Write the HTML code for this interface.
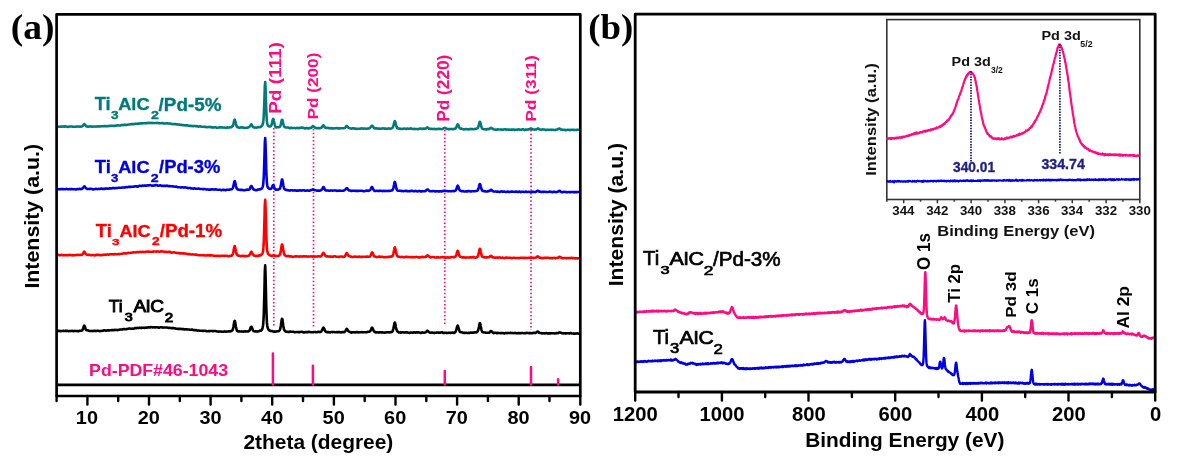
<!DOCTYPE html>
<html><head><meta charset="utf-8"><style>
html,body{margin:0;padding:0;background:#fff;}
body{width:1178px;height:462px;overflow:hidden;}
svg{display:block;filter:blur(0.3px);}
</style></head><body>
<svg width="1178" height="462" viewBox="0 0 1178 462">
<rect width="1178" height="462" fill="#fff"/>
<line x1="273.8" y1="128" x2="273.8" y2="326" stroke="#ff0a80" stroke-width="1.7" stroke-dasharray="1.5 2.2"/>
<line x1="313.5" y1="129" x2="313.5" y2="327" stroke="#ff0a80" stroke-width="1.7" stroke-dasharray="1.5 2.2"/>
<line x1="444.8" y1="130" x2="444.8" y2="325" stroke="#ff0a80" stroke-width="1.7" stroke-dasharray="1.5 2.2"/>
<line x1="531.0" y1="130" x2="531.0" y2="330" stroke="#ff0a80" stroke-width="1.7" stroke-dasharray="1.5 2.2"/>
<path d="M56.6,126.7 L56.9,126.7 L57.3,126.6 L57.6,126.6 L58.0,126.6 L58.3,126.7 L58.7,126.7 L59.0,126.7 L59.4,126.7 L59.7,126.7 L60.1,126.7 L60.4,126.6 L60.8,126.6 L61.1,126.6 L61.5,126.6 L61.8,126.6 L62.2,126.6 L62.5,126.5 L62.9,126.5 L63.2,126.5 L63.6,126.6 L63.9,126.7 L64.3,126.7 L64.6,126.5 L65.0,126.4 L65.3,126.3 L65.7,126.4 L66.0,126.5 L66.4,126.7 L66.7,126.8 L67.1,126.8 L67.4,126.8 L67.8,126.8 L68.1,126.9 L68.5,126.9 L68.8,126.7 L69.2,126.6 L69.5,126.5 L69.9,126.5 L70.2,126.5 L70.6,126.5 L70.9,126.5 L71.3,126.5 L71.6,126.5 L72.0,126.6 L72.3,126.6 L72.7,126.7 L73.0,126.7 L73.4,126.8 L73.7,126.8 L74.1,126.7 L74.4,126.7 L74.8,126.7 L75.1,126.7 L75.5,126.7 L75.8,126.7 L76.2,126.6 L76.5,126.6 L76.9,126.5 L77.2,126.5 L77.6,126.6 L77.9,126.5 L78.3,126.5 L78.6,126.5 L79.0,126.5 L79.3,126.6 L79.7,126.6 L80.0,126.6 L80.4,126.5 L80.7,126.6 L81.1,126.6 L81.4,126.5 L81.8,126.4 L82.1,126.4 L82.5,126.2 L82.8,125.9 L83.2,125.4 L83.5,124.8 L83.9,124.4 L84.2,124.1 L84.5,124.2 L84.9,124.5 L85.2,124.9 L85.6,125.4 L85.9,125.9 L86.3,126.2 L86.6,126.4 L87.0,126.5 L87.3,126.6 L87.7,126.7 L88.0,126.7 L88.4,126.7 L88.7,126.6 L89.1,126.5 L89.4,126.5 L89.8,126.4 L90.1,126.4 L90.5,126.4 L90.8,126.4 L91.2,126.5 L91.5,126.6 L91.9,126.6 L92.2,126.7 L92.6,126.7 L92.9,126.7 L93.3,126.6 L93.6,126.5 L94.0,126.5 L94.3,126.5 L94.7,126.5 L95.0,126.5 L95.4,126.5 L95.7,126.6 L96.1,126.6 L96.4,126.5 L96.8,126.5 L97.1,126.4 L97.5,126.4 L97.8,126.5 L98.2,126.5 L98.5,126.4 L98.9,126.3 L99.2,126.3 L99.6,126.4 L99.9,126.5 L100.3,126.4 L100.6,126.3 L101.0,126.3 L101.3,126.2 L101.7,126.3 L102.0,126.3 L102.4,126.3 L102.7,126.3 L103.1,126.3 L103.4,126.2 L103.8,126.1 L104.1,126.1 L104.5,126.1 L104.8,126.0 L105.2,126.1 L105.5,126.1 L105.9,126.2 L106.2,126.2 L106.6,126.2 L106.9,126.2 L107.3,126.1 L107.6,126.1 L108.0,126.1 L108.3,126.1 L108.7,126.0 L109.0,126.0 L109.4,125.9 L109.7,125.8 L110.1,125.8 L110.4,125.9 L110.8,125.9 L111.1,125.9 L111.5,125.7 L111.8,125.7 L112.1,125.8 L112.5,125.8 L112.8,125.8 L113.2,125.8 L113.5,125.9 L113.9,125.9 L114.2,126.0 L114.6,126.0 L114.9,125.8 L115.3,125.7 L115.6,125.6 L116.0,125.6 L116.3,125.6 L116.7,125.5 L117.0,125.5 L117.4,125.4 L117.7,125.4 L118.1,125.4 L118.4,125.4 L118.8,125.5 L119.1,125.5 L119.5,125.5 L119.8,125.5 L120.2,125.5 L120.5,125.5 L120.9,125.4 L121.2,125.2 L121.6,125.0 L121.9,125.0 L122.3,125.0 L122.6,125.0 L123.0,125.1 L123.3,125.1 L123.7,124.9 L124.0,124.8 L124.4,124.7 L124.7,124.8 L125.1,124.9 L125.4,124.9 L125.8,124.9 L126.1,124.9 L126.5,125.0 L126.8,124.9 L127.2,124.8 L127.5,124.6 L127.9,124.6 L128.2,124.5 L128.6,124.5 L128.9,124.5 L129.3,124.5 L129.6,124.4 L130.0,124.4 L130.3,124.3 L130.7,124.3 L131.0,124.2 L131.4,124.1 L131.7,124.1 L132.1,124.1 L132.4,124.1 L132.8,124.1 L133.1,124.1 L133.5,124.1 L133.8,124.1 L134.2,124.0 L134.5,123.9 L134.9,123.8 L135.2,123.8 L135.6,123.7 L135.9,123.7 L136.3,123.7 L136.6,123.7 L137.0,123.8 L137.3,123.7 L137.7,123.6 L138.0,123.6 L138.4,123.6 L138.7,123.6 L139.1,123.6 L139.4,123.5 L139.7,123.5 L140.1,123.4 L140.4,123.4 L140.8,123.4 L141.1,123.4 L141.5,123.4 L141.8,123.4 L142.2,123.4 L142.5,123.3 L142.9,123.3 L143.2,123.3 L143.6,123.3 L143.9,123.3 L144.3,123.3 L144.6,123.3 L145.0,123.2 L145.3,123.2 L145.7,123.2 L146.0,123.1 L146.4,123.2 L146.7,123.2 L147.1,123.1 L147.4,123.1 L147.8,123.0 L148.1,122.9 L148.5,122.9 L148.8,122.9 L149.2,122.9 L149.5,123.0 L149.9,123.1 L150.2,123.0 L150.6,123.0 L150.9,122.9 L151.3,122.9 L151.6,123.0 L152.0,123.1 L152.3,123.1 L152.7,123.0 L153.0,123.0 L153.4,123.0 L153.7,123.0 L154.1,123.0 L154.4,123.1 L154.8,123.0 L155.1,123.0 L155.5,123.0 L155.8,123.0 L156.2,123.0 L156.5,123.0 L156.9,122.9 L157.2,122.9 L157.6,122.9 L157.9,123.0 L158.3,123.1 L158.6,123.2 L159.0,123.2 L159.3,123.2 L159.7,123.2 L160.0,123.2 L160.4,123.3 L160.7,123.3 L161.1,123.2 L161.4,123.2 L161.8,123.1 L162.1,123.1 L162.5,123.1 L162.8,123.2 L163.2,123.3 L163.5,123.4 L163.9,123.5 L164.2,123.5 L164.6,123.5 L164.9,123.5 L165.3,123.5 L165.6,123.4 L166.0,123.3 L166.3,123.3 L166.7,123.3 L167.0,123.3 L167.3,123.4 L167.7,123.4 L168.0,123.5 L168.4,123.6 L168.7,123.5 L169.1,123.5 L169.4,123.5 L169.8,123.5 L170.1,123.5 L170.5,123.6 L170.8,123.7 L171.2,123.9 L171.5,124.0 L171.9,124.1 L172.2,124.1 L172.6,124.0 L172.9,124.0 L173.3,124.1 L173.6,124.1 L174.0,124.2 L174.3,124.2 L174.7,124.1 L175.0,124.1 L175.4,124.1 L175.7,124.1 L176.1,124.2 L176.4,124.3 L176.8,124.4 L177.1,124.4 L177.5,124.4 L177.8,124.4 L178.2,124.5 L178.5,124.5 L178.9,124.6 L179.2,124.6 L179.6,124.7 L179.9,124.8 L180.3,124.9 L180.6,124.9 L181.0,124.9 L181.3,124.9 L181.7,124.9 L182.0,125.0 L182.4,125.0 L182.7,125.1 L183.1,125.1 L183.4,125.1 L183.8,125.2 L184.1,125.3 L184.5,125.3 L184.8,125.3 L185.2,125.4 L185.5,125.4 L185.9,125.4 L186.2,125.4 L186.6,125.3 L186.9,125.3 L187.3,125.3 L187.6,125.4 L188.0,125.5 L188.3,125.6 L188.7,125.7 L189.0,125.7 L189.4,125.8 L189.7,125.9 L190.1,125.9 L190.4,125.8 L190.8,125.8 L191.1,125.8 L191.5,125.9 L191.8,126.0 L192.2,126.0 L192.5,126.1 L192.9,126.1 L193.2,126.1 L193.6,126.1 L193.9,126.0 L194.3,126.0 L194.6,126.0 L194.9,126.0 L195.3,126.1 L195.6,126.1 L196.0,126.1 L196.3,126.1 L196.7,126.2 L197.0,126.3 L197.4,126.4 L197.7,126.4 L198.1,126.5 L198.4,126.6 L198.8,126.6 L199.1,126.5 L199.5,126.4 L199.8,126.3 L200.2,126.3 L200.5,126.4 L200.9,126.5 L201.2,126.6 L201.6,126.7 L201.9,126.8 L202.3,126.8 L202.6,126.8 L203.0,126.8 L203.3,126.8 L203.7,126.8 L204.0,126.8 L204.4,126.9 L204.7,126.9 L205.1,126.9 L205.4,126.9 L205.8,127.0 L206.1,127.0 L206.5,127.1 L206.8,127.2 L207.2,127.2 L207.5,127.2 L207.9,127.1 L208.2,127.1 L208.6,127.0 L208.9,127.0 L209.3,127.0 L209.6,126.9 L210.0,126.9 L210.3,127.0 L210.7,127.1 L211.0,127.3 L211.4,127.4 L211.7,127.4 L212.1,127.3 L212.4,127.3 L212.8,127.4 L213.1,127.5 L213.5,127.6 L213.8,127.5 L214.2,127.4 L214.5,127.3 L214.9,127.2 L215.2,127.2 L215.6,127.3 L215.9,127.5 L216.3,127.6 L216.6,127.7 L217.0,127.7 L217.3,127.7 L217.7,127.7 L218.0,127.7 L218.4,127.6 L218.7,127.5 L219.1,127.4 L219.4,127.4 L219.8,127.4 L220.1,127.4 L220.5,127.4 L220.8,127.4 L221.2,127.3 L221.5,127.3 L221.9,127.3 L222.2,127.4 L222.5,127.5 L222.9,127.6 L223.2,127.6 L223.6,127.5 L223.9,127.5 L224.3,127.5 L224.6,127.6 L225.0,127.7 L225.3,127.8 L225.7,127.9 L226.0,127.8 L226.4,127.8 L226.7,127.7 L227.1,127.5 L227.4,127.4 L227.8,127.4 L228.1,127.5 L228.5,127.6 L228.8,127.6 L229.2,127.5 L229.5,127.4 L229.9,127.3 L230.2,127.2 L230.6,127.2 L230.9,127.2 L231.3,127.2 L231.6,127.0 L232.0,126.8 L232.3,126.4 L232.7,125.9 L233.0,125.2 L233.4,124.1 L233.7,122.7 L234.1,121.1 L234.4,119.9 L234.8,119.7 L235.1,120.6 L235.5,122.1 L235.8,123.6 L236.2,124.8 L236.5,125.8 L236.9,126.5 L237.2,127.0 L237.6,127.2 L237.9,127.3 L238.3,127.4 L238.6,127.4 L239.0,127.5 L239.3,127.7 L239.7,127.7 L240.0,127.7 L240.4,127.6 L240.7,127.5 L241.1,127.3 L241.4,127.2 L241.8,127.2 L242.1,127.4 L242.5,127.5 L242.8,127.6 L243.2,127.6 L243.5,127.7 L243.9,127.8 L244.2,127.9 L244.6,128.0 L244.9,127.9 L245.3,127.8 L245.6,127.7 L246.0,127.7 L246.3,127.7 L246.7,127.7 L247.0,127.7 L247.4,127.6 L247.7,127.6 L248.1,127.5 L248.4,127.4 L248.8,127.2 L249.1,127.0 L249.5,126.7 L249.8,126.4 L250.1,126.0 L250.5,125.4 L250.8,124.8 L251.2,124.4 L251.5,124.4 L251.9,124.9 L252.2,125.6 L252.6,126.3 L252.9,126.9 L253.3,127.2 L253.6,127.3 L254.0,127.4 L254.3,127.5 L254.7,127.6 L255.0,127.5 L255.4,127.5 L255.7,127.6 L256.1,127.7 L256.4,127.7 L256.8,127.6 L257.1,127.4 L257.5,127.2 L257.8,127.0 L258.2,127.1 L258.5,127.2 L258.9,127.3 L259.2,127.3 L259.6,127.3 L259.9,127.2 L260.3,127.0 L260.6,126.9 L261.0,126.6 L261.3,126.3 L261.7,125.9 L262.0,125.5 L262.4,125.1 L262.7,124.3 L263.1,123.0 L263.4,120.4 L263.8,115.5 L264.1,107.7 L264.5,97.1 L264.8,86.6 L265.2,82.0 L265.5,87.4 L265.9,98.3 L266.2,108.8 L266.6,116.5 L266.9,121.2 L267.3,123.7 L267.6,125.0 L268.0,125.6 L268.3,126.0 L268.7,126.1 L269.0,126.3 L269.4,126.4 L269.7,126.5 L270.1,126.5 L270.4,126.3 L270.8,126.1 L271.1,125.7 L271.5,125.0 L271.8,123.9 L272.2,122.4 L272.5,120.8 L272.9,119.4 L273.2,118.9 L273.6,119.6 L273.9,121.1 L274.3,122.7 L274.6,124.3 L275.0,125.5 L275.3,126.5 L275.7,127.1 L276.0,127.3 L276.4,127.4 L276.7,127.3 L277.1,127.3 L277.4,127.3 L277.7,127.3 L278.1,127.3 L278.4,127.2 L278.8,127.2 L279.1,127.1 L279.5,127.0 L279.8,126.8 L280.2,126.2 L280.5,125.4 L280.9,124.1 L281.2,122.5 L281.6,120.8 L281.9,119.7 L282.3,119.7 L282.6,120.8 L283.0,122.5 L283.3,124.2 L283.7,125.4 L284.0,126.2 L284.4,126.7 L284.7,127.0 L285.1,127.2 L285.4,127.3 L285.8,127.4 L286.1,127.5 L286.5,127.5 L286.8,127.5 L287.2,127.5 L287.5,127.5 L287.9,127.6 L288.2,127.6 L288.6,127.7 L288.9,127.9 L289.3,128.1 L289.6,128.1 L290.0,128.1 L290.3,127.9 L290.7,127.8 L291.0,127.8 L291.4,127.8 L291.7,127.9 L292.1,128.0 L292.4,128.0 L292.8,128.1 L293.1,128.0 L293.5,128.0 L293.8,128.0 L294.2,128.0 L294.5,128.0 L294.9,128.1 L295.2,128.2 L295.6,128.2 L295.9,128.2 L296.3,128.1 L296.6,128.0 L297.0,127.9 L297.3,127.8 L297.7,127.9 L298.0,128.1 L298.4,128.2 L298.7,128.2 L299.1,128.2 L299.4,128.1 L299.8,127.9 L300.1,127.8 L300.5,127.8 L300.8,127.8 L301.2,127.7 L301.5,127.6 L301.9,127.6 L302.2,127.6 L302.6,127.8 L302.9,127.9 L303.3,127.9 L303.6,127.9 L304.0,128.0 L304.3,128.1 L304.7,128.3 L305.0,128.4 L305.3,128.4 L305.7,128.3 L306.0,128.2 L306.4,128.1 L306.7,128.1 L307.1,128.1 L307.4,128.2 L307.8,128.3 L308.1,128.4 L308.5,128.4 L308.8,128.3 L309.2,128.2 L309.5,128.0 L309.9,127.9 L310.2,127.9 L310.6,127.9 L310.9,127.9 L311.3,127.8 L311.6,127.5 L312.0,127.1 L312.3,126.6 L312.7,126.2 L313.0,126.1 L313.4,126.4 L313.7,126.8 L314.1,127.1 L314.4,127.4 L314.8,127.6 L315.1,127.7 L315.5,127.8 L315.8,127.9 L316.2,128.0 L316.5,128.2 L316.9,128.3 L317.2,128.3 L317.6,128.2 L317.9,128.0 L318.3,128.0 L318.6,128.1 L319.0,128.2 L319.3,128.2 L319.7,128.2 L320.0,128.1 L320.4,128.0 L320.7,127.9 L321.1,127.7 L321.4,127.6 L321.8,127.3 L322.1,126.8 L322.5,126.3 L322.8,125.7 L323.2,125.3 L323.5,125.3 L323.9,125.7 L324.2,126.4 L324.6,126.9 L324.9,127.3 L325.3,127.6 L325.6,127.8 L326.0,128.0 L326.3,128.0 L326.7,127.9 L327.0,127.9 L327.4,127.9 L327.7,127.8 L328.1,127.8 L328.4,127.9 L328.8,128.0 L329.1,128.2 L329.5,128.3 L329.8,128.4 L330.2,128.3 L330.5,128.2 L330.9,128.1 L331.2,128.2 L331.6,128.3 L331.9,128.4 L332.2,128.4 L332.6,128.4 L332.9,128.4 L333.3,128.5 L333.6,128.5 L334.0,128.5 L334.3,128.3 L334.7,128.2 L335.0,128.2 L335.4,128.3 L335.7,128.3 L336.1,128.2 L336.4,128.1 L336.8,128.0 L337.1,128.1 L337.5,128.2 L337.8,128.4 L338.2,128.4 L338.5,128.4 L338.9,128.4 L339.2,128.4 L339.6,128.4 L339.9,128.3 L340.3,128.3 L340.6,128.3 L341.0,128.3 L341.3,128.3 L341.7,128.2 L342.0,128.2 L342.4,128.2 L342.7,128.3 L343.1,128.3 L343.4,128.3 L343.8,128.3 L344.1,128.2 L344.5,128.1 L344.8,128.0 L345.2,127.7 L345.5,127.4 L345.9,126.9 L346.2,126.4 L346.6,126.0 L346.9,126.0 L347.3,126.3 L347.6,126.8 L348.0,127.3 L348.3,127.6 L348.7,127.8 L349.0,128.0 L349.4,128.1 L349.7,128.2 L350.1,128.3 L350.4,128.4 L350.8,128.5 L351.1,128.6 L351.5,128.7 L351.8,128.7 L352.2,128.5 L352.5,128.4 L352.9,128.2 L353.2,128.2 L353.6,128.3 L353.9,128.5 L354.3,128.7 L354.6,128.7 L355.0,128.6 L355.3,128.6 L355.7,128.7 L356.0,128.8 L356.4,128.9 L356.7,128.9 L357.1,128.9 L357.4,128.8 L357.8,128.7 L358.1,128.7 L358.5,128.7 L358.8,128.7 L359.2,128.7 L359.5,128.7 L359.8,128.8 L360.2,128.8 L360.5,128.6 L360.9,128.5 L361.2,128.4 L361.6,128.4 L361.9,128.4 L362.3,128.5 L362.6,128.5 L363.0,128.6 L363.3,128.6 L363.7,128.6 L364.0,128.5 L364.4,128.5 L364.7,128.5 L365.1,128.6 L365.4,128.7 L365.8,128.8 L366.1,128.8 L366.5,128.8 L366.8,128.8 L367.2,128.7 L367.5,128.6 L367.9,128.5 L368.2,128.5 L368.6,128.5 L368.9,128.5 L369.3,128.4 L369.6,128.2 L370.0,127.9 L370.3,127.6 L370.7,127.2 L371.0,126.7 L371.4,126.2 L371.7,125.8 L372.1,125.7 L372.4,125.8 L372.8,126.3 L373.1,126.8 L373.5,127.3 L373.8,127.8 L374.2,128.1 L374.5,128.3 L374.9,128.4 L375.2,128.4 L375.6,128.4 L375.9,128.4 L376.3,128.4 L376.6,128.4 L377.0,128.4 L377.3,128.5 L377.7,128.6 L378.0,128.6 L378.4,128.6 L378.7,128.6 L379.1,128.6 L379.4,128.7 L379.8,128.8 L380.1,128.8 L380.5,128.8 L380.8,128.7 L381.2,128.6 L381.5,128.6 L381.9,128.5 L382.2,128.5 L382.6,128.4 L382.9,128.4 L383.3,128.4 L383.6,128.5 L384.0,128.6 L384.3,128.6 L384.7,128.6 L385.0,128.6 L385.4,128.6 L385.7,128.6 L386.1,128.6 L386.4,128.8 L386.8,128.8 L387.1,128.9 L387.4,128.8 L387.8,128.7 L388.1,128.5 L388.5,128.4 L388.8,128.4 L389.2,128.5 L389.5,128.6 L389.9,128.7 L390.2,128.7 L390.6,128.7 L390.9,128.6 L391.3,128.5 L391.6,128.3 L392.0,128.1 L392.3,127.9 L392.7,127.5 L393.0,126.9 L393.4,126.0 L393.7,124.7 L394.1,123.2 L394.4,121.8 L394.8,121.1 L395.1,121.5 L395.5,122.7 L395.8,124.1 L396.2,125.5 L396.5,126.6 L396.9,127.5 L397.2,128.0 L397.6,128.4 L397.9,128.5 L398.3,128.6 L398.6,128.5 L399.0,128.4 L399.3,128.5 L399.7,128.7 L400.0,128.8 L400.4,128.9 L400.7,128.8 L401.1,128.7 L401.4,128.7 L401.8,128.8 L402.1,128.9 L402.5,129.0 L402.8,128.9 L403.2,128.8 L403.5,128.7 L403.9,128.6 L404.2,128.5 L404.6,128.5 L404.9,128.6 L405.3,128.7 L405.6,128.8 L406.0,128.9 L406.3,128.9 L406.7,128.8 L407.0,128.7 L407.4,128.6 L407.7,128.7 L408.1,128.7 L408.4,128.8 L408.8,128.8 L409.1,128.8 L409.5,128.8 L409.8,128.7 L410.2,128.5 L410.5,128.4 L410.9,128.4 L411.2,128.5 L411.6,128.6 L411.9,128.8 L412.3,128.9 L412.6,129.0 L413.0,129.0 L413.3,129.0 L413.7,129.0 L414.0,128.9 L414.4,128.9 L414.7,128.9 L415.0,129.0 L415.4,129.0 L415.7,129.1 L416.1,129.0 L416.4,129.0 L416.8,129.0 L417.1,129.0 L417.5,129.1 L417.8,129.1 L418.2,129.1 L418.5,129.0 L418.9,128.9 L419.2,128.8 L419.6,128.7 L419.9,128.6 L420.3,128.5 L420.6,128.5 L421.0,128.6 L421.3,128.7 L421.7,128.9 L422.0,128.9 L422.4,128.9 L422.7,128.8 L423.1,128.7 L423.4,128.6 L423.8,128.6 L424.1,128.7 L424.5,128.7 L424.8,128.7 L425.2,128.6 L425.5,128.6 L425.9,128.5 L426.2,128.3 L426.6,128.0 L426.9,127.7 L427.3,127.4 L427.6,127.5 L428.0,127.8 L428.3,128.2 L428.7,128.6 L429.0,128.8 L429.4,128.8 L429.7,128.8 L430.1,128.9 L430.4,128.9 L430.8,128.9 L431.1,128.9 L431.5,128.9 L431.8,128.9 L432.2,128.9 L432.5,129.0 L432.9,129.0 L433.2,129.1 L433.6,129.0 L433.9,128.9 L434.3,128.9 L434.6,128.9 L435.0,129.0 L435.3,129.1 L435.7,129.1 L436.0,129.1 L436.4,129.1 L436.7,129.0 L437.1,129.0 L437.4,129.0 L437.8,128.9 L438.1,128.9 L438.5,128.9 L438.8,128.9 L439.2,128.9 L439.5,128.9 L439.9,129.0 L440.2,129.0 L440.6,129.0 L440.9,129.0 L441.3,129.0 L441.6,129.1 L442.0,129.1 L442.3,129.0 L442.6,128.9 L443.0,128.7 L443.3,128.5 L443.7,128.3 L444.0,128.1 L444.4,128.0 L444.7,127.8 L445.1,127.9 L445.4,128.1 L445.8,128.3 L446.1,128.5 L446.5,128.7 L446.8,128.9 L447.2,129.0 L447.5,129.0 L447.9,129.1 L448.2,129.1 L448.6,129.1 L448.9,129.1 L449.3,129.1 L449.6,129.1 L450.0,129.1 L450.3,129.1 L450.7,129.0 L451.0,129.0 L451.4,129.0 L451.7,129.0 L452.1,129.1 L452.4,129.2 L452.8,129.2 L453.1,129.2 L453.5,129.1 L453.8,128.9 L454.2,128.8 L454.5,128.7 L454.9,128.7 L455.2,128.5 L455.6,128.3 L455.9,128.0 L456.3,127.3 L456.6,126.5 L457.0,125.5 L457.3,124.7 L457.7,124.3 L458.0,124.6 L458.4,125.3 L458.7,126.2 L459.1,127.0 L459.4,127.7 L459.8,128.2 L460.1,128.5 L460.5,128.6 L460.8,128.7 L461.2,128.6 L461.5,128.7 L461.9,128.8 L462.2,128.9 L462.6,129.0 L462.9,129.2 L463.3,129.3 L463.6,129.4 L464.0,129.4 L464.3,129.3 L464.7,129.3 L465.0,129.2 L465.4,129.1 L465.7,129.1 L466.1,129.1 L466.4,129.2 L466.8,129.2 L467.1,129.3 L467.5,129.2 L467.8,129.2 L468.2,129.3 L468.5,129.4 L468.9,129.4 L469.2,129.2 L469.6,129.0 L469.9,129.0 L470.2,129.0 L470.6,129.1 L470.9,129.2 L471.3,129.2 L471.6,129.1 L472.0,129.1 L472.3,129.1 L472.7,129.2 L473.0,129.3 L473.4,129.3 L473.7,129.3 L474.1,129.2 L474.4,129.0 L474.8,128.9 L475.1,128.9 L475.5,129.0 L475.8,128.9 L476.2,128.8 L476.5,128.7 L476.9,128.5 L477.2,128.4 L477.6,128.1 L477.9,127.7 L478.3,126.9 L478.6,125.7 L479.0,124.3 L479.3,122.9 L479.7,121.9 L480.0,121.9 L480.4,122.8 L480.7,124.2 L481.1,125.7 L481.4,127.0 L481.8,127.8 L482.1,128.3 L482.5,128.6 L482.8,128.9 L483.2,129.1 L483.5,129.2 L483.9,129.3 L484.2,129.2 L484.6,129.2 L484.9,129.2 L485.3,129.3 L485.6,129.5 L486.0,129.5 L486.3,129.5 L486.7,129.3 L487.0,129.1 L487.4,129.0 L487.7,129.0 L488.1,129.1 L488.4,129.2 L488.8,129.1 L489.1,129.0 L489.5,128.8 L489.8,128.5 L490.2,128.3 L490.5,128.0 L490.9,127.9 L491.2,127.9 L491.6,128.1 L491.9,128.4 L492.3,128.5 L492.6,128.7 L493.0,128.9 L493.3,129.1 L493.7,129.3 L494.0,129.4 L494.4,129.5 L494.7,129.5 L495.1,129.6 L495.4,129.7 L495.8,129.8 L496.1,129.8 L496.5,129.8 L496.8,129.6 L497.2,129.4 L497.5,129.3 L497.8,129.3 L498.2,129.4 L498.5,129.5 L498.9,129.5 L499.2,129.5 L499.6,129.5 L499.9,129.5 L500.3,129.5 L500.6,129.5 L501.0,129.5 L501.3,129.6 L501.7,129.6 L502.0,129.6 L502.4,129.6 L502.7,129.6 L503.1,129.7 L503.4,129.6 L503.8,129.5 L504.1,129.4 L504.5,129.3 L504.8,129.2 L505.2,129.2 L505.5,129.3 L505.9,129.4 L506.2,129.6 L506.6,129.6 L506.9,129.6 L507.3,129.5 L507.6,129.6 L508.0,129.7 L508.3,129.7 L508.7,129.6 L509.0,129.6 L509.4,129.7 L509.7,129.8 L510.1,129.8 L510.4,129.8 L510.8,129.7 L511.1,129.6 L511.5,129.6 L511.8,129.6 L512.2,129.6 L512.5,129.6 L512.9,129.6 L513.2,129.6 L513.6,129.5 L513.9,129.6 L514.3,129.8 L514.6,129.9 L515.0,129.8 L515.3,129.8 L515.7,129.7 L516.0,129.7 L516.4,129.7 L516.7,129.7 L517.1,129.6 L517.4,129.6 L517.8,129.6 L518.1,129.5 L518.5,129.4 L518.8,129.4 L519.2,129.4 L519.5,129.6 L519.9,129.7 L520.2,129.7 L520.6,129.7 L520.9,129.7 L521.3,129.7 L521.6,129.5 L522.0,129.4 L522.3,129.2 L522.7,129.2 L523.0,129.2 L523.4,129.4 L523.7,129.7 L524.1,129.8 L524.4,129.9 L524.8,129.8 L525.1,129.7 L525.4,129.7 L525.8,129.6 L526.1,129.6 L526.5,129.6 L526.8,129.6 L527.2,129.6 L527.5,129.5 L527.9,129.5 L528.2,129.4 L528.6,129.4 L528.9,129.4 L529.3,129.3 L529.6,129.1 L530.0,128.9 L530.3,128.6 L530.7,128.4 L531.0,128.4 L531.4,128.6 L531.7,128.9 L532.1,129.2 L532.4,129.3 L532.8,129.4 L533.1,129.4 L533.5,129.5 L533.8,129.5 L534.2,129.5 L534.5,129.6 L534.9,129.6 L535.2,129.6 L535.6,129.5 L535.9,129.4 L536.3,129.4 L536.6,129.3 L537.0,129.1 L537.3,128.8 L537.7,128.5 L538.0,128.4 L538.4,128.6 L538.7,128.9 L539.1,129.2 L539.4,129.3 L539.8,129.4 L540.1,129.5 L540.5,129.7 L540.8,129.8 L541.2,129.8 L541.5,129.7 L541.9,129.6 L542.2,129.5 L542.6,129.4 L542.9,129.4 L543.3,129.4 L543.6,129.5 L544.0,129.5 L544.3,129.6 L544.7,129.7 L545.0,129.8 L545.4,129.9 L545.7,129.9 L546.1,129.9 L546.4,129.9 L546.8,129.8 L547.1,129.7 L547.5,129.7 L547.8,129.7 L548.2,129.9 L548.5,129.9 L548.9,129.8 L549.2,129.7 L549.6,129.7 L549.9,129.7 L550.3,129.7 L550.6,129.8 L551.0,129.8 L551.3,129.8 L551.7,129.9 L552.0,129.9 L552.4,129.8 L552.7,129.8 L553.0,129.7 L553.4,129.7 L553.7,129.8 L554.1,129.9 L554.4,130.0 L554.8,130.0 L555.1,130.0 L555.5,130.0 L555.8,129.8 L556.2,129.6 L556.5,129.5 L556.9,129.5 L557.2,129.5 L557.6,129.4 L557.9,129.2 L558.3,129.0 L558.6,128.7 L559.0,128.6 L559.3,128.6 L559.7,128.7 L560.0,128.9 L560.4,129.2 L560.7,129.5 L561.1,129.6 L561.4,129.6 L561.8,129.6 L562.1,129.7 L562.5,129.8 L562.8,129.9 L563.2,129.8 L563.5,129.7 L563.9,129.7 L564.2,129.7 L564.6,129.8 L564.9,129.9 L565.3,130.1 L565.6,130.2 L566.0,130.1 L566.3,130.1 L566.7,130.0 L567.0,129.9 L567.4,129.8 L567.7,129.8 L568.1,129.8 L568.4,129.8 L568.8,129.8 L569.1,129.9 L569.5,130.0 L569.8,130.1 L570.2,130.0 L570.5,130.0 L570.9,129.8 L571.2,129.7 L571.6,129.7 L571.9,129.7 L572.3,129.7 L572.6,129.7 L573.0,129.7 L573.3,129.7 L573.7,129.8 L574.0,129.9 L574.4,129.9 L574.7,130.0 L575.1,130.0 L575.4,130.0 L575.8,130.0 L576.1,130.0 L576.5,129.9 L576.8,129.8 L577.2,129.7 L577.5,129.8 L577.9,129.8 L578.2,129.7 L578.6,129.7 L578.9,129.7 L579.3,129.8 L579.6,129.9 L580.0,129.9 L580.3,130.0" fill="none" stroke="#007a7a" stroke-width="2.6" stroke-linejoin="round"/>
<path d="M56.6,189.0 L56.9,189.0 L57.3,188.9 L57.6,189.0 L58.0,189.1 L58.3,189.3 L58.7,189.3 L59.0,189.2 L59.4,189.2 L59.7,189.2 L60.1,189.1 L60.4,189.1 L60.8,189.0 L61.1,189.1 L61.5,189.1 L61.8,189.1 L62.2,189.1 L62.5,189.1 L62.9,189.1 L63.2,189.1 L63.6,189.2 L63.9,189.2 L64.3,189.2 L64.6,189.2 L65.0,189.2 L65.3,189.2 L65.7,189.1 L66.0,189.0 L66.4,188.9 L66.7,188.9 L67.1,189.1 L67.4,189.2 L67.8,189.3 L68.1,189.3 L68.5,189.3 L68.8,189.2 L69.2,189.2 L69.5,189.1 L69.9,189.1 L70.2,189.1 L70.6,189.2 L70.9,189.2 L71.3,189.1 L71.6,189.1 L72.0,189.1 L72.3,189.2 L72.7,189.2 L73.0,189.2 L73.4,189.2 L73.7,189.2 L74.1,189.2 L74.4,189.2 L74.8,189.2 L75.1,189.3 L75.5,189.4 L75.8,189.5 L76.2,189.5 L76.5,189.3 L76.9,189.2 L77.2,189.1 L77.6,189.1 L77.9,189.1 L78.3,189.1 L78.6,189.1 L79.0,189.0 L79.3,188.8 L79.7,188.8 L80.0,188.8 L80.4,189.0 L80.7,189.1 L81.1,189.1 L81.4,189.0 L81.8,188.9 L82.1,188.7 L82.5,188.4 L82.8,188.0 L83.2,187.6 L83.5,187.2 L83.9,186.7 L84.2,186.3 L84.5,186.3 L84.9,186.7 L85.2,187.2 L85.6,187.8 L85.9,188.1 L86.3,188.4 L86.6,188.7 L87.0,188.9 L87.3,189.0 L87.7,189.0 L88.0,189.1 L88.4,189.0 L88.7,189.0 L89.1,188.9 L89.4,188.9 L89.8,188.9 L90.1,188.9 L90.5,188.8 L90.8,188.8 L91.2,188.8 L91.5,188.8 L91.9,188.9 L92.2,189.1 L92.6,189.3 L92.9,189.4 L93.3,189.4 L93.6,189.3 L94.0,189.2 L94.3,189.2 L94.7,189.1 L95.0,189.0 L95.4,188.9 L95.7,188.9 L96.1,188.9 L96.4,188.9 L96.8,189.0 L97.1,189.0 L97.5,189.1 L97.8,189.1 L98.2,189.0 L98.5,188.9 L98.9,188.9 L99.2,188.9 L99.6,189.0 L99.9,188.9 L100.3,188.8 L100.6,188.7 L101.0,188.6 L101.3,188.6 L101.7,188.7 L102.0,188.8 L102.4,188.9 L102.7,188.9 L103.1,188.9 L103.4,188.9 L103.8,188.9 L104.1,188.9 L104.5,188.9 L104.8,188.7 L105.2,188.6 L105.5,188.6 L105.9,188.6 L106.2,188.6 L106.6,188.5 L106.9,188.5 L107.3,188.6 L107.6,188.6 L108.0,188.7 L108.3,188.7 L108.7,188.6 L109.0,188.5 L109.4,188.4 L109.7,188.4 L110.1,188.3 L110.4,188.4 L110.8,188.4 L111.1,188.5 L111.5,188.5 L111.8,188.4 L112.1,188.3 L112.5,188.1 L112.8,188.0 L113.2,188.0 L113.5,188.0 L113.9,188.1 L114.2,188.2 L114.6,188.2 L114.9,188.3 L115.3,188.2 L115.6,188.1 L116.0,188.1 L116.3,188.0 L116.7,188.0 L117.0,188.0 L117.4,188.0 L117.7,187.9 L118.1,187.8 L118.4,187.7 L118.8,187.8 L119.1,187.8 L119.5,187.8 L119.8,187.7 L120.2,187.7 L120.5,187.7 L120.9,187.8 L121.2,187.8 L121.6,187.8 L121.9,187.7 L122.3,187.5 L122.6,187.5 L123.0,187.5 L123.3,187.5 L123.7,187.5 L124.0,187.5 L124.4,187.5 L124.7,187.6 L125.1,187.5 L125.4,187.3 L125.8,187.2 L126.1,187.2 L126.5,187.1 L126.8,187.2 L127.2,187.2 L127.5,187.2 L127.9,187.1 L128.2,187.0 L128.6,186.8 L128.9,186.7 L129.3,186.8 L129.6,186.9 L130.0,187.0 L130.3,186.9 L130.7,186.9 L131.0,186.9 L131.4,186.8 L131.7,186.8 L132.1,186.8 L132.4,186.8 L132.8,186.8 L133.1,186.8 L133.5,186.8 L133.8,186.7 L134.2,186.5 L134.5,186.4 L134.9,186.4 L135.2,186.3 L135.6,186.3 L135.9,186.2 L136.3,186.3 L136.6,186.4 L137.0,186.5 L137.3,186.7 L137.7,186.7 L138.0,186.5 L138.4,186.3 L138.7,186.1 L139.1,185.9 L139.4,185.8 L139.7,185.8 L140.1,185.7 L140.4,185.8 L140.8,185.9 L141.1,186.0 L141.5,186.0 L141.8,185.9 L142.2,185.7 L142.5,185.6 L142.9,185.6 L143.2,185.7 L143.6,185.8 L143.9,185.8 L144.3,185.7 L144.6,185.6 L145.0,185.5 L145.3,185.6 L145.7,185.6 L146.0,185.7 L146.4,185.7 L146.7,185.6 L147.1,185.5 L147.4,185.4 L147.8,185.4 L148.1,185.4 L148.5,185.4 L148.8,185.3 L149.2,185.3 L149.5,185.2 L149.9,185.2 L150.2,185.1 L150.6,185.2 L150.9,185.3 L151.3,185.4 L151.6,185.6 L152.0,185.7 L152.3,185.7 L152.7,185.6 L153.0,185.6 L153.4,185.6 L153.7,185.6 L154.1,185.5 L154.4,185.5 L154.8,185.4 L155.1,185.3 L155.5,185.2 L155.8,185.1 L156.2,185.1 L156.5,185.1 L156.9,185.2 L157.2,185.3 L157.6,185.5 L157.9,185.7 L158.3,185.8 L158.6,185.8 L159.0,185.7 L159.3,185.6 L159.7,185.5 L160.0,185.3 L160.4,185.3 L160.7,185.5 L161.1,185.7 L161.4,185.8 L161.8,185.9 L162.1,185.8 L162.5,185.8 L162.8,185.9 L163.2,185.9 L163.5,185.8 L163.9,185.8 L164.2,185.8 L164.6,185.9 L164.9,185.9 L165.3,185.9 L165.6,185.9 L166.0,185.9 L166.3,185.8 L166.7,185.7 L167.0,185.6 L167.3,185.8 L167.7,186.0 L168.0,186.1 L168.4,186.1 L168.7,186.1 L169.1,186.1 L169.4,186.1 L169.8,186.1 L170.1,186.2 L170.5,186.2 L170.8,186.3 L171.2,186.3 L171.5,186.3 L171.9,186.2 L172.2,186.2 L172.6,186.3 L172.9,186.4 L173.3,186.5 L173.6,186.5 L174.0,186.5 L174.3,186.6 L174.7,186.7 L175.0,186.8 L175.4,186.8 L175.7,186.7 L176.1,186.6 L176.4,186.7 L176.8,186.8 L177.1,187.0 L177.5,187.1 L177.8,187.2 L178.2,187.3 L178.5,187.3 L178.9,187.2 L179.2,187.2 L179.6,187.2 L179.9,187.3 L180.3,187.4 L180.6,187.5 L181.0,187.5 L181.3,187.4 L181.7,187.3 L182.0,187.3 L182.4,187.3 L182.7,187.3 L183.1,187.4 L183.4,187.5 L183.8,187.6 L184.1,187.6 L184.5,187.5 L184.8,187.4 L185.2,187.4 L185.5,187.4 L185.9,187.5 L186.2,187.6 L186.6,187.7 L186.9,187.7 L187.3,187.8 L187.6,188.0 L188.0,188.1 L188.3,188.1 L188.7,188.0 L189.0,188.0 L189.4,188.0 L189.7,188.0 L190.1,188.1 L190.4,188.1 L190.8,188.2 L191.1,188.4 L191.5,188.5 L191.8,188.5 L192.2,188.5 L192.5,188.5 L192.9,188.6 L193.2,188.7 L193.6,188.7 L193.9,188.6 L194.3,188.4 L194.6,188.4 L194.9,188.4 L195.3,188.5 L195.6,188.7 L196.0,188.8 L196.3,188.8 L196.7,188.8 L197.0,188.8 L197.4,188.8 L197.7,188.7 L198.1,188.7 L198.4,188.6 L198.8,188.6 L199.1,188.7 L199.5,188.7 L199.8,188.8 L200.2,188.9 L200.5,189.0 L200.9,189.0 L201.2,189.0 L201.6,189.0 L201.9,189.0 L202.3,189.1 L202.6,189.1 L203.0,189.1 L203.3,189.1 L203.7,189.1 L204.0,189.1 L204.4,189.0 L204.7,189.0 L205.1,189.1 L205.4,189.2 L205.8,189.3 L206.1,189.5 L206.5,189.5 L206.8,189.5 L207.2,189.4 L207.5,189.4 L207.9,189.5 L208.2,189.6 L208.6,189.6 L208.9,189.7 L209.3,189.7 L209.6,189.6 L210.0,189.6 L210.3,189.7 L210.7,189.7 L211.0,189.6 L211.4,189.4 L211.7,189.2 L212.1,189.2 L212.4,189.2 L212.8,189.3 L213.1,189.4 L213.5,189.5 L213.8,189.6 L214.2,189.6 L214.5,189.5 L214.9,189.4 L215.2,189.4 L215.6,189.3 L215.9,189.4 L216.3,189.5 L216.6,189.6 L217.0,189.7 L217.3,189.8 L217.7,189.8 L218.0,189.8 L218.4,189.8 L218.7,189.8 L219.1,189.8 L219.4,189.8 L219.8,189.8 L220.1,189.8 L220.5,189.9 L220.8,190.0 L221.2,190.1 L221.5,190.2 L221.9,190.1 L222.2,190.0 L222.5,189.9 L222.9,189.9 L223.2,189.9 L223.6,189.9 L223.9,189.9 L224.3,189.9 L224.6,190.0 L225.0,190.1 L225.3,190.1 L225.7,190.1 L226.0,189.9 L226.4,189.8 L226.7,189.7 L227.1,189.7 L227.4,189.7 L227.8,189.8 L228.1,189.8 L228.5,189.7 L228.8,189.7 L229.2,189.7 L229.5,189.6 L229.9,189.6 L230.2,189.5 L230.6,189.4 L230.9,189.3 L231.3,189.3 L231.6,189.3 L232.0,189.1 L232.3,188.8 L232.7,188.3 L233.0,187.5 L233.4,186.2 L233.7,184.5 L234.1,182.7 L234.4,181.3 L234.8,181.1 L235.1,182.0 L235.5,183.7 L235.8,185.5 L236.2,186.9 L236.5,188.0 L236.9,188.7 L237.2,189.2 L237.6,189.5 L237.9,189.5 L238.3,189.5 L238.6,189.6 L239.0,189.7 L239.3,189.8 L239.7,189.8 L240.0,189.9 L240.4,189.9 L240.7,189.9 L241.1,189.8 L241.4,189.9 L241.8,189.9 L242.1,189.9 L242.5,190.0 L242.8,190.1 L243.2,190.2 L243.5,190.3 L243.9,190.3 L244.2,190.2 L244.6,190.2 L244.9,190.2 L245.3,190.1 L245.6,190.0 L246.0,189.9 L246.3,189.8 L246.7,189.8 L247.0,189.7 L247.4,189.6 L247.7,189.6 L248.1,189.7 L248.4,189.7 L248.8,189.7 L249.1,189.6 L249.5,189.3 L249.8,188.8 L250.1,188.0 L250.5,187.2 L250.8,186.4 L251.2,186.0 L251.5,186.1 L251.9,186.6 L252.2,187.4 L252.6,188.0 L252.9,188.6 L253.3,189.1 L253.6,189.5 L254.0,189.7 L254.3,189.8 L254.7,189.9 L255.0,190.0 L255.4,190.1 L255.7,190.1 L256.1,190.1 L256.4,190.1 L256.8,190.1 L257.1,190.0 L257.5,189.9 L257.8,189.7 L258.2,189.5 L258.5,189.5 L258.9,189.4 L259.2,189.4 L259.6,189.4 L259.9,189.4 L260.3,189.3 L260.6,189.2 L261.0,189.0 L261.3,188.7 L261.7,188.5 L262.0,188.2 L262.4,187.7 L262.7,186.8 L263.1,185.1 L263.4,181.9 L263.8,176.4 L264.1,167.5 L264.5,155.4 L264.8,143.3 L265.2,138.0 L265.5,144.2 L265.9,156.6 L266.2,168.6 L266.6,177.3 L266.9,182.6 L267.3,185.5 L267.6,186.9 L268.0,187.6 L268.3,188.0 L268.7,188.3 L269.0,188.6 L269.4,188.8 L269.7,189.0 L270.1,189.0 L270.4,188.9 L270.8,188.8 L271.1,188.7 L271.5,188.3 L271.8,187.6 L272.2,186.8 L272.5,186.0 L272.9,185.2 L273.2,185.0 L273.6,185.4 L273.9,186.5 L274.3,187.6 L274.6,188.6 L275.0,189.1 L275.3,189.4 L275.7,189.5 L276.0,189.6 L276.4,189.6 L276.7,189.7 L277.1,189.7 L277.4,189.7 L277.7,189.6 L278.1,189.5 L278.4,189.4 L278.8,189.3 L279.1,189.2 L279.5,189.0 L279.8,188.5 L280.2,187.8 L280.5,186.7 L280.9,185.1 L281.2,183.0 L281.6,180.9 L281.9,179.5 L282.3,179.6 L282.6,181.1 L283.0,183.2 L283.3,185.3 L283.7,186.9 L284.0,188.1 L284.4,188.8 L284.7,189.2 L285.1,189.5 L285.4,189.7 L285.8,189.8 L286.1,189.9 L286.5,190.0 L286.8,190.1 L287.2,190.1 L287.5,190.2 L287.9,190.3 L288.2,190.3 L288.6,190.3 L288.9,190.4 L289.3,190.5 L289.6,190.6 L290.0,190.5 L290.3,190.4 L290.7,190.3 L291.0,190.3 L291.4,190.2 L291.7,190.2 L292.1,190.3 L292.4,190.4 L292.8,190.5 L293.1,190.5 L293.5,190.5 L293.8,190.5 L294.2,190.4 L294.5,190.3 L294.9,190.3 L295.2,190.4 L295.6,190.5 L295.9,190.6 L296.3,190.6 L296.6,190.6 L297.0,190.6 L297.3,190.6 L297.7,190.6 L298.0,190.6 L298.4,190.6 L298.7,190.5 L299.1,190.4 L299.4,190.3 L299.8,190.3 L300.1,190.4 L300.5,190.4 L300.8,190.5 L301.2,190.6 L301.5,190.6 L301.9,190.5 L302.2,190.4 L302.6,190.3 L302.9,190.2 L303.3,190.2 L303.6,190.3 L304.0,190.3 L304.3,190.4 L304.7,190.5 L305.0,190.7 L305.3,190.7 L305.7,190.7 L306.0,190.7 L306.4,190.6 L306.7,190.5 L307.1,190.4 L307.4,190.4 L307.8,190.5 L308.1,190.6 L308.5,190.7 L308.8,190.8 L309.2,190.8 L309.5,190.7 L309.9,190.5 L310.2,190.4 L310.6,190.2 L310.9,190.2 L311.3,190.1 L311.6,189.9 L312.0,189.8 L312.3,189.6 L312.7,189.4 L313.0,189.3 L313.4,189.5 L313.7,189.7 L314.1,190.0 L314.4,190.1 L314.8,190.2 L315.1,190.2 L315.5,190.2 L315.8,190.3 L316.2,190.3 L316.5,190.5 L316.9,190.6 L317.2,190.7 L317.6,190.7 L317.9,190.6 L318.3,190.6 L318.6,190.6 L319.0,190.7 L319.3,190.7 L319.7,190.7 L320.0,190.5 L320.4,190.4 L320.7,190.3 L321.1,190.1 L321.4,189.9 L321.8,189.7 L322.1,189.2 L322.5,188.6 L322.8,187.9 L323.2,187.2 L323.5,187.0 L323.9,187.4 L324.2,188.2 L324.6,189.0 L324.9,189.7 L325.3,190.1 L325.6,190.3 L326.0,190.5 L326.3,190.6 L326.7,190.5 L327.0,190.5 L327.4,190.4 L327.7,190.5 L328.1,190.5 L328.4,190.6 L328.8,190.7 L329.1,190.8 L329.5,190.8 L329.8,190.8 L330.2,190.6 L330.5,190.5 L330.9,190.4 L331.2,190.5 L331.6,190.5 L331.9,190.5 L332.2,190.6 L332.6,190.6 L332.9,190.6 L333.3,190.5 L333.6,190.5 L334.0,190.5 L334.3,190.5 L334.7,190.5 L335.0,190.5 L335.4,190.4 L335.7,190.5 L336.1,190.6 L336.4,190.7 L336.8,190.8 L337.1,190.9 L337.5,190.8 L337.8,190.7 L338.2,190.7 L338.5,190.7 L338.9,190.7 L339.2,190.6 L339.6,190.6 L339.9,190.7 L340.3,190.7 L340.6,190.8 L341.0,190.8 L341.3,190.8 L341.7,190.7 L342.0,190.7 L342.4,190.7 L342.7,190.7 L343.1,190.7 L343.4,190.7 L343.8,190.6 L344.1,190.4 L344.5,190.2 L344.8,190.0 L345.2,189.7 L345.5,189.4 L345.9,189.0 L346.2,188.6 L346.6,188.3 L346.9,188.2 L347.3,188.4 L347.6,188.8 L348.0,189.3 L348.3,189.8 L348.7,190.2 L349.0,190.5 L349.4,190.5 L349.7,190.5 L350.1,190.5 L350.4,190.6 L350.8,190.8 L351.1,190.9 L351.5,190.9 L351.8,190.9 L352.2,190.8 L352.5,190.7 L352.9,190.7 L353.2,190.7 L353.6,190.7 L353.9,190.8 L354.3,190.8 L354.6,190.8 L355.0,190.8 L355.3,190.9 L355.7,190.9 L356.0,190.9 L356.4,190.9 L356.7,190.8 L357.1,190.8 L357.4,190.8 L357.8,190.9 L358.1,190.9 L358.5,191.0 L358.8,190.9 L359.2,190.8 L359.5,190.8 L359.8,190.8 L360.2,190.7 L360.5,190.7 L360.9,190.8 L361.2,190.8 L361.6,190.7 L361.9,190.7 L362.3,190.9 L362.6,191.0 L363.0,191.1 L363.3,191.2 L363.7,191.3 L364.0,191.3 L364.4,191.2 L364.7,191.2 L365.1,191.1 L365.4,190.9 L365.8,190.8 L366.1,190.7 L366.5,190.6 L366.8,190.6 L367.2,190.6 L367.5,190.7 L367.9,190.8 L368.2,190.9 L368.6,190.8 L368.9,190.7 L369.3,190.5 L369.6,190.3 L370.0,190.1 L370.3,189.7 L370.7,189.1 L371.0,188.4 L371.4,187.6 L371.7,187.1 L372.1,187.0 L372.4,187.5 L372.8,188.3 L373.1,189.1 L373.5,189.7 L373.8,190.2 L374.2,190.5 L374.5,190.8 L374.9,191.0 L375.2,191.0 L375.6,191.0 L375.9,190.9 L376.3,190.8 L376.6,190.8 L377.0,190.8 L377.3,190.8 L377.7,190.9 L378.0,191.0 L378.4,191.0 L378.7,190.9 L379.1,190.9 L379.4,190.9 L379.8,190.9 L380.1,190.8 L380.5,190.8 L380.8,190.8 L381.2,190.8 L381.5,190.8 L381.9,190.9 L382.2,191.0 L382.6,191.1 L382.9,191.1 L383.3,191.0 L383.6,190.8 L384.0,190.8 L384.3,190.9 L384.7,191.0 L385.0,191.1 L385.4,191.0 L385.7,190.9 L386.1,190.9 L386.4,191.0 L386.8,191.0 L387.1,191.0 L387.4,191.0 L387.8,190.9 L388.1,190.9 L388.5,190.9 L388.8,191.0 L389.2,191.0 L389.5,190.9 L389.9,190.7 L390.2,190.7 L390.6,190.7 L390.9,190.7 L391.3,190.6 L391.6,190.5 L392.0,190.4 L392.3,190.2 L392.7,189.7 L393.0,189.0 L393.4,187.8 L393.7,186.3 L394.1,184.5 L394.4,182.8 L394.8,181.9 L395.1,182.4 L395.5,184.0 L395.8,185.9 L396.2,187.6 L396.5,188.9 L396.9,189.8 L397.2,190.3 L397.6,190.6 L397.9,190.7 L398.3,190.7 L398.6,190.8 L399.0,190.8 L399.3,190.8 L399.7,190.7 L400.0,190.7 L400.4,190.7 L400.7,190.8 L401.1,191.0 L401.4,191.0 L401.8,191.1 L402.1,191.0 L402.5,191.0 L402.8,191.1 L403.2,191.2 L403.5,191.2 L403.9,191.1 L404.2,191.0 L404.6,191.0 L404.9,191.0 L405.3,190.9 L405.6,190.8 L406.0,190.8 L406.3,190.8 L406.7,190.9 L407.0,191.1 L407.4,191.1 L407.7,191.2 L408.1,191.3 L408.4,191.3 L408.8,191.3 L409.1,191.2 L409.5,191.1 L409.8,191.1 L410.2,191.1 L410.5,191.1 L410.9,191.0 L411.2,190.9 L411.6,190.9 L411.9,190.8 L412.3,190.8 L412.6,190.9 L413.0,191.0 L413.3,191.2 L413.7,191.2 L414.0,191.2 L414.4,191.2 L414.7,191.2 L415.0,191.1 L415.4,190.9 L415.7,191.0 L416.1,191.1 L416.4,191.2 L416.8,191.3 L417.1,191.3 L417.5,191.4 L417.8,191.4 L418.2,191.2 L418.5,191.1 L418.9,191.0 L419.2,191.0 L419.6,191.1 L419.9,191.2 L420.3,191.3 L420.6,191.4 L421.0,191.4 L421.3,191.4 L421.7,191.4 L422.0,191.3 L422.4,191.3 L422.7,191.3 L423.1,191.3 L423.4,191.3 L423.8,191.3 L424.1,191.3 L424.5,191.3 L424.8,191.3 L425.2,191.2 L425.5,190.9 L425.9,190.6 L426.2,190.3 L426.6,190.0 L426.9,189.8 L427.3,189.6 L427.6,189.5 L428.0,189.7 L428.3,190.0 L428.7,190.3 L429.0,190.6 L429.4,190.9 L429.7,191.1 L430.1,191.2 L430.4,191.2 L430.8,191.3 L431.1,191.3 L431.5,191.3 L431.8,191.3 L432.2,191.3 L432.5,191.2 L432.9,191.1 L433.2,191.0 L433.6,191.0 L433.9,191.1 L434.3,191.2 L434.6,191.3 L435.0,191.4 L435.3,191.4 L435.7,191.4 L436.0,191.4 L436.4,191.3 L436.7,191.3 L437.1,191.3 L437.4,191.3 L437.8,191.3 L438.1,191.3 L438.5,191.4 L438.8,191.5 L439.2,191.5 L439.5,191.4 L439.9,191.2 L440.2,191.2 L440.6,191.2 L440.9,191.4 L441.3,191.4 L441.6,191.4 L442.0,191.3 L442.3,191.1 L442.6,191.0 L443.0,190.9 L443.3,190.9 L443.7,190.9 L444.0,191.0 L444.4,191.0 L444.7,191.0 L445.1,191.0 L445.4,191.0 L445.8,191.0 L446.1,191.0 L446.5,191.0 L446.8,191.0 L447.2,191.1 L447.5,191.2 L447.9,191.3 L448.2,191.2 L448.6,191.2 L448.9,191.2 L449.3,191.2 L449.6,191.2 L450.0,191.2 L450.3,191.2 L450.7,191.3 L451.0,191.3 L451.4,191.3 L451.7,191.3 L452.1,191.2 L452.4,191.1 L452.8,191.0 L453.1,191.0 L453.5,191.1 L453.8,191.1 L454.2,191.1 L454.5,191.0 L454.9,190.8 L455.2,190.7 L455.6,190.4 L455.9,190.0 L456.3,189.3 L456.6,188.4 L457.0,187.3 L457.3,186.2 L457.7,185.6 L458.0,186.0 L458.4,186.9 L458.7,188.1 L459.1,189.1 L459.4,189.8 L459.8,190.2 L460.1,190.5 L460.5,190.7 L460.8,190.9 L461.2,191.1 L461.5,191.2 L461.9,191.2 L462.2,191.2 L462.6,191.2 L462.9,191.1 L463.3,191.2 L463.6,191.3 L464.0,191.4 L464.3,191.5 L464.7,191.5 L465.0,191.5 L465.4,191.4 L465.7,191.3 L466.1,191.3 L466.4,191.3 L466.8,191.5 L467.1,191.5 L467.5,191.3 L467.8,191.1 L468.2,191.0 L468.5,191.1 L468.9,191.1 L469.2,191.2 L469.6,191.2 L469.9,191.2 L470.2,191.3 L470.6,191.4 L470.9,191.5 L471.3,191.4 L471.6,191.3 L472.0,191.3 L472.3,191.2 L472.7,191.2 L473.0,191.3 L473.4,191.3 L473.7,191.3 L474.1,191.3 L474.4,191.3 L474.8,191.3 L475.1,191.2 L475.5,191.1 L475.8,191.0 L476.2,191.0 L476.5,190.9 L476.9,190.8 L477.2,190.7 L477.6,190.5 L477.9,190.0 L478.3,189.1 L478.6,188.0 L479.0,186.6 L479.3,185.1 L479.7,184.1 L480.0,184.0 L480.4,184.9 L480.7,186.3 L481.1,187.7 L481.4,188.9 L481.8,189.7 L482.1,190.4 L482.5,190.8 L482.8,191.0 L483.2,191.0 L483.5,191.1 L483.9,191.1 L484.2,191.2 L484.6,191.3 L484.9,191.3 L485.3,191.4 L485.6,191.4 L486.0,191.4 L486.3,191.5 L486.7,191.5 L487.0,191.5 L487.4,191.4 L487.7,191.3 L488.1,191.2 L488.4,191.1 L488.8,191.1 L489.1,191.1 L489.5,190.9 L489.8,190.7 L490.2,190.5 L490.5,190.2 L490.9,189.9 L491.2,189.9 L491.6,190.1 L491.9,190.4 L492.3,190.7 L492.6,191.0 L493.0,191.2 L493.3,191.4 L493.7,191.4 L494.0,191.5 L494.4,191.5 L494.7,191.6 L495.1,191.5 L495.4,191.5 L495.8,191.5 L496.1,191.6 L496.5,191.7 L496.8,191.7 L497.2,191.6 L497.5,191.6 L497.8,191.7 L498.2,191.7 L498.5,191.8 L498.9,191.8 L499.2,191.9 L499.6,191.9 L499.9,191.9 L500.3,191.8 L500.6,191.6 L501.0,191.5 L501.3,191.4 L501.7,191.4 L502.0,191.5 L502.4,191.6 L502.7,191.7 L503.1,191.8 L503.4,191.7 L503.8,191.6 L504.1,191.6 L504.5,191.6 L504.8,191.7 L505.2,191.9 L505.5,191.9 L505.9,192.0 L506.2,192.0 L506.6,192.0 L506.9,191.8 L507.3,191.7 L507.6,191.6 L508.0,191.6 L508.3,191.8 L508.7,191.9 L509.0,191.9 L509.4,192.0 L509.7,191.9 L510.1,191.9 L510.4,191.8 L510.8,191.7 L511.1,191.7 L511.5,191.6 L511.8,191.6 L512.2,191.6 L512.5,191.7 L512.9,191.7 L513.2,191.7 L513.6,191.7 L513.9,191.7 L514.3,191.8 L514.6,191.8 L515.0,191.9 L515.3,191.8 L515.7,191.7 L516.0,191.6 L516.4,191.6 L516.7,191.7 L517.1,191.8 L517.4,191.9 L517.8,191.9 L518.1,191.9 L518.5,191.9 L518.8,191.8 L519.2,191.7 L519.5,191.6 L519.9,191.7 L520.2,191.9 L520.6,192.1 L520.9,192.1 L521.3,191.9 L521.6,191.8 L522.0,191.7 L522.3,191.7 L522.7,191.7 L523.0,191.7 L523.4,191.8 L523.7,191.9 L524.1,192.0 L524.4,192.0 L524.8,192.0 L525.1,191.8 L525.4,191.7 L525.8,191.6 L526.1,191.7 L526.5,191.9 L526.8,192.0 L527.2,192.0 L527.5,191.9 L527.9,191.8 L528.2,191.7 L528.6,191.7 L528.9,191.8 L529.3,191.9 L529.6,192.0 L530.0,192.1 L530.3,192.1 L530.7,192.0 L531.0,192.0 L531.4,191.9 L531.7,191.9 L532.1,191.9 L532.4,191.9 L532.8,191.9 L533.1,191.8 L533.5,191.7 L533.8,191.8 L534.2,192.0 L534.5,192.0 L534.9,192.1 L535.2,192.1 L535.6,192.0 L535.9,191.8 L536.3,191.5 L536.6,191.3 L537.0,191.0 L537.3,190.8 L537.7,190.8 L538.0,190.8 L538.4,191.0 L538.7,191.3 L539.1,191.5 L539.4,191.6 L539.8,191.6 L540.1,191.7 L540.5,191.8 L540.8,191.9 L541.2,192.0 L541.5,192.0 L541.9,191.9 L542.2,191.8 L542.6,191.8 L542.9,191.9 L543.3,191.9 L543.6,191.9 L544.0,191.8 L544.3,191.8 L544.7,191.8 L545.0,191.8 L545.4,191.9 L545.7,192.0 L546.1,192.0 L546.4,192.0 L546.8,191.9 L547.1,192.0 L547.5,192.0 L547.8,192.0 L548.2,192.0 L548.5,191.9 L548.9,191.8 L549.2,191.7 L549.6,191.6 L549.9,191.7 L550.3,191.8 L550.6,191.8 L551.0,191.9 L551.3,191.9 L551.7,192.0 L552.0,192.1 L552.4,192.2 L552.7,192.1 L553.0,191.9 L553.4,191.8 L553.7,191.8 L554.1,191.8 L554.4,191.9 L554.8,191.9 L555.1,192.0 L555.5,192.0 L555.8,192.1 L556.2,192.2 L556.5,192.2 L556.9,192.0 L557.2,191.9 L557.6,191.7 L557.9,191.6 L558.3,191.5 L558.6,191.4 L559.0,191.1 L559.3,190.9 L559.7,190.9 L560.0,191.1 L560.4,191.4 L560.7,191.7 L561.1,191.9 L561.4,192.1 L561.8,192.2 L562.1,192.3 L562.5,192.2 L562.8,192.1 L563.2,192.0 L563.5,191.9 L563.9,191.9 L564.2,192.0 L564.6,192.0 L564.9,191.9 L565.3,191.9 L565.6,192.0 L566.0,192.1 L566.3,192.1 L566.7,192.2 L567.0,192.2 L567.4,192.3 L567.7,192.2 L568.1,192.1 L568.4,192.0 L568.8,192.0 L569.1,192.1 L569.5,192.2 L569.8,192.2 L570.2,192.1 L570.5,192.1 L570.9,192.1 L571.2,192.1 L571.6,192.0 L571.9,192.0 L572.3,192.0 L572.6,192.0 L573.0,192.1 L573.3,192.1 L573.7,192.1 L574.0,192.1 L574.4,192.1 L574.7,192.1 L575.1,192.1 L575.4,192.1 L575.8,192.1 L576.1,192.1 L576.5,192.1 L576.8,192.1 L577.2,192.1 L577.5,192.0 L577.9,192.0 L578.2,192.0 L578.6,192.0 L578.9,192.0 L579.3,192.0 L579.6,192.0 L580.0,192.1 L580.3,192.2" fill="none" stroke="#0000e0" stroke-width="2.6" stroke-linejoin="round"/>
<path d="M56.6,255.1 L56.9,255.0 L57.3,255.0 L57.6,254.9 L58.0,254.9 L58.3,254.9 L58.7,254.9 L59.0,255.0 L59.4,255.2 L59.7,255.3 L60.1,255.3 L60.4,255.2 L60.8,255.0 L61.1,254.9 L61.5,254.9 L61.8,255.0 L62.2,255.1 L62.5,255.2 L62.9,255.2 L63.2,255.2 L63.6,255.3 L63.9,255.3 L64.3,255.3 L64.6,255.2 L65.0,255.2 L65.3,255.3 L65.7,255.3 L66.0,255.3 L66.4,255.2 L66.7,255.2 L67.1,255.1 L67.4,255.2 L67.8,255.2 L68.1,255.2 L68.5,255.2 L68.8,255.1 L69.2,255.0 L69.5,254.9 L69.9,254.9 L70.2,255.0 L70.6,255.0 L70.9,255.1 L71.3,255.1 L71.6,255.1 L72.0,255.1 L72.3,255.2 L72.7,255.3 L73.0,255.4 L73.4,255.3 L73.7,255.3 L74.1,255.2 L74.4,255.2 L74.8,255.2 L75.1,255.2 L75.5,255.1 L75.8,255.0 L76.2,254.9 L76.5,254.9 L76.9,255.0 L77.2,255.0 L77.6,255.0 L77.9,254.9 L78.3,254.9 L78.6,254.9 L79.0,254.9 L79.3,254.9 L79.7,255.0 L80.0,255.0 L80.4,254.9 L80.7,254.9 L81.1,254.9 L81.4,254.9 L81.8,254.8 L82.1,254.6 L82.5,254.3 L82.8,254.0 L83.2,253.4 L83.5,252.7 L83.9,252.0 L84.2,251.7 L84.5,251.9 L84.9,252.5 L85.2,253.2 L85.6,253.8 L85.9,254.2 L86.3,254.4 L86.6,254.6 L87.0,254.7 L87.3,254.8 L87.7,254.8 L88.0,254.8 L88.4,254.9 L88.7,254.9 L89.1,254.9 L89.4,254.8 L89.8,254.9 L90.1,255.0 L90.5,255.1 L90.8,255.2 L91.2,255.1 L91.5,255.1 L91.9,255.1 L92.2,255.1 L92.6,255.0 L92.9,255.0 L93.3,255.0 L93.6,255.1 L94.0,255.2 L94.3,255.3 L94.7,255.4 L95.0,255.4 L95.4,255.2 L95.7,255.0 L96.1,254.8 L96.4,254.8 L96.8,254.8 L97.1,254.9 L97.5,254.9 L97.8,254.9 L98.2,254.8 L98.5,254.7 L98.9,254.8 L99.2,254.9 L99.6,255.1 L99.9,255.1 L100.3,255.1 L100.6,255.1 L101.0,255.1 L101.3,255.2 L101.7,255.1 L102.0,255.0 L102.4,254.8 L102.7,254.8 L103.1,254.8 L103.4,254.9 L103.8,254.9 L104.1,254.8 L104.5,254.7 L104.8,254.7 L105.2,254.6 L105.5,254.7 L105.9,254.8 L106.2,254.8 L106.6,254.7 L106.9,254.5 L107.3,254.4 L107.6,254.4 L108.0,254.5 L108.3,254.6 L108.7,254.6 L109.0,254.6 L109.4,254.5 L109.7,254.4 L110.1,254.3 L110.4,254.3 L110.8,254.3 L111.1,254.2 L111.5,254.2 L111.8,254.2 L112.1,254.3 L112.5,254.3 L112.8,254.3 L113.2,254.4 L113.5,254.4 L113.9,254.4 L114.2,254.3 L114.6,254.2 L114.9,254.1 L115.3,254.2 L115.6,254.2 L116.0,254.3 L116.3,254.3 L116.7,254.3 L117.0,254.3 L117.4,254.2 L117.7,254.1 L118.1,254.0 L118.4,254.0 L118.8,254.1 L119.1,254.2 L119.5,254.2 L119.8,254.1 L120.2,254.0 L120.5,253.8 L120.9,253.8 L121.2,253.7 L121.6,253.7 L121.9,253.7 L122.3,253.7 L122.6,253.7 L123.0,253.6 L123.3,253.5 L123.7,253.4 L124.0,253.2 L124.4,253.2 L124.7,253.2 L125.1,253.3 L125.4,253.4 L125.8,253.5 L126.1,253.5 L126.5,253.4 L126.8,253.3 L127.2,253.2 L127.5,253.0 L127.9,252.9 L128.2,252.9 L128.6,252.9 L128.9,253.0 L129.3,253.0 L129.6,253.0 L130.0,252.9 L130.3,252.8 L130.7,252.8 L131.0,252.7 L131.4,252.7 L131.7,252.7 L132.1,252.6 L132.4,252.5 L132.8,252.4 L133.1,252.3 L133.5,252.3 L133.8,252.3 L134.2,252.4 L134.5,252.5 L134.9,252.5 L135.2,252.4 L135.6,252.3 L135.9,252.2 L136.3,252.2 L136.6,252.2 L137.0,252.1 L137.3,252.0 L137.7,252.0 L138.0,252.1 L138.4,252.1 L138.7,252.1 L139.1,252.1 L139.4,252.0 L139.7,252.0 L140.1,251.9 L140.4,251.9 L140.8,252.0 L141.1,252.0 L141.5,252.0 L141.8,251.9 L142.2,251.9 L142.5,251.9 L142.9,252.0 L143.2,252.0 L143.6,252.0 L143.9,251.9 L144.3,252.0 L144.6,252.0 L145.0,251.9 L145.3,251.9 L145.7,251.8 L146.0,251.8 L146.4,251.7 L146.7,251.7 L147.1,251.7 L147.4,251.6 L147.8,251.5 L148.1,251.5 L148.5,251.7 L148.8,251.8 L149.2,251.8 L149.5,251.8 L149.9,251.8 L150.2,251.7 L150.6,251.7 L150.9,251.7 L151.3,251.7 L151.6,251.7 L152.0,251.7 L152.3,251.7 L152.7,251.6 L153.0,251.7 L153.4,251.7 L153.7,251.6 L154.1,251.5 L154.4,251.5 L154.8,251.5 L155.1,251.5 L155.5,251.5 L155.8,251.6 L156.2,251.6 L156.5,251.6 L156.9,251.6 L157.2,251.5 L157.6,251.4 L157.9,251.4 L158.3,251.5 L158.6,251.6 L159.0,251.7 L159.3,251.7 L159.7,251.7 L160.0,251.6 L160.4,251.5 L160.7,251.4 L161.1,251.4 L161.4,251.4 L161.8,251.4 L162.1,251.4 L162.5,251.5 L162.8,251.5 L163.2,251.5 L163.5,251.6 L163.9,251.7 L164.2,251.9 L164.6,252.0 L164.9,252.0 L165.3,251.9 L165.6,251.7 L166.0,251.7 L166.3,251.9 L166.7,252.0 L167.0,252.1 L167.3,252.1 L167.7,252.0 L168.0,252.0 L168.4,251.9 L168.7,251.9 L169.1,251.8 L169.4,251.8 L169.8,251.8 L170.1,251.9 L170.5,252.1 L170.8,252.3 L171.2,252.5 L171.5,252.7 L171.9,252.6 L172.2,252.6 L172.6,252.5 L172.9,252.5 L173.3,252.5 L173.6,252.4 L174.0,252.3 L174.3,252.3 L174.7,252.4 L175.0,252.6 L175.4,252.7 L175.7,252.7 L176.1,252.7 L176.4,252.8 L176.8,252.9 L177.1,252.9 L177.5,253.0 L177.8,253.0 L178.2,253.0 L178.5,253.1 L178.9,253.1 L179.2,253.2 L179.6,253.3 L179.9,253.4 L180.3,253.4 L180.6,253.3 L181.0,253.3 L181.3,253.3 L181.7,253.3 L182.0,253.4 L182.4,253.5 L182.7,253.5 L183.1,253.4 L183.4,253.3 L183.8,253.3 L184.1,253.4 L184.5,253.5 L184.8,253.5 L185.2,253.5 L185.5,253.6 L185.9,253.7 L186.2,253.7 L186.6,253.8 L186.9,253.9 L187.3,254.0 L187.6,254.0 L188.0,254.1 L188.3,254.2 L188.7,254.1 L189.0,254.1 L189.4,254.1 L189.7,254.1 L190.1,254.2 L190.4,254.3 L190.8,254.4 L191.1,254.5 L191.5,254.5 L191.8,254.5 L192.2,254.3 L192.5,254.3 L192.9,254.4 L193.2,254.5 L193.6,254.5 L193.9,254.5 L194.3,254.5 L194.6,254.5 L194.9,254.6 L195.3,254.6 L195.6,254.6 L196.0,254.6 L196.3,254.6 L196.7,254.7 L197.0,254.8 L197.4,254.9 L197.7,255.0 L198.1,255.1 L198.4,255.2 L198.8,255.2 L199.1,255.2 L199.5,255.2 L199.8,255.2 L200.2,255.2 L200.5,255.2 L200.9,255.2 L201.2,255.3 L201.6,255.2 L201.9,255.2 L202.3,255.2 L202.6,255.2 L203.0,255.3 L203.3,255.3 L203.7,255.3 L204.0,255.3 L204.4,255.3 L204.7,255.4 L205.1,255.5 L205.4,255.5 L205.8,255.5 L206.1,255.5 L206.5,255.4 L206.8,255.4 L207.2,255.3 L207.5,255.2 L207.9,255.2 L208.2,255.2 L208.6,255.3 L208.9,255.4 L209.3,255.4 L209.6,255.4 L210.0,255.4 L210.3,255.4 L210.7,255.3 L211.0,255.3 L211.4,255.4 L211.7,255.4 L212.1,255.5 L212.4,255.5 L212.8,255.5 L213.1,255.6 L213.5,255.7 L213.8,255.7 L214.2,255.7 L214.5,255.7 L214.9,255.7 L215.2,255.7 L215.6,255.9 L215.9,256.0 L216.3,256.0 L216.6,255.9 L217.0,255.9 L217.3,255.9 L217.7,255.9 L218.0,255.9 L218.4,255.9 L218.7,255.8 L219.1,255.9 L219.4,256.0 L219.8,256.1 L220.1,256.2 L220.5,256.0 L220.8,255.8 L221.2,255.7 L221.5,255.7 L221.9,255.7 L222.2,255.7 L222.5,255.7 L222.9,255.7 L223.2,255.7 L223.6,255.8 L223.9,255.8 L224.3,255.9 L224.6,255.8 L225.0,255.8 L225.3,255.7 L225.7,255.7 L226.0,255.8 L226.4,255.7 L226.7,255.8 L227.1,255.8 L227.4,255.9 L227.8,256.0 L228.1,256.1 L228.5,256.2 L228.8,256.2 L229.2,256.2 L229.5,256.1 L229.9,256.0 L230.2,255.9 L230.6,255.7 L230.9,255.7 L231.3,255.7 L231.6,255.6 L232.0,255.3 L232.3,254.9 L232.7,254.3 L233.0,253.3 L233.4,251.7 L233.7,249.8 L234.1,247.8 L234.4,246.4 L234.8,246.2 L235.1,247.4 L235.5,249.3 L235.8,251.2 L236.2,252.8 L236.5,253.9 L236.9,254.6 L237.2,255.0 L237.6,255.2 L237.9,255.4 L238.3,255.5 L238.6,255.7 L239.0,255.7 L239.3,255.7 L239.7,255.8 L240.0,256.0 L240.4,256.1 L240.7,256.1 L241.1,256.0 L241.4,256.0 L241.8,255.9 L242.1,255.9 L242.5,255.9 L242.8,255.9 L243.2,256.0 L243.5,256.0 L243.9,256.1 L244.2,256.2 L244.6,256.2 L244.9,256.1 L245.3,256.1 L245.6,256.0 L246.0,256.0 L246.3,256.1 L246.7,256.1 L247.0,256.1 L247.4,256.0 L247.7,255.9 L248.1,255.8 L248.4,255.7 L248.8,255.5 L249.1,255.2 L249.5,254.9 L249.8,254.4 L250.1,253.8 L250.5,253.0 L250.8,252.2 L251.2,251.7 L251.5,251.8 L251.9,252.5 L252.2,253.4 L252.6,254.0 L252.9,254.4 L253.3,254.7 L253.6,255.1 L254.0,255.5 L254.3,255.7 L254.7,255.8 L255.0,255.8 L255.4,255.8 L255.7,255.9 L256.1,255.9 L256.4,255.9 L256.8,255.9 L257.1,255.8 L257.5,255.8 L257.8,255.9 L258.2,255.9 L258.5,255.8 L258.9,255.6 L259.2,255.4 L259.6,255.4 L259.9,255.4 L260.3,255.4 L260.6,255.2 L261.0,255.0 L261.3,254.7 L261.7,254.4 L262.0,254.0 L262.4,253.5 L262.7,252.6 L263.1,250.9 L263.4,247.7 L263.8,241.7 L264.1,231.9 L264.5,218.6 L264.8,205.4 L265.2,199.8 L265.5,206.5 L265.9,219.9 L266.2,232.8 L266.6,242.1 L266.9,247.8 L267.3,250.9 L267.6,252.6 L268.0,253.5 L268.3,254.1 L268.7,254.5 L269.0,254.7 L269.4,254.9 L269.7,255.1 L270.1,255.3 L270.4,255.4 L270.8,255.6 L271.1,255.8 L271.5,255.9 L271.8,255.9 L272.2,255.9 L272.5,255.7 L272.9,255.5 L273.2,255.4 L273.6,255.3 L273.9,255.4 L274.3,255.5 L274.6,255.6 L275.0,255.8 L275.3,255.9 L275.7,255.9 L276.0,256.0 L276.4,255.9 L276.7,255.9 L277.1,256.0 L277.4,256.0 L277.7,256.0 L278.1,255.9 L278.4,255.8 L278.8,255.7 L279.1,255.5 L279.5,255.2 L279.8,254.6 L280.2,253.7 L280.5,252.3 L280.9,250.4 L281.2,248.2 L281.6,246.0 L281.9,244.6 L282.3,244.6 L282.6,246.2 L283.0,248.4 L283.3,250.6 L283.7,252.3 L284.0,253.6 L284.4,254.5 L284.7,255.0 L285.1,255.4 L285.4,255.7 L285.8,256.0 L286.1,256.2 L286.5,256.3 L286.8,256.3 L287.2,256.1 L287.5,256.0 L287.9,255.9 L288.2,255.9 L288.6,256.0 L288.9,256.1 L289.3,256.4 L289.6,256.5 L290.0,256.5 L290.3,256.4 L290.7,256.3 L291.0,256.4 L291.4,256.4 L291.7,256.6 L292.1,256.7 L292.4,256.8 L292.8,256.9 L293.1,256.8 L293.5,256.7 L293.8,256.7 L294.2,256.7 L294.5,256.6 L294.9,256.5 L295.2,256.4 L295.6,256.3 L295.9,256.4 L296.3,256.4 L296.6,256.4 L297.0,256.3 L297.3,256.4 L297.7,256.5 L298.0,256.5 L298.4,256.6 L298.7,256.5 L299.1,256.5 L299.4,256.6 L299.8,256.6 L300.1,256.5 L300.5,256.4 L300.8,256.3 L301.2,256.4 L301.5,256.5 L301.9,256.6 L302.2,256.6 L302.6,256.5 L302.9,256.4 L303.3,256.4 L303.6,256.4 L304.0,256.4 L304.3,256.3 L304.7,256.3 L305.0,256.4 L305.3,256.5 L305.7,256.5 L306.0,256.4 L306.4,256.4 L306.7,256.4 L307.1,256.5 L307.4,256.6 L307.8,256.6 L308.1,256.6 L308.5,256.5 L308.8,256.5 L309.2,256.5 L309.5,256.5 L309.9,256.5 L310.2,256.5 L310.6,256.4 L310.9,256.4 L311.3,256.4 L311.6,256.5 L312.0,256.5 L312.3,256.6 L312.7,256.6 L313.0,256.6 L313.4,256.5 L313.7,256.5 L314.1,256.5 L314.4,256.6 L314.8,256.6 L315.1,256.6 L315.5,256.5 L315.8,256.5 L316.2,256.5 L316.5,256.5 L316.9,256.6 L317.2,256.6 L317.6,256.5 L317.9,256.3 L318.3,256.2 L318.6,256.2 L319.0,256.2 L319.3,256.3 L319.7,256.4 L320.0,256.5 L320.4,256.5 L320.7,256.4 L321.1,256.2 L321.4,255.8 L321.8,255.3 L322.1,254.6 L322.5,253.9 L322.8,253.3 L323.2,252.9 L323.5,252.9 L323.9,253.3 L324.2,254.0 L324.6,254.7 L324.9,255.2 L325.3,255.6 L325.6,255.9 L326.0,256.2 L326.3,256.4 L326.7,256.4 L327.0,256.4 L327.4,256.3 L327.7,256.3 L328.1,256.4 L328.4,256.5 L328.8,256.6 L329.1,256.7 L329.5,256.6 L329.8,256.5 L330.2,256.5 L330.5,256.6 L330.9,256.7 L331.2,256.6 L331.6,256.6 L331.9,256.7 L332.2,256.7 L332.6,256.7 L332.9,256.7 L333.3,256.7 L333.6,256.6 L334.0,256.4 L334.3,256.2 L334.7,256.2 L335.0,256.2 L335.4,256.4 L335.7,256.6 L336.1,256.7 L336.4,256.8 L336.8,256.8 L337.1,256.8 L337.5,256.8 L337.8,256.8 L338.2,256.9 L338.5,256.9 L338.9,256.9 L339.2,256.9 L339.6,256.8 L339.9,256.7 L340.3,256.6 L340.6,256.5 L341.0,256.5 L341.3,256.5 L341.7,256.5 L342.0,256.6 L342.4,256.7 L342.7,256.8 L343.1,256.9 L343.4,256.9 L343.8,256.9 L344.1,256.8 L344.5,256.6 L344.8,256.2 L345.2,255.8 L345.5,255.2 L345.9,254.5 L346.2,253.7 L346.6,253.1 L346.9,253.1 L347.3,253.6 L347.6,254.3 L348.0,255.1 L348.3,255.6 L348.7,255.8 L349.0,255.9 L349.4,256.1 L349.7,256.2 L350.1,256.4 L350.4,256.5 L350.8,256.6 L351.1,256.7 L351.5,256.9 L351.8,257.0 L352.2,257.0 L352.5,257.0 L352.9,256.9 L353.2,256.8 L353.6,256.7 L353.9,256.7 L354.3,256.7 L354.6,256.6 L355.0,256.6 L355.3,256.7 L355.7,256.7 L356.0,256.7 L356.4,256.7 L356.7,256.7 L357.1,256.8 L357.4,256.8 L357.8,256.8 L358.1,256.9 L358.5,256.9 L358.8,256.8 L359.2,256.7 L359.5,256.6 L359.8,256.8 L360.2,256.9 L360.5,257.0 L360.9,256.9 L361.2,256.8 L361.6,256.8 L361.9,256.8 L362.3,256.9 L362.6,256.8 L363.0,256.8 L363.3,256.8 L363.7,256.8 L364.0,256.8 L364.4,256.8 L364.7,256.8 L365.1,256.8 L365.4,256.8 L365.8,256.8 L366.1,256.7 L366.5,256.6 L366.8,256.6 L367.2,256.6 L367.5,256.6 L367.9,256.7 L368.2,256.8 L368.6,256.8 L368.9,256.8 L369.3,256.8 L369.6,256.6 L370.0,256.4 L370.3,256.0 L370.7,255.4 L371.0,254.6 L371.4,253.6 L371.7,252.8 L372.1,252.4 L372.4,252.6 L372.8,253.4 L373.1,254.3 L373.5,255.1 L373.8,255.8 L374.2,256.2 L374.5,256.5 L374.9,256.6 L375.2,256.7 L375.6,256.7 L375.9,256.8 L376.3,256.9 L376.6,257.0 L377.0,257.1 L377.3,257.1 L377.7,257.0 L378.0,256.9 L378.4,256.7 L378.7,256.5 L379.1,256.5 L379.4,256.6 L379.8,256.8 L380.1,256.9 L380.5,256.9 L380.8,256.8 L381.2,256.8 L381.5,256.8 L381.9,256.8 L382.2,256.9 L382.6,256.9 L382.9,257.0 L383.3,257.1 L383.6,257.1 L384.0,257.2 L384.3,257.2 L384.7,257.2 L385.0,257.2 L385.4,257.2 L385.7,257.1 L386.1,257.1 L386.4,257.0 L386.8,257.0 L387.1,257.1 L387.4,257.0 L387.8,257.0 L388.1,256.9 L388.5,256.9 L388.8,257.0 L389.2,256.9 L389.5,256.8 L389.9,256.7 L390.2,256.6 L390.6,256.6 L390.9,256.6 L391.3,256.6 L391.6,256.5 L392.0,256.3 L392.3,256.1 L392.7,255.7 L393.0,254.9 L393.4,253.6 L393.7,251.9 L394.1,250.0 L394.4,248.3 L394.8,247.3 L395.1,247.8 L395.5,249.3 L395.8,251.3 L396.2,253.0 L396.5,254.3 L396.9,255.2 L397.2,255.8 L397.6,256.2 L397.9,256.5 L398.3,256.7 L398.6,256.8 L399.0,256.8 L399.3,256.8 L399.7,256.9 L400.0,257.0 L400.4,257.1 L400.7,257.1 L401.1,257.0 L401.4,256.9 L401.8,256.9 L402.1,256.9 L402.5,257.0 L402.8,257.0 L403.2,257.1 L403.5,257.2 L403.9,257.2 L404.2,257.2 L404.6,257.2 L404.9,257.2 L405.3,257.0 L405.6,256.8 L406.0,256.8 L406.3,256.9 L406.7,256.9 L407.0,256.8 L407.4,256.9 L407.7,257.0 L408.1,257.1 L408.4,257.1 L408.8,257.0 L409.1,257.0 L409.5,257.0 L409.8,257.1 L410.2,257.2 L410.5,257.3 L410.9,257.3 L411.2,257.3 L411.6,257.2 L411.9,257.1 L412.3,257.1 L412.6,257.1 L413.0,257.2 L413.3,257.2 L413.7,257.2 L414.0,257.2 L414.4,257.2 L414.7,257.2 L415.0,257.2 L415.4,257.2 L415.7,257.1 L416.1,257.0 L416.4,256.9 L416.8,257.0 L417.1,257.1 L417.5,257.2 L417.8,257.2 L418.2,257.3 L418.5,257.3 L418.9,257.4 L419.2,257.5 L419.6,257.4 L419.9,257.3 L420.3,257.3 L420.6,257.2 L421.0,257.2 L421.3,257.2 L421.7,257.1 L422.0,256.9 L422.4,256.9 L422.7,256.9 L423.1,257.1 L423.4,257.2 L423.8,257.2 L424.1,257.1 L424.5,257.0 L424.8,257.0 L425.2,257.0 L425.5,256.9 L425.9,256.8 L426.2,256.6 L426.6,256.2 L426.9,255.8 L427.3,255.5 L427.6,255.3 L428.0,255.5 L428.3,255.8 L428.7,256.2 L429.0,256.5 L429.4,256.7 L429.7,256.9 L430.1,257.2 L430.4,257.4 L430.8,257.4 L431.1,257.3 L431.5,257.2 L431.8,257.1 L432.2,257.0 L432.5,257.0 L432.9,257.0 L433.2,257.1 L433.6,257.2 L433.9,257.2 L434.3,257.3 L434.6,257.4 L435.0,257.5 L435.3,257.5 L435.7,257.5 L436.0,257.5 L436.4,257.4 L436.7,257.4 L437.1,257.4 L437.4,257.3 L437.8,257.3 L438.1,257.3 L438.5,257.4 L438.8,257.4 L439.2,257.5 L439.5,257.5 L439.9,257.5 L440.2,257.4 L440.6,257.3 L440.9,257.2 L441.3,257.2 L441.6,257.3 L442.0,257.2 L442.3,257.1 L442.6,257.1 L443.0,257.1 L443.3,257.2 L443.7,257.3 L444.0,257.4 L444.4,257.4 L444.7,257.4 L445.1,257.5 L445.4,257.6 L445.8,257.6 L446.1,257.6 L446.5,257.6 L446.8,257.5 L447.2,257.4 L447.5,257.3 L447.9,257.3 L448.2,257.5 L448.6,257.6 L448.9,257.7 L449.3,257.6 L449.6,257.5 L450.0,257.4 L450.3,257.3 L450.7,257.3 L451.0,257.3 L451.4,257.2 L451.7,257.1 L452.1,257.0 L452.4,257.0 L452.8,257.0 L453.1,257.1 L453.5,257.1 L453.8,257.2 L454.2,257.2 L454.5,257.0 L454.9,256.8 L455.2,256.6 L455.6,256.4 L455.9,256.0 L456.3,255.2 L456.6,254.1 L457.0,252.7 L457.3,251.4 L457.7,250.9 L458.0,251.3 L458.4,252.4 L458.7,253.8 L459.1,254.9 L459.4,255.7 L459.8,256.3 L460.1,256.6 L460.5,256.8 L460.8,256.8 L461.2,256.9 L461.5,257.1 L461.9,257.3 L462.2,257.4 L462.6,257.4 L462.9,257.4 L463.3,257.4 L463.6,257.3 L464.0,257.3 L464.3,257.4 L464.7,257.5 L465.0,257.5 L465.4,257.6 L465.7,257.6 L466.1,257.6 L466.4,257.5 L466.8,257.4 L467.1,257.5 L467.5,257.5 L467.8,257.5 L468.2,257.5 L468.5,257.5 L468.9,257.5 L469.2,257.5 L469.6,257.4 L469.9,257.3 L470.2,257.3 L470.6,257.4 L470.9,257.4 L471.3,257.5 L471.6,257.4 L472.0,257.4 L472.3,257.3 L472.7,257.2 L473.0,257.1 L473.4,257.1 L473.7,257.2 L474.1,257.3 L474.4,257.4 L474.8,257.5 L475.1,257.6 L475.5,257.6 L475.8,257.6 L476.2,257.5 L476.5,257.4 L476.9,257.2 L477.2,256.9 L477.6,256.5 L477.9,255.9 L478.3,255.0 L478.6,253.6 L479.0,251.9 L479.3,250.1 L479.7,248.9 L480.0,248.8 L480.4,249.9 L480.7,251.5 L481.1,253.2 L481.4,254.7 L481.8,255.8 L482.1,256.5 L482.5,256.8 L482.8,256.9 L483.2,257.0 L483.5,257.0 L483.9,257.1 L484.2,257.3 L484.6,257.3 L484.9,257.4 L485.3,257.3 L485.6,257.3 L486.0,257.3 L486.3,257.4 L486.7,257.4 L487.0,257.3 L487.4,257.3 L487.7,257.3 L488.1,257.2 L488.4,257.2 L488.8,257.1 L489.1,257.0 L489.5,256.8 L489.8,256.6 L490.2,256.3 L490.5,256.0 L490.9,255.8 L491.2,255.8 L491.6,256.2 L491.9,256.7 L492.3,257.1 L492.6,257.3 L493.0,257.4 L493.3,257.4 L493.7,257.4 L494.0,257.5 L494.4,257.6 L494.7,257.7 L495.1,257.7 L495.4,257.7 L495.8,257.6 L496.1,257.6 L496.5,257.5 L496.8,257.5 L497.2,257.6 L497.5,257.7 L497.8,257.7 L498.2,257.6 L498.5,257.6 L498.9,257.5 L499.2,257.4 L499.6,257.5 L499.9,257.5 L500.3,257.6 L500.6,257.7 L501.0,257.8 L501.3,257.8 L501.7,257.7 L502.0,257.7 L502.4,257.6 L502.7,257.7 L503.1,257.7 L503.4,257.8 L503.8,257.9 L504.1,258.0 L504.5,258.1 L504.8,258.1 L505.2,258.0 L505.5,257.8 L505.9,257.7 L506.2,257.6 L506.6,257.6 L506.9,257.6 L507.3,257.7 L507.6,257.7 L508.0,257.7 L508.3,257.7 L508.7,257.7 L509.0,257.8 L509.4,257.8 L509.7,257.8 L510.1,257.7 L510.4,257.7 L510.8,257.9 L511.1,258.0 L511.5,258.1 L511.8,258.1 L512.2,258.0 L512.5,258.0 L512.9,257.9 L513.2,257.8 L513.6,257.8 L513.9,257.8 L514.3,257.8 L514.6,257.8 L515.0,257.9 L515.3,258.0 L515.7,258.0 L516.0,257.9 L516.4,258.0 L516.7,258.0 L517.1,258.0 L517.4,257.9 L517.8,258.0 L518.1,258.0 L518.5,258.1 L518.8,258.1 L519.2,258.1 L519.5,258.0 L519.9,257.9 L520.2,257.8 L520.6,257.8 L520.9,257.8 L521.3,257.8 L521.6,257.7 L522.0,257.7 L522.3,257.8 L522.7,257.8 L523.0,257.9 L523.4,257.9 L523.7,257.9 L524.1,257.9 L524.4,258.0 L524.8,257.9 L525.1,257.9 L525.4,257.8 L525.8,257.8 L526.1,257.8 L526.5,257.9 L526.8,258.0 L527.2,258.0 L527.5,258.0 L527.9,257.9 L528.2,257.8 L528.6,257.8 L528.9,257.8 L529.3,257.8 L529.6,257.8 L530.0,257.7 L530.3,257.7 L530.7,257.7 L531.0,257.7 L531.4,257.8 L531.7,257.8 L532.1,257.8 L532.4,257.8 L532.8,257.9 L533.1,257.9 L533.5,257.9 L533.8,257.8 L534.2,257.8 L534.5,257.8 L534.9,257.8 L535.2,257.7 L535.6,257.6 L535.9,257.5 L536.3,257.3 L536.6,257.1 L537.0,256.8 L537.3,256.5 L537.7,256.4 L538.0,256.6 L538.4,256.9 L538.7,257.2 L539.1,257.4 L539.4,257.6 L539.8,257.6 L540.1,257.7 L540.5,257.8 L540.8,257.9 L541.2,258.0 L541.5,258.0 L541.9,258.1 L542.2,258.2 L542.6,258.2 L542.9,258.1 L543.3,258.1 L543.6,258.0 L544.0,257.9 L544.3,257.8 L544.7,257.8 L545.0,257.8 L545.4,257.8 L545.7,257.8 L546.1,257.9 L546.4,257.9 L546.8,257.8 L547.1,257.8 L547.5,257.7 L547.8,257.7 L548.2,257.7 L548.5,257.8 L548.9,257.9 L549.2,258.0 L549.6,258.1 L549.9,258.1 L550.3,258.0 L550.6,258.0 L551.0,258.1 L551.3,258.1 L551.7,258.1 L552.0,258.1 L552.4,258.1 L552.7,258.1 L553.0,258.0 L553.4,258.0 L553.7,257.9 L554.1,257.9 L554.4,257.9 L554.8,258.0 L555.1,258.1 L555.5,258.1 L555.8,258.1 L556.2,258.0 L556.5,258.0 L556.9,257.9 L557.2,257.9 L557.6,257.9 L557.9,257.8 L558.3,257.6 L558.6,257.3 L559.0,257.0 L559.3,256.8 L559.7,256.9 L560.0,257.0 L560.4,257.1 L560.7,257.3 L561.1,257.5 L561.4,257.8 L561.8,258.0 L562.1,258.1 L562.5,258.2 L562.8,258.2 L563.2,258.2 L563.5,258.2 L563.9,258.1 L564.2,258.0 L564.6,258.0 L564.9,258.0 L565.3,258.0 L565.6,258.0 L566.0,258.1 L566.3,258.1 L566.7,258.2 L567.0,258.2 L567.4,258.1 L567.7,258.0 L568.1,258.0 L568.4,258.0 L568.8,258.1 L569.1,258.2 L569.5,258.2 L569.8,258.1 L570.2,258.1 L570.5,258.0 L570.9,257.9 L571.2,257.8 L571.6,257.8 L571.9,257.9 L572.3,258.1 L572.6,258.2 L573.0,258.2 L573.3,258.1 L573.7,258.1 L574.0,258.2 L574.4,258.3 L574.7,258.3 L575.1,258.4 L575.4,258.4 L575.8,258.3 L576.1,258.3 L576.5,258.3 L576.8,258.3 L577.2,258.4 L577.5,258.4 L577.9,258.4 L578.2,258.3 L578.6,258.3 L578.9,258.2 L579.3,258.2 L579.6,258.2 L580.0,258.3 L580.3,258.3" fill="none" stroke="#ff0000" stroke-width="2.6" stroke-linejoin="round"/>
<path d="M56.6,331.0 L56.9,331.1 L57.3,331.1 L57.6,331.0 L58.0,330.9 L58.3,330.9 L58.7,330.8 L59.0,330.8 L59.4,330.9 L59.7,331.0 L60.1,331.1 L60.4,331.2 L60.8,331.2 L61.1,331.1 L61.5,331.0 L61.8,331.0 L62.2,331.0 L62.5,331.0 L62.9,330.9 L63.2,330.9 L63.6,330.8 L63.9,330.9 L64.3,331.0 L64.6,331.0 L65.0,331.0 L65.3,330.9 L65.7,330.9 L66.0,330.9 L66.4,330.8 L66.7,330.8 L67.1,330.8 L67.4,330.9 L67.8,331.0 L68.1,331.1 L68.5,331.2 L68.8,331.2 L69.2,331.1 L69.5,331.0 L69.9,330.9 L70.2,331.0 L70.6,331.1 L70.9,331.0 L71.3,331.0 L71.6,330.9 L72.0,330.8 L72.3,330.9 L72.7,331.0 L73.0,331.1 L73.4,331.1 L73.7,331.1 L74.1,331.0 L74.4,331.0 L74.8,330.9 L75.1,330.9 L75.5,331.0 L75.8,331.0 L76.2,331.0 L76.5,331.0 L76.9,331.1 L77.2,331.1 L77.6,331.2 L77.9,331.2 L78.3,331.1 L78.6,331.1 L79.0,331.0 L79.3,330.9 L79.7,330.9 L80.0,330.8 L80.4,330.8 L80.7,330.8 L81.1,330.8 L81.4,330.7 L81.8,330.6 L82.1,330.4 L82.5,330.0 L82.8,329.4 L83.2,328.4 L83.5,327.3 L83.9,326.3 L84.2,325.7 L84.5,325.9 L84.9,326.8 L85.2,328.0 L85.6,329.0 L85.9,329.6 L86.3,330.0 L86.6,330.3 L87.0,330.3 L87.3,330.3 L87.7,330.3 L88.0,330.4 L88.4,330.5 L88.7,330.7 L89.1,330.8 L89.4,330.9 L89.8,331.0 L90.1,331.0 L90.5,331.0 L90.8,331.0 L91.2,331.0 L91.5,330.9 L91.9,331.0 L92.2,331.0 L92.6,331.1 L92.9,331.0 L93.3,331.0 L93.6,330.9 L94.0,330.9 L94.3,330.9 L94.7,330.9 L95.0,330.9 L95.4,330.9 L95.7,330.9 L96.1,330.9 L96.4,330.9 L96.8,330.9 L97.1,330.8 L97.5,330.8 L97.8,330.7 L98.2,330.7 L98.5,330.8 L98.9,330.9 L99.2,331.0 L99.6,331.1 L99.9,331.2 L100.3,331.1 L100.6,331.0 L101.0,331.0 L101.3,331.0 L101.7,330.9 L102.0,330.9 L102.4,330.8 L102.7,330.8 L103.1,330.7 L103.4,330.6 L103.8,330.4 L104.1,330.3 L104.5,330.2 L104.8,330.4 L105.2,330.5 L105.5,330.6 L105.9,330.7 L106.2,330.6 L106.6,330.6 L106.9,330.5 L107.3,330.4 L107.6,330.3 L108.0,330.3 L108.3,330.4 L108.7,330.4 L109.0,330.4 L109.4,330.4 L109.7,330.3 L110.1,330.3 L110.4,330.2 L110.8,330.2 L111.1,330.2 L111.5,330.2 L111.8,330.1 L112.1,330.1 L112.5,330.1 L112.8,330.1 L113.2,330.2 L113.5,330.2 L113.9,330.2 L114.2,330.0 L114.6,329.8 L114.9,329.9 L115.3,329.9 L115.6,330.0 L116.0,329.9 L116.3,329.9 L116.7,330.0 L117.0,330.1 L117.4,330.1 L117.7,330.0 L118.1,330.0 L118.4,329.9 L118.8,329.8 L119.1,329.7 L119.5,329.7 L119.8,329.6 L120.2,329.6 L120.5,329.5 L120.9,329.4 L121.2,329.5 L121.6,329.5 L121.9,329.5 L122.3,329.4 L122.6,329.3 L123.0,329.2 L123.3,329.2 L123.7,329.2 L124.0,329.1 L124.4,329.1 L124.7,329.2 L125.1,329.3 L125.4,329.3 L125.8,329.2 L126.1,329.1 L126.5,329.1 L126.8,329.1 L127.2,329.0 L127.5,328.9 L127.9,328.8 L128.2,328.7 L128.6,328.6 L128.9,328.6 L129.3,328.5 L129.6,328.5 L130.0,328.6 L130.3,328.7 L130.7,328.7 L131.0,328.7 L131.4,328.7 L131.7,328.7 L132.1,328.7 L132.4,328.6 L132.8,328.7 L133.1,328.7 L133.5,328.8 L133.8,328.7 L134.2,328.5 L134.5,328.3 L134.9,328.1 L135.2,328.1 L135.6,328.1 L135.9,328.1 L136.3,328.1 L136.6,328.1 L137.0,328.0 L137.3,327.9 L137.7,327.9 L138.0,328.0 L138.4,328.1 L138.7,328.0 L139.1,327.9 L139.4,327.8 L139.7,327.7 L140.1,327.7 L140.4,327.8 L140.8,327.9 L141.1,327.9 L141.5,327.9 L141.8,327.9 L142.2,327.8 L142.5,327.8 L142.9,327.7 L143.2,327.7 L143.6,327.7 L143.9,327.8 L144.3,327.9 L144.6,327.8 L145.0,327.8 L145.3,327.7 L145.7,327.6 L146.0,327.6 L146.4,327.6 L146.7,327.7 L147.1,327.6 L147.4,327.5 L147.8,327.5 L148.1,327.4 L148.5,327.4 L148.8,327.4 L149.2,327.4 L149.5,327.5 L149.9,327.5 L150.2,327.4 L150.6,327.2 L150.9,327.1 L151.3,327.2 L151.6,327.2 L152.0,327.3 L152.3,327.3 L152.7,327.4 L153.0,327.4 L153.4,327.3 L153.7,327.3 L154.1,327.3 L154.4,327.3 L154.8,327.4 L155.1,327.4 L155.5,327.4 L155.8,327.3 L156.2,327.3 L156.5,327.2 L156.9,327.2 L157.2,327.2 L157.6,327.3 L157.9,327.4 L158.3,327.6 L158.6,327.8 L159.0,327.8 L159.3,327.6 L159.7,327.5 L160.0,327.3 L160.4,327.3 L160.7,327.3 L161.1,327.3 L161.4,327.3 L161.8,327.3 L162.1,327.4 L162.5,327.5 L162.8,327.6 L163.2,327.6 L163.5,327.5 L163.9,327.5 L164.2,327.5 L164.6,327.5 L164.9,327.5 L165.3,327.5 L165.6,327.5 L166.0,327.5 L166.3,327.5 L166.7,327.5 L167.0,327.5 L167.3,327.6 L167.7,327.7 L168.0,327.7 L168.4,327.8 L168.7,327.9 L169.1,327.9 L169.4,327.9 L169.8,327.9 L170.1,328.0 L170.5,328.0 L170.8,328.0 L171.2,328.1 L171.5,328.1 L171.9,328.1 L172.2,328.2 L172.6,328.2 L172.9,328.1 L173.3,328.1 L173.6,328.1 L174.0,328.2 L174.3,328.3 L174.7,328.4 L175.0,328.4 L175.4,328.4 L175.7,328.6 L176.1,328.7 L176.4,328.8 L176.8,328.8 L177.1,328.8 L177.5,328.8 L177.8,328.9 L178.2,328.9 L178.5,328.9 L178.9,328.9 L179.2,328.8 L179.6,328.9 L179.9,328.9 L180.3,329.0 L180.6,328.9 L181.0,328.9 L181.3,328.9 L181.7,329.0 L182.0,329.1 L182.4,329.1 L182.7,329.1 L183.1,329.1 L183.4,329.1 L183.8,329.1 L184.1,329.3 L184.5,329.4 L184.8,329.4 L185.2,329.4 L185.5,329.3 L185.9,329.2 L186.2,329.3 L186.6,329.3 L186.9,329.4 L187.3,329.4 L187.6,329.5 L188.0,329.5 L188.3,329.5 L188.7,329.5 L189.0,329.5 L189.4,329.6 L189.7,329.7 L190.1,329.8 L190.4,329.8 L190.8,329.8 L191.1,329.7 L191.5,329.7 L191.8,329.6 L192.2,329.6 L192.5,329.7 L192.9,329.9 L193.2,330.1 L193.6,330.2 L193.9,330.2 L194.3,330.1 L194.6,330.2 L194.9,330.3 L195.3,330.3 L195.6,330.2 L196.0,330.1 L196.3,330.1 L196.7,330.3 L197.0,330.5 L197.4,330.6 L197.7,330.6 L198.1,330.5 L198.4,330.5 L198.8,330.5 L199.1,330.6 L199.5,330.7 L199.8,330.8 L200.2,330.8 L200.5,330.8 L200.9,330.7 L201.2,330.7 L201.6,330.7 L201.9,330.8 L202.3,330.8 L202.6,330.9 L203.0,330.9 L203.3,330.9 L203.7,330.8 L204.0,330.7 L204.4,330.7 L204.7,330.8 L205.1,330.8 L205.4,330.9 L205.8,331.0 L206.1,331.1 L206.5,331.1 L206.8,331.2 L207.2,331.2 L207.5,331.3 L207.9,331.3 L208.2,331.2 L208.6,331.1 L208.9,331.1 L209.3,331.1 L209.6,331.1 L210.0,331.1 L210.3,331.0 L210.7,331.0 L211.0,331.0 L211.4,331.0 L211.7,331.0 L212.1,331.1 L212.4,331.1 L212.8,331.1 L213.1,331.1 L213.5,331.1 L213.8,331.0 L214.2,331.0 L214.5,331.0 L214.9,331.0 L215.2,331.0 L215.6,331.1 L215.9,331.2 L216.3,331.3 L216.6,331.3 L217.0,331.4 L217.3,331.5 L217.7,331.5 L218.0,331.6 L218.4,331.6 L218.7,331.7 L219.1,331.6 L219.4,331.6 L219.8,331.5 L220.1,331.5 L220.5,331.5 L220.8,331.5 L221.2,331.6 L221.5,331.7 L221.9,331.8 L222.2,331.8 L222.5,331.8 L222.9,331.8 L223.2,331.7 L223.6,331.7 L223.9,331.6 L224.3,331.4 L224.6,331.4 L225.0,331.5 L225.3,331.6 L225.7,331.7 L226.0,331.7 L226.4,331.6 L226.7,331.5 L227.1,331.5 L227.4,331.5 L227.8,331.5 L228.1,331.4 L228.5,331.4 L228.8,331.3 L229.2,331.3 L229.5,331.3 L229.9,331.4 L230.2,331.4 L230.6,331.3 L230.9,331.1 L231.3,331.0 L231.6,330.8 L232.0,330.6 L232.3,330.3 L232.7,329.7 L233.0,328.6 L233.4,327.0 L233.7,325.0 L234.1,322.8 L234.4,321.2 L234.8,320.9 L235.1,322.0 L235.5,324.0 L235.8,326.2 L236.2,328.0 L236.5,329.5 L236.9,330.5 L237.2,331.0 L237.6,331.3 L237.9,331.3 L238.3,331.4 L238.6,331.3 L239.0,331.3 L239.3,331.4 L239.7,331.4 L240.0,331.5 L240.4,331.5 L240.7,331.5 L241.1,331.5 L241.4,331.5 L241.8,331.4 L242.1,331.4 L242.5,331.5 L242.8,331.6 L243.2,331.6 L243.5,331.6 L243.9,331.6 L244.2,331.5 L244.6,331.5 L244.9,331.4 L245.3,331.4 L245.6,331.4 L246.0,331.4 L246.3,331.5 L246.7,331.5 L247.0,331.4 L247.4,331.4 L247.7,331.5 L248.1,331.4 L248.4,331.4 L248.8,331.2 L249.1,330.9 L249.5,330.5 L249.8,329.9 L250.1,329.1 L250.5,328.1 L250.8,327.2 L251.2,326.7 L251.5,326.8 L251.9,327.5 L252.2,328.5 L252.6,329.5 L252.9,330.3 L253.3,330.9 L253.6,331.1 L254.0,331.2 L254.3,331.3 L254.7,331.4 L255.0,331.4 L255.4,331.4 L255.7,331.4 L256.1,331.4 L256.4,331.5 L256.8,331.5 L257.1,331.6 L257.5,331.5 L257.8,331.4 L258.2,331.3 L258.5,331.2 L258.9,331.2 L259.2,331.1 L259.6,330.9 L259.9,330.7 L260.3,330.6 L260.6,330.6 L261.0,330.6 L261.3,330.4 L261.7,330.0 L262.0,329.4 L262.4,328.6 L262.7,327.3 L263.1,325.2 L263.4,321.4 L263.8,314.4 L264.1,303.0 L264.5,287.5 L264.8,272.0 L265.2,265.4 L265.5,273.4 L265.9,289.3 L266.2,304.7 L266.6,315.7 L266.9,322.4 L267.3,325.9 L267.6,327.6 L268.0,328.6 L268.3,329.3 L268.7,329.7 L269.0,330.1 L269.4,330.4 L269.7,330.6 L270.1,330.7 L270.4,330.9 L270.8,331.0 L271.1,331.0 L271.5,331.0 L271.8,331.1 L272.2,331.1 L272.5,331.2 L272.9,331.4 L273.2,331.5 L273.6,331.6 L273.9,331.6 L274.3,331.6 L274.6,331.6 L275.0,331.6 L275.3,331.6 L275.7,331.7 L276.0,331.6 L276.4,331.5 L276.7,331.3 L277.1,331.2 L277.4,331.2 L277.7,331.2 L278.1,331.3 L278.4,331.3 L278.8,331.1 L279.1,330.8 L279.5,330.4 L279.8,329.8 L280.2,328.9 L280.5,327.5 L280.9,325.5 L281.2,323.0 L281.6,320.5 L281.9,318.9 L282.3,319.0 L282.6,320.8 L283.0,323.4 L283.3,325.9 L283.7,327.9 L284.0,329.3 L284.4,330.1 L284.7,330.6 L285.1,330.9 L285.4,331.3 L285.8,331.6 L286.1,331.7 L286.5,331.7 L286.8,331.7 L287.2,331.7 L287.5,331.8 L287.9,331.8 L288.2,331.9 L288.6,331.9 L288.9,332.0 L289.3,331.9 L289.6,331.8 L290.0,331.6 L290.3,331.5 L290.7,331.6 L291.0,331.7 L291.4,331.8 L291.7,331.8 L292.1,331.8 L292.4,331.8 L292.8,331.7 L293.1,331.8 L293.5,331.8 L293.8,331.9 L294.2,332.0 L294.5,332.2 L294.9,332.3 L295.2,332.3 L295.6,332.2 L295.9,332.1 L296.3,332.0 L296.6,332.0 L297.0,332.0 L297.3,332.0 L297.7,332.0 L298.0,332.1 L298.4,332.1 L298.7,332.2 L299.1,332.2 L299.4,332.1 L299.8,332.1 L300.1,332.0 L300.5,332.0 L300.8,331.9 L301.2,331.8 L301.5,331.7 L301.9,331.7 L302.2,331.8 L302.6,332.0 L302.9,332.2 L303.3,332.3 L303.6,332.4 L304.0,332.4 L304.3,332.4 L304.7,332.3 L305.0,332.2 L305.3,332.1 L305.7,332.2 L306.0,332.2 L306.4,332.2 L306.7,332.1 L307.1,332.1 L307.4,332.2 L307.8,332.2 L308.1,332.1 L308.5,331.9 L308.8,331.9 L309.2,331.9 L309.5,331.9 L309.9,332.0 L310.2,332.1 L310.6,332.2 L310.9,332.2 L311.3,332.2 L311.6,332.2 L312.0,332.2 L312.3,332.2 L312.7,332.2 L313.0,332.2 L313.4,332.2 L313.7,332.1 L314.1,332.0 L314.4,332.0 L314.8,332.0 L315.1,332.0 L315.5,332.1 L315.8,332.2 L316.2,332.3 L316.5,332.3 L316.9,332.2 L317.2,332.0 L317.6,331.9 L317.9,331.9 L318.3,331.8 L318.6,331.7 L319.0,331.8 L319.3,332.0 L319.7,332.0 L320.0,332.0 L320.4,331.9 L320.7,331.8 L321.1,331.6 L321.4,331.3 L321.8,330.8 L322.1,330.2 L322.5,329.4 L322.8,328.6 L323.2,327.9 L323.5,327.7 L323.9,328.1 L324.2,328.9 L324.6,329.8 L324.9,330.6 L325.3,331.1 L325.6,331.5 L326.0,331.8 L326.3,332.0 L326.7,332.1 L327.0,332.2 L327.4,332.2 L327.7,332.1 L328.1,332.1 L328.4,332.2 L328.8,332.3 L329.1,332.3 L329.5,332.3 L329.8,332.4 L330.2,332.4 L330.5,332.3 L330.9,332.1 L331.2,332.0 L331.6,332.0 L331.9,332.0 L332.2,332.1 L332.6,332.1 L332.9,332.0 L333.3,332.0 L333.6,332.0 L334.0,332.0 L334.3,332.1 L334.7,332.2 L335.0,332.2 L335.4,332.3 L335.7,332.2 L336.1,332.2 L336.4,332.2 L336.8,332.1 L337.1,332.1 L337.5,332.1 L337.8,332.2 L338.2,332.1 L338.5,332.1 L338.9,332.1 L339.2,332.1 L339.6,332.1 L339.9,332.2 L340.3,332.2 L340.6,332.3 L341.0,332.3 L341.3,332.4 L341.7,332.3 L342.0,332.1 L342.4,332.0 L342.7,332.0 L343.1,332.1 L343.4,332.2 L343.8,332.3 L344.1,332.2 L344.5,332.0 L344.8,331.7 L345.2,331.3 L345.5,330.8 L345.9,330.2 L346.2,329.5 L346.6,328.9 L346.9,328.9 L347.3,329.3 L347.6,329.9 L348.0,330.5 L348.3,331.0 L348.7,331.4 L349.0,331.7 L349.4,331.9 L349.7,332.0 L350.1,332.0 L350.4,332.1 L350.8,332.3 L351.1,332.6 L351.5,332.7 L351.8,332.6 L352.2,332.4 L352.5,332.3 L352.9,332.3 L353.2,332.3 L353.6,332.3 L353.9,332.3 L354.3,332.3 L354.6,332.3 L355.0,332.4 L355.3,332.4 L355.7,332.4 L356.0,332.3 L356.4,332.2 L356.7,332.1 L357.1,332.1 L357.4,332.2 L357.8,332.2 L358.1,332.3 L358.5,332.4 L358.8,332.4 L359.2,332.3 L359.5,332.3 L359.8,332.2 L360.2,332.2 L360.5,332.2 L360.9,332.2 L361.2,332.2 L361.6,332.1 L361.9,332.1 L362.3,332.2 L362.6,332.3 L363.0,332.3 L363.3,332.3 L363.7,332.3 L364.0,332.2 L364.4,332.2 L364.7,332.2 L365.1,332.2 L365.4,332.2 L365.8,332.3 L366.1,332.3 L366.5,332.3 L366.8,332.2 L367.2,332.1 L367.5,331.9 L367.9,331.9 L368.2,331.8 L368.6,331.8 L368.9,331.8 L369.3,331.7 L369.6,331.6 L370.0,331.3 L370.3,330.9 L370.7,330.4 L371.0,329.6 L371.4,328.7 L371.7,328.0 L372.1,327.6 L372.4,327.9 L372.8,328.6 L373.1,329.5 L373.5,330.3 L373.8,331.0 L374.2,331.5 L374.5,331.8 L374.9,332.1 L375.2,332.2 L375.6,332.4 L375.9,332.4 L376.3,332.4 L376.6,332.4 L377.0,332.2 L377.3,332.2 L377.7,332.2 L378.0,332.4 L378.4,332.5 L378.7,332.5 L379.1,332.4 L379.4,332.4 L379.8,332.4 L380.1,332.3 L380.5,332.2 L380.8,332.3 L381.2,332.3 L381.5,332.4 L381.9,332.5 L382.2,332.4 L382.6,332.4 L382.9,332.4 L383.3,332.5 L383.6,332.5 L384.0,332.6 L384.3,332.5 L384.7,332.6 L385.0,332.6 L385.4,332.5 L385.7,332.5 L386.1,332.4 L386.4,332.3 L386.8,332.2 L387.1,332.2 L387.4,332.2 L387.8,332.2 L388.1,332.3 L388.5,332.3 L388.8,332.3 L389.2,332.4 L389.5,332.4 L389.9,332.3 L390.2,332.2 L390.6,332.1 L390.9,332.1 L391.3,332.1 L391.6,332.1 L392.0,332.0 L392.3,331.6 L392.7,331.0 L393.0,329.9 L393.4,328.6 L393.7,327.0 L394.1,325.1 L394.4,323.4 L394.8,322.5 L395.1,323.1 L395.5,324.8 L395.8,326.8 L396.2,328.5 L396.5,329.7 L396.9,330.5 L397.2,331.1 L397.6,331.5 L397.9,331.8 L398.3,332.1 L398.6,332.3 L399.0,332.4 L399.3,332.5 L399.7,332.4 L400.0,332.4 L400.4,332.4 L400.7,332.6 L401.1,332.6 L401.4,332.6 L401.8,332.4 L402.1,332.3 L402.5,332.3 L402.8,332.3 L403.2,332.3 L403.5,332.4 L403.9,332.5 L404.2,332.5 L404.6,332.5 L404.9,332.4 L405.3,332.4 L405.6,332.4 L406.0,332.4 L406.3,332.3 L406.7,332.3 L407.0,332.3 L407.4,332.4 L407.7,332.5 L408.1,332.7 L408.4,332.7 L408.8,332.8 L409.1,332.8 L409.5,332.9 L409.8,332.9 L410.2,332.7 L410.5,332.6 L410.9,332.5 L411.2,332.5 L411.6,332.5 L411.9,332.6 L412.3,332.7 L412.6,332.7 L413.0,332.7 L413.3,332.6 L413.7,332.4 L414.0,332.3 L414.4,332.2 L414.7,332.3 L415.0,332.5 L415.4,332.6 L415.7,332.6 L416.1,332.5 L416.4,332.4 L416.8,332.4 L417.1,332.4 L417.5,332.4 L417.8,332.3 L418.2,332.2 L418.5,332.3 L418.9,332.4 L419.2,332.5 L419.6,332.6 L419.9,332.7 L420.3,332.8 L420.6,332.9 L421.0,332.9 L421.3,332.8 L421.7,332.6 L422.0,332.5 L422.4,332.4 L422.7,332.4 L423.1,332.6 L423.4,332.7 L423.8,332.8 L424.1,332.7 L424.5,332.6 L424.8,332.5 L425.2,332.4 L425.5,332.4 L425.9,332.2 L426.2,331.9 L426.6,331.4 L426.9,331.0 L427.3,330.8 L427.6,330.7 L428.0,331.0 L428.3,331.4 L428.7,331.8 L429.0,332.1 L429.4,332.3 L429.7,332.5 L430.1,332.7 L430.4,332.8 L430.8,332.8 L431.1,332.7 L431.5,332.6 L431.8,332.5 L432.2,332.5 L432.5,332.6 L432.9,332.7 L433.2,332.8 L433.6,332.8 L433.9,332.9 L434.3,332.9 L434.6,332.9 L435.0,332.8 L435.3,332.8 L435.7,332.7 L436.0,332.7 L436.4,332.7 L436.7,332.6 L437.1,332.5 L437.4,332.5 L437.8,332.6 L438.1,332.6 L438.5,332.6 L438.8,332.5 L439.2,332.6 L439.5,332.7 L439.9,332.7 L440.2,332.7 L440.6,332.6 L440.9,332.5 L441.3,332.3 L441.6,332.2 L442.0,332.2 L442.3,332.4 L442.6,332.6 L443.0,332.8 L443.3,332.9 L443.7,332.9 L444.0,332.9 L444.4,332.9 L444.7,332.8 L445.1,332.8 L445.4,332.8 L445.8,332.8 L446.1,332.8 L446.5,332.9 L446.8,332.9 L447.2,333.0 L447.5,333.0 L447.9,332.9 L448.2,332.8 L448.6,332.8 L448.9,332.8 L449.3,332.8 L449.6,332.8 L450.0,332.9 L450.3,332.9 L450.7,332.9 L451.0,332.8 L451.4,332.8 L451.7,332.7 L452.1,332.6 L452.4,332.6 L452.8,332.6 L453.1,332.7 L453.5,332.9 L453.8,333.0 L454.2,333.0 L454.5,332.8 L454.9,332.5 L455.2,332.1 L455.6,331.6 L455.9,330.9 L456.3,330.0 L456.6,328.7 L457.0,327.2 L457.3,326.1 L457.7,325.6 L458.0,326.2 L458.4,327.4 L458.7,328.7 L459.1,329.9 L459.4,330.9 L459.8,331.6 L460.1,332.0 L460.5,332.2 L460.8,332.2 L461.2,332.2 L461.5,332.2 L461.9,332.3 L462.2,332.4 L462.6,332.5 L462.9,332.7 L463.3,332.8 L463.6,332.9 L464.0,332.9 L464.3,332.9 L464.7,332.9 L465.0,332.9 L465.4,332.8 L465.7,332.8 L466.1,332.8 L466.4,332.8 L466.8,332.9 L467.1,333.0 L467.5,333.0 L467.8,333.0 L468.2,332.9 L468.5,332.8 L468.9,332.8 L469.2,332.9 L469.6,332.9 L469.9,332.8 L470.2,332.7 L470.6,332.6 L470.9,332.6 L471.3,332.6 L471.6,332.7 L472.0,332.7 L472.3,332.7 L472.7,332.6 L473.0,332.6 L473.4,332.6 L473.7,332.7 L474.1,332.6 L474.4,332.5 L474.8,332.4 L475.1,332.2 L475.5,332.2 L475.8,332.2 L476.2,332.3 L476.5,332.4 L476.9,332.2 L477.2,331.9 L477.6,331.4 L477.9,330.8 L478.3,329.8 L478.6,328.5 L479.0,326.7 L479.3,324.8 L479.7,323.3 L480.0,323.1 L480.4,324.2 L480.7,326.0 L481.1,328.0 L481.4,329.6 L481.8,330.8 L482.1,331.6 L482.5,332.0 L482.8,332.1 L483.2,332.2 L483.5,332.3 L483.9,332.4 L484.2,332.5 L484.6,332.5 L484.9,332.5 L485.3,332.6 L485.6,332.6 L486.0,332.7 L486.3,332.8 L486.7,332.8 L487.0,332.8 L487.4,332.7 L487.7,332.7 L488.1,332.7 L488.4,332.8 L488.8,332.8 L489.1,332.7 L489.5,332.5 L489.8,332.1 L490.2,331.7 L490.5,331.2 L490.9,331.0 L491.2,331.0 L491.6,331.3 L491.9,331.7 L492.3,332.1 L492.6,332.5 L493.0,332.7 L493.3,332.9 L493.7,333.1 L494.0,333.1 L494.4,333.0 L494.7,332.8 L495.1,332.7 L495.4,332.7 L495.8,332.7 L496.1,332.9 L496.5,333.1 L496.8,333.2 L497.2,333.2 L497.5,333.1 L497.8,332.9 L498.2,332.9 L498.5,333.0 L498.9,333.0 L499.2,333.0 L499.6,333.0 L499.9,333.0 L500.3,333.2 L500.6,333.3 L501.0,333.2 L501.3,333.1 L501.7,333.0 L502.0,333.0 L502.4,333.1 L502.7,333.1 L503.1,333.0 L503.4,333.1 L503.8,333.2 L504.1,333.4 L504.5,333.4 L504.8,333.3 L505.2,333.1 L505.5,333.0 L505.9,332.9 L506.2,333.0 L506.6,333.1 L506.9,333.1 L507.3,333.1 L507.6,333.0 L508.0,333.0 L508.3,333.0 L508.7,332.9 L509.0,333.0 L509.4,333.0 L509.7,333.0 L510.1,332.9 L510.4,332.9 L510.8,332.9 L511.1,332.9 L511.5,333.0 L511.8,333.0 L512.2,333.0 L512.5,333.0 L512.9,333.1 L513.2,333.2 L513.6,333.2 L513.9,333.2 L514.3,333.1 L514.6,333.0 L515.0,332.9 L515.3,332.9 L515.7,333.0 L516.0,333.2 L516.4,333.2 L516.7,333.3 L517.1,333.3 L517.4,333.2 L517.8,333.1 L518.1,333.1 L518.5,333.1 L518.8,333.1 L519.2,333.1 L519.5,333.2 L519.9,333.2 L520.2,333.2 L520.6,333.2 L520.9,333.1 L521.3,333.1 L521.6,333.1 L522.0,333.0 L522.3,333.0 L522.7,333.0 L523.0,333.1 L523.4,333.2 L523.7,333.2 L524.1,333.2 L524.4,333.2 L524.8,333.1 L525.1,333.1 L525.4,333.1 L525.8,333.1 L526.1,333.1 L526.5,333.0 L526.8,332.9 L527.2,332.9 L527.5,332.9 L527.9,333.0 L528.2,333.1 L528.6,333.1 L528.9,333.1 L529.3,333.1 L529.6,333.1 L530.0,333.1 L530.3,333.1 L530.7,333.1 L531.0,333.2 L531.4,333.3 L531.7,333.3 L532.1,333.2 L532.4,333.1 L532.8,333.1 L533.1,333.0 L533.5,332.9 L533.8,332.9 L534.2,332.8 L534.5,332.8 L534.9,332.9 L535.2,332.9 L535.6,332.9 L535.9,332.8 L536.3,332.5 L536.6,332.2 L537.0,331.9 L537.3,331.7 L537.7,331.6 L538.0,331.7 L538.4,332.0 L538.7,332.3 L539.1,332.6 L539.4,332.8 L539.8,332.9 L540.1,333.0 L540.5,333.0 L540.8,333.0 L541.2,333.0 L541.5,333.2 L541.9,333.3 L542.2,333.4 L542.6,333.4 L542.9,333.3 L543.3,333.3 L543.6,333.3 L544.0,333.3 L544.3,333.3 L544.7,333.4 L545.0,333.4 L545.4,333.3 L545.7,333.2 L546.1,333.1 L546.4,333.1 L546.8,333.2 L547.1,333.3 L547.5,333.4 L547.8,333.4 L548.2,333.4 L548.5,333.4 L548.9,333.4 L549.2,333.4 L549.6,333.3 L549.9,333.3 L550.3,333.4 L550.6,333.4 L551.0,333.3 L551.3,333.3 L551.7,333.3 L552.0,333.3 L552.4,333.2 L552.7,333.2 L553.0,333.3 L553.4,333.3 L553.7,333.3 L554.1,333.3 L554.4,333.4 L554.8,333.5 L555.1,333.4 L555.5,333.3 L555.8,333.2 L556.2,333.1 L556.5,333.1 L556.9,333.1 L557.2,333.2 L557.6,333.3 L557.9,333.2 L558.3,333.1 L558.6,332.8 L559.0,332.6 L559.3,332.5 L559.7,332.4 L560.0,332.5 L560.4,332.6 L560.7,332.7 L561.1,332.8 L561.4,333.0 L561.8,333.1 L562.1,333.2 L562.5,333.3 L562.8,333.3 L563.2,333.4 L563.5,333.4 L563.9,333.3 L564.2,333.3 L564.6,333.3 L564.9,333.3 L565.3,333.4 L565.6,333.4 L566.0,333.4 L566.3,333.4 L566.7,333.3 L567.0,333.3 L567.4,333.2 L567.7,333.2 L568.1,333.2 L568.4,333.2 L568.8,333.3 L569.1,333.4 L569.5,333.4 L569.8,333.3 L570.2,333.1 L570.5,333.1 L570.9,333.1 L571.2,333.2 L571.6,333.4 L571.9,333.4 L572.3,333.5 L572.6,333.5 L573.0,333.5 L573.3,333.6 L573.7,333.6 L574.0,333.7 L574.4,333.7 L574.7,333.6 L575.1,333.6 L575.4,333.6 L575.8,333.5 L576.1,333.5 L576.5,333.5 L576.8,333.4 L577.2,333.4 L577.5,333.4 L577.9,333.5 L578.2,333.6 L578.6,333.7 L578.9,333.7 L579.3,333.6 L579.6,333.5 L580.0,333.4 L580.3,333.4" fill="none" stroke="#000" stroke-width="2.6" stroke-linejoin="round"/>
<line x1="56.6" y1="384.9" x2="580.3" y2="384.9" stroke="#000" stroke-width="2.6"/>
<line x1="272.9" y1="353.4" x2="272.9" y2="384.5" stroke="#ff0a80" stroke-width="2.5" stroke-linecap="round"/>
<line x1="312.9" y1="365.7" x2="312.9" y2="384.5" stroke="#ff0a80" stroke-width="2.5" stroke-linecap="round"/>
<line x1="444.8" y1="370.9" x2="444.8" y2="384.5" stroke="#ff0a80" stroke-width="2.5" stroke-linecap="round"/>
<line x1="531.0" y1="367.1" x2="531.0" y2="384.5" stroke="#ff0a80" stroke-width="2.5" stroke-linecap="round"/>
<line x1="558.1" y1="379.2" x2="558.1" y2="384.5" stroke="#ff0a80" stroke-width="2.5" stroke-linecap="round"/>
<rect x="56.6" y="14.4" width="523.7" height="381.6" fill="none" stroke="#000" stroke-width="2.7" stroke-linejoin="round"/>
<line x1="56.6" y1="396.0" x2="56.6" y2="401.0" stroke="#000" stroke-width="2.4" stroke-linecap="round"/>
<line x1="87.4" y1="396.0" x2="87.4" y2="404.5" stroke="#000" stroke-width="2.4" stroke-linecap="round"/>
<line x1="118.2" y1="396.0" x2="118.2" y2="401.0" stroke="#000" stroke-width="2.4" stroke-linecap="round"/>
<line x1="149.0" y1="396.0" x2="149.0" y2="404.5" stroke="#000" stroke-width="2.4" stroke-linecap="round"/>
<line x1="179.8" y1="396.0" x2="179.8" y2="401.0" stroke="#000" stroke-width="2.4" stroke-linecap="round"/>
<line x1="210.6" y1="396.0" x2="210.6" y2="404.5" stroke="#000" stroke-width="2.4" stroke-linecap="round"/>
<line x1="241.4" y1="396.0" x2="241.4" y2="401.0" stroke="#000" stroke-width="2.4" stroke-linecap="round"/>
<line x1="272.2" y1="396.0" x2="272.2" y2="404.5" stroke="#000" stroke-width="2.4" stroke-linecap="round"/>
<line x1="303.0" y1="396.0" x2="303.0" y2="401.0" stroke="#000" stroke-width="2.4" stroke-linecap="round"/>
<line x1="333.9" y1="396.0" x2="333.9" y2="404.5" stroke="#000" stroke-width="2.4" stroke-linecap="round"/>
<line x1="364.7" y1="396.0" x2="364.7" y2="401.0" stroke="#000" stroke-width="2.4" stroke-linecap="round"/>
<line x1="395.5" y1="396.0" x2="395.5" y2="404.5" stroke="#000" stroke-width="2.4" stroke-linecap="round"/>
<line x1="426.3" y1="396.0" x2="426.3" y2="401.0" stroke="#000" stroke-width="2.4" stroke-linecap="round"/>
<line x1="457.1" y1="396.0" x2="457.1" y2="404.5" stroke="#000" stroke-width="2.4" stroke-linecap="round"/>
<line x1="487.9" y1="396.0" x2="487.9" y2="401.0" stroke="#000" stroke-width="2.4" stroke-linecap="round"/>
<line x1="518.7" y1="396.0" x2="518.7" y2="404.5" stroke="#000" stroke-width="2.4" stroke-linecap="round"/>
<line x1="549.5" y1="396.0" x2="549.5" y2="401.0" stroke="#000" stroke-width="2.4" stroke-linecap="round"/>
<line x1="580.3" y1="396.0" x2="580.3" y2="404.5" stroke="#000" stroke-width="2.4" stroke-linecap="round"/>
<path d="M635.2,312.2 L635.4,312.5 L635.6,312.4 L635.8,312.1 L636.0,312.1 L636.2,312.1 L636.4,312.3 L636.6,312.1 L636.8,312.3 L637.0,311.7 L637.2,312.4 L637.4,312.1 L637.6,312.2 L637.8,312.0 L638.0,312.0 L638.2,312.1 L638.4,312.2 L638.6,312.0 L638.8,312.0 L639.0,312.1 L639.2,311.8 L639.4,311.7 L639.6,312.0 L639.8,311.8 L640.0,311.5 L640.2,311.7 L640.4,311.8 L640.6,311.6 L640.8,311.6 L641.0,311.9 L641.2,312.0 L641.4,311.8 L641.6,311.7 L641.8,311.9 L642.0,311.9 L642.2,311.7 L642.4,311.9 L642.6,312.0 L642.8,311.7 L643.0,311.6 L643.2,311.8 L643.4,311.8 L643.6,311.9 L643.8,311.4 L644.0,311.5 L644.2,311.5 L644.4,311.3 L644.6,311.7 L644.8,311.7 L645.0,311.5 L645.2,311.9 L645.4,311.7 L645.6,311.7 L645.8,311.6 L646.0,311.7 L646.2,311.3 L646.4,311.6 L646.6,311.6 L646.8,311.1 L647.0,311.5 L647.2,311.4 L647.4,311.6 L647.6,311.4 L647.8,311.4 L648.0,311.5 L648.2,311.2 L648.4,311.5 L648.6,311.4 L648.8,311.5 L649.0,311.2 L649.2,311.6 L649.4,311.4 L649.6,311.3 L649.8,311.4 L650.0,311.5 L650.2,311.6 L650.4,310.9 L650.6,311.4 L650.8,311.3 L651.0,311.2 L651.2,311.0 L651.4,311.5 L651.6,310.9 L651.8,311.3 L652.0,311.4 L652.2,310.8 L652.4,311.1 L652.6,310.9 L652.8,311.2 L653.0,311.4 L653.2,311.5 L653.4,310.7 L653.6,311.0 L653.8,311.2 L654.0,311.4 L654.2,311.2 L654.4,310.9 L654.6,311.2 L654.8,311.1 L655.0,311.1 L655.2,311.0 L655.4,311.2 L655.6,311.2 L655.8,311.1 L656.0,311.1 L656.2,310.8 L656.4,311.0 L656.6,311.3 L656.8,311.1 L657.0,310.8 L657.2,311.4 L657.4,311.2 L657.6,311.5 L657.8,311.1 L658.0,311.0 L658.2,310.8 L658.4,311.4 L658.6,311.6 L658.8,310.9 L659.0,311.0 L659.2,311.2 L659.4,310.9 L659.6,311.0 L659.8,311.0 L660.0,311.1 L660.2,311.3 L660.4,311.1 L660.6,311.3 L660.8,311.0 L661.0,311.2 L661.2,310.7 L661.4,310.8 L661.6,311.3 L661.8,311.0 L662.0,311.2 L662.2,311.2 L662.4,311.4 L662.6,311.3 L662.8,311.3 L663.0,311.1 L663.2,311.0 L663.4,310.9 L663.6,311.0 L663.8,310.9 L664.0,311.0 L664.2,311.1 L664.4,311.1 L664.6,311.0 L664.8,310.7 L665.0,311.1 L665.2,311.1 L665.4,311.3 L665.6,311.2 L665.8,311.0 L666.0,310.9 L666.2,311.5 L666.4,311.2 L666.6,311.5 L666.8,311.5 L667.0,310.9 L667.2,311.2 L667.4,311.2 L667.6,311.2 L667.8,311.2 L668.0,311.1 L668.2,311.1 L668.4,310.8 L668.6,311.1 L668.8,310.9 L669.0,311.1 L669.2,311.0 L669.4,311.2 L669.6,311.2 L669.8,311.1 L670.0,311.1 L670.2,311.1 L670.4,311.0 L670.6,311.0 L670.8,311.0 L671.0,311.1 L671.2,311.1 L671.4,311.2 L671.6,310.8 L671.8,311.3 L672.0,310.9 L672.2,310.9 L672.4,311.0 L672.6,310.9 L672.8,311.0 L673.0,310.8 L673.2,310.6 L673.4,310.6 L673.6,310.9 L673.8,310.6 L674.0,310.2 L674.2,310.4 L674.4,309.9 L674.6,310.5 L674.8,309.8 L675.0,310.1 L675.2,310.0 L675.4,309.6 L675.6,310.0 L675.8,310.1 L676.0,310.1 L676.2,310.1 L676.4,310.3 L676.6,310.3 L676.8,310.5 L677.0,310.6 L677.2,310.9 L677.4,310.7 L677.6,311.3 L677.8,311.2 L678.0,311.2 L678.2,311.7 L678.4,312.1 L678.6,312.1 L678.8,311.9 L679.0,312.2 L679.2,312.1 L679.4,312.3 L679.6,312.4 L679.8,312.0 L680.0,312.5 L680.2,312.4 L680.4,312.5 L680.6,312.4 L680.8,312.4 L681.0,312.6 L681.2,313.0 L681.4,313.2 L681.6,312.9 L681.8,313.2 L682.0,313.0 L682.2,312.7 L682.4,313.1 L682.6,313.2 L682.8,313.1 L683.0,313.3 L683.2,313.4 L683.4,313.2 L683.6,313.1 L683.8,313.4 L684.0,313.4 L684.2,313.5 L684.4,313.8 L684.6,314.0 L684.8,313.6 L685.0,313.8 L685.2,313.9 L685.4,313.9 L685.6,314.0 L685.8,313.8 L686.0,314.0 L686.2,314.3 L686.4,314.1 L686.6,313.8 L686.8,314.1 L687.0,314.2 L687.2,314.0 L687.4,313.7 L687.6,314.1 L687.8,313.4 L688.0,313.7 L688.2,313.5 L688.4,313.1 L688.6,313.5 L688.8,313.2 L689.0,312.7 L689.2,313.0 L689.4,312.6 L689.6,312.2 L689.8,312.4 L690.0,312.5 L690.2,312.5 L690.4,312.4 L690.6,312.3 L690.8,312.4 L691.0,312.3 L691.2,312.6 L691.4,312.5 L691.6,312.6 L691.8,312.7 L692.0,312.5 L692.2,312.6 L692.4,313.2 L692.6,313.0 L692.8,313.0 L693.0,313.1 L693.2,313.0 L693.4,313.2 L693.6,313.1 L693.8,313.3 L694.0,313.0 L694.2,313.6 L694.4,313.2 L694.6,313.0 L694.8,313.3 L695.0,313.3 L695.2,313.4 L695.4,313.1 L695.6,313.4 L695.8,314.1 L696.0,313.1 L696.2,313.4 L696.4,313.3 L696.6,313.4 L696.8,313.0 L697.0,313.2 L697.2,313.5 L697.4,313.4 L697.6,313.7 L697.8,313.2 L698.0,313.4 L698.2,314.0 L698.4,313.2 L698.6,313.2 L698.8,313.4 L699.0,313.4 L699.2,313.6 L699.4,313.4 L699.6,313.2 L699.8,313.4 L700.0,313.9 L700.2,313.6 L700.4,312.8 L700.6,313.4 L700.8,313.2 L701.0,313.5 L701.2,313.4 L701.4,313.8 L701.6,313.6 L701.8,313.6 L702.0,313.4 L702.2,313.4 L702.4,313.5 L702.6,313.7 L702.8,313.5 L703.0,313.3 L703.2,313.6 L703.4,313.4 L703.6,313.4 L703.8,313.2 L704.0,313.3 L704.2,313.3 L704.4,312.8 L704.6,313.6 L704.8,313.5 L705.0,313.3 L705.2,313.6 L705.4,313.4 L705.6,313.4 L705.8,312.8 L706.0,313.2 L706.2,313.4 L706.4,313.6 L706.6,313.6 L706.8,313.5 L707.0,313.0 L707.2,312.7 L707.4,313.3 L707.6,313.1 L707.8,313.3 L708.0,313.1 L708.2,313.1 L708.4,312.7 L708.6,313.1 L708.8,312.9 L709.0,313.1 L709.2,313.1 L709.4,312.9 L709.6,313.0 L709.8,312.9 L710.0,313.0 L710.2,313.0 L710.4,312.7 L710.6,312.7 L710.8,313.1 L711.0,312.8 L711.2,313.0 L711.4,312.8 L711.6,312.6 L711.8,312.5 L712.0,312.7 L712.2,312.7 L712.4,312.8 L712.6,312.4 L712.8,312.5 L713.0,312.6 L713.2,312.9 L713.4,312.1 L713.6,312.6 L713.8,312.4 L714.0,312.6 L714.2,312.4 L714.4,312.5 L714.6,312.7 L714.8,312.5 L715.0,312.5 L715.2,312.4 L715.4,312.2 L715.6,312.4 L715.8,312.2 L716.0,312.1 L716.2,312.2 L716.4,312.2 L716.6,312.4 L716.8,312.2 L717.0,312.1 L717.2,312.4 L717.4,312.3 L717.6,312.4 L717.8,312.2 L718.0,312.0 L718.2,312.0 L718.4,312.0 L718.6,312.2 L718.8,312.0 L719.0,311.7 L719.2,311.9 L719.4,311.6 L719.6,311.9 L719.8,311.6 L720.0,311.6 L720.2,311.9 L720.4,311.8 L720.6,311.5 L720.8,311.9 L721.0,312.2 L721.2,311.4 L721.4,312.1 L721.6,311.5 L721.8,311.6 L722.0,311.6 L722.2,311.3 L722.4,311.9 L722.6,311.8 L722.8,311.5 L723.0,311.7 L723.2,311.5 L723.4,311.8 L723.6,312.1 L723.8,311.7 L724.0,312.0 L724.2,312.2 L724.4,312.4 L724.6,312.5 L724.8,312.3 L725.0,312.3 L725.2,312.6 L725.4,312.5 L725.6,312.6 L725.8,312.9 L726.0,313.1 L726.2,312.9 L726.4,312.8 L726.6,313.1 L726.8,312.6 L727.0,313.1 L727.2,312.9 L727.4,313.7 L727.6,313.4 L727.8,313.3 L728.0,313.2 L728.2,312.8 L728.4,313.4 L728.6,313.5 L728.8,313.0 L729.0,313.2 L729.2,313.0 L729.4,312.4 L729.6,312.6 L729.8,312.4 L730.0,311.8 L730.2,311.3 L730.4,311.0 L730.6,310.0 L730.8,309.7 L731.0,309.4 L731.2,308.4 L731.4,308.3 L731.6,307.7 L731.8,307.1 L732.0,307.4 L732.2,307.3 L732.4,307.8 L732.6,307.9 L732.8,308.8 L733.0,309.1 L733.2,309.9 L733.4,310.4 L733.6,311.1 L733.8,312.0 L734.0,312.3 L734.2,312.7 L734.4,313.0 L734.6,313.9 L734.8,314.2 L735.0,314.3 L735.2,314.8 L735.4,314.8 L735.6,315.1 L735.8,315.5 L736.0,316.0 L736.2,316.2 L736.4,316.3 L736.6,316.8 L736.8,317.0 L737.0,317.1 L737.2,317.5 L737.4,317.4 L737.6,317.5 L737.8,317.7 L738.0,317.6 L738.2,317.8 L738.4,317.4 L738.6,317.9 L738.8,317.5 L739.0,317.6 L739.2,317.4 L739.4,317.8 L739.6,317.9 L739.8,317.9 L740.0,317.8 L740.2,317.3 L740.4,317.5 L740.6,317.5 L740.8,317.4 L741.0,317.8 L741.2,317.7 L741.4,317.6 L741.6,317.7 L741.8,317.4 L742.0,317.4 L742.2,317.4 L742.4,317.7 L742.6,317.7 L742.8,317.7 L743.0,317.8 L743.2,317.3 L743.4,317.5 L743.6,317.6 L743.8,317.3 L744.0,317.5 L744.2,317.8 L744.4,317.8 L744.6,317.8 L744.8,317.6 L745.0,317.5 L745.2,317.8 L745.4,317.5 L745.6,317.6 L745.8,317.8 L746.0,317.5 L746.2,317.4 L746.4,317.5 L746.6,317.7 L746.8,317.6 L747.0,317.6 L747.2,317.6 L747.4,317.2 L747.6,317.4 L747.8,317.6 L748.0,317.3 L748.2,317.3 L748.4,317.3 L748.6,317.3 L748.8,317.5 L749.0,317.3 L749.2,317.6 L749.4,317.8 L749.6,317.5 L749.8,317.7 L750.0,317.5 L750.2,317.3 L750.4,317.4 L750.6,317.3 L750.8,317.6 L751.0,317.2 L751.2,317.7 L751.4,317.6 L751.6,317.1 L751.8,317.6 L752.0,317.8 L752.2,317.3 L752.4,317.7 L752.6,317.1 L752.8,317.5 L753.0,317.1 L753.2,317.5 L753.4,317.1 L753.6,316.9 L753.8,317.5 L754.0,317.9 L754.2,317.3 L754.4,317.6 L754.6,317.4 L754.8,317.4 L755.0,317.5 L755.2,317.7 L755.4,317.2 L755.6,317.5 L755.8,317.5 L756.0,317.1 L756.2,317.7 L756.4,317.8 L756.6,317.2 L756.8,317.7 L757.0,317.3 L757.2,317.3 L757.4,317.6 L757.6,317.3 L757.8,317.3 L758.0,317.6 L758.2,317.5 L758.4,317.4 L758.6,316.9 L758.8,316.9 L759.0,317.4 L759.2,317.0 L759.4,317.2 L759.6,316.9 L759.8,317.1 L760.0,316.9 L760.2,317.4 L760.4,316.9 L760.6,317.0 L760.8,317.0 L761.0,317.3 L761.2,316.7 L761.4,317.0 L761.6,317.0 L761.8,317.1 L762.0,317.1 L762.2,316.9 L762.4,317.0 L762.6,316.9 L762.8,317.0 L763.0,316.9 L763.2,316.8 L763.4,316.9 L763.6,316.9 L763.8,317.3 L764.0,316.7 L764.2,316.9 L764.4,317.1 L764.6,316.4 L764.8,316.4 L765.0,316.5 L765.3,316.7 L765.5,317.2 L765.7,316.8 L765.9,317.0 L766.1,316.7 L766.3,316.2 L766.5,316.2 L766.7,316.9 L766.9,316.7 L767.1,316.4 L767.3,316.8 L767.5,316.3 L767.7,316.8 L767.9,316.9 L768.1,316.4 L768.3,316.3 L768.5,316.7 L768.7,316.3 L768.9,316.7 L769.1,316.3 L769.3,316.6 L769.5,316.5 L769.7,316.4 L769.9,316.3 L770.1,316.5 L770.3,316.0 L770.5,316.3 L770.7,316.3 L770.9,316.5 L771.1,316.1 L771.3,316.7 L771.5,316.3 L771.7,316.1 L771.9,316.6 L772.1,316.6 L772.3,316.2 L772.5,316.1 L772.7,316.2 L772.9,316.1 L773.1,316.1 L773.3,316.5 L773.5,316.3 L773.7,316.2 L773.9,316.2 L774.1,316.1 L774.3,316.3 L774.5,316.3 L774.7,316.0 L774.9,316.1 L775.1,316.6 L775.3,316.1 L775.5,316.0 L775.7,316.4 L775.9,316.0 L776.1,315.8 L776.3,316.1 L776.5,315.8 L776.7,315.9 L776.9,316.0 L777.1,315.9 L777.3,315.8 L777.5,315.8 L777.7,315.8 L777.9,316.1 L778.1,315.7 L778.3,315.7 L778.5,316.2 L778.7,315.7 L778.9,316.1 L779.1,316.1 L779.3,315.8 L779.5,315.5 L779.7,315.8 L779.9,315.9 L780.1,315.9 L780.3,315.7 L780.5,315.9 L780.7,316.0 L780.9,315.5 L781.1,315.9 L781.3,315.7 L781.5,315.5 L781.7,315.6 L781.9,316.0 L782.1,315.8 L782.3,315.2 L782.5,315.6 L782.7,315.5 L782.9,315.5 L783.1,315.4 L783.3,315.2 L783.5,315.7 L783.7,315.3 L783.9,315.4 L784.1,315.3 L784.3,315.3 L784.5,315.6 L784.7,315.5 L784.9,315.3 L785.1,315.2 L785.3,315.3 L785.5,315.5 L785.7,315.4 L785.9,315.4 L786.1,315.2 L786.3,315.2 L786.5,315.3 L786.7,314.9 L786.9,315.6 L787.1,315.1 L787.3,315.1 L787.5,315.5 L787.7,315.2 L787.9,315.2 L788.1,315.1 L788.3,314.8 L788.5,315.2 L788.7,315.4 L788.9,314.9 L789.1,315.4 L789.3,314.9 L789.5,314.9 L789.7,315.2 L789.9,315.0 L790.1,315.2 L790.3,314.9 L790.5,314.8 L790.7,314.6 L790.9,314.7 L791.1,314.7 L791.3,314.7 L791.5,315.0 L791.7,314.8 L791.9,314.5 L792.1,315.4 L792.3,314.7 L792.5,314.6 L792.7,315.1 L792.9,315.1 L793.1,314.6 L793.3,314.5 L793.5,314.6 L793.7,315.0 L793.9,314.7 L794.1,314.6 L794.3,314.7 L794.5,315.0 L794.7,314.4 L794.9,314.6 L795.1,314.4 L795.3,315.1 L795.5,315.0 L795.7,314.8 L795.9,314.6 L796.1,314.7 L796.3,314.2 L796.5,314.6 L796.7,314.3 L796.9,314.3 L797.1,314.4 L797.3,314.5 L797.5,314.6 L797.7,314.6 L797.9,314.5 L798.1,314.3 L798.3,314.6 L798.5,314.4 L798.7,314.7 L798.9,314.2 L799.1,313.9 L799.3,314.3 L799.5,314.8 L799.7,314.5 L799.9,314.3 L800.1,314.5 L800.3,314.4 L800.5,314.4 L800.7,314.2 L800.9,314.3 L801.1,314.3 L801.3,314.1 L801.5,314.0 L801.7,314.3 L801.9,314.4 L802.1,314.3 L802.3,314.3 L802.5,314.3 L802.7,314.7 L802.9,314.2 L803.1,314.3 L803.3,314.5 L803.5,314.1 L803.7,314.2 L803.9,314.3 L804.1,314.4 L804.3,314.1 L804.5,314.1 L804.7,314.1 L804.9,313.8 L805.1,314.2 L805.3,314.0 L805.5,313.7 L805.7,314.0 L805.9,313.6 L806.1,313.8 L806.3,314.0 L806.5,313.8 L806.7,314.2 L806.9,313.6 L807.1,314.0 L807.3,314.0 L807.5,314.2 L807.7,314.1 L807.9,313.9 L808.1,313.9 L808.3,313.8 L808.5,314.1 L808.7,313.7 L808.9,313.9 L809.1,313.8 L809.3,313.8 L809.5,313.7 L809.7,314.2 L809.9,313.6 L810.1,313.8 L810.3,313.8 L810.5,313.8 L810.7,313.8 L810.9,313.8 L811.1,313.9 L811.3,313.4 L811.5,313.7 L811.7,313.4 L811.9,313.7 L812.1,313.4 L812.3,313.4 L812.5,313.6 L812.7,313.9 L812.9,313.7 L813.1,313.6 L813.3,313.8 L813.5,313.4 L813.7,313.1 L813.9,313.4 L814.1,313.5 L814.3,313.8 L814.5,313.9 L814.7,313.2 L814.9,314.0 L815.1,313.8 L815.3,313.6 L815.5,313.5 L815.7,313.9 L815.9,313.4 L816.1,313.3 L816.3,313.4 L816.5,313.1 L816.7,313.5 L816.9,313.3 L817.1,313.4 L817.3,313.4 L817.5,313.1 L817.7,313.6 L817.9,313.1 L818.1,313.5 L818.3,313.0 L818.5,313.3 L818.7,313.1 L818.9,313.3 L819.1,313.1 L819.3,312.8 L819.5,313.0 L819.7,313.2 L819.9,313.3 L820.1,312.9 L820.3,312.7 L820.5,313.0 L820.7,313.1 L820.9,313.0 L821.1,313.0 L821.3,313.3 L821.5,313.3 L821.7,313.2 L821.9,312.9 L822.1,313.1 L822.3,313.0 L822.5,312.8 L822.7,313.2 L822.9,313.0 L823.1,312.9 L823.3,313.3 L823.5,313.1 L823.7,313.1 L823.9,313.2 L824.1,313.1 L824.3,312.7 L824.5,312.9 L824.7,313.1 L824.9,312.8 L825.1,312.9 L825.3,313.0 L825.5,313.2 L825.7,313.1 L825.9,313.0 L826.1,312.8 L826.3,313.0 L826.5,312.9 L826.7,312.8 L826.9,313.1 L827.1,312.9 L827.3,312.6 L827.5,313.0 L827.7,312.7 L827.9,312.9 L828.1,312.4 L828.3,312.7 L828.5,312.5 L828.7,312.5 L828.9,312.3 L829.1,313.1 L829.3,312.6 L829.5,312.7 L829.7,312.9 L829.9,312.6 L830.1,312.7 L830.3,312.3 L830.5,312.6 L830.7,312.5 L830.9,312.7 L831.1,312.6 L831.3,312.3 L831.5,312.2 L831.7,312.3 L831.9,312.7 L832.1,312.6 L832.3,312.6 L832.5,312.1 L832.7,311.9 L832.9,312.3 L833.1,312.4 L833.3,312.3 L833.5,312.5 L833.7,312.4 L833.9,312.2 L834.1,312.2 L834.3,312.4 L834.5,312.4 L834.7,312.3 L834.9,312.8 L835.1,312.3 L835.3,312.3 L835.5,312.1 L835.7,312.2 L835.9,312.4 L836.1,312.4 L836.3,312.2 L836.5,312.3 L836.7,312.2 L836.9,311.8 L837.1,311.6 L837.3,312.7 L837.5,312.4 L837.7,312.2 L837.9,311.8 L838.1,311.9 L838.3,312.4 L838.5,311.6 L838.7,312.1 L838.9,312.3 L839.1,312.1 L839.3,312.2 L839.5,312.0 L839.7,312.5 L839.9,311.8 L840.1,311.8 L840.3,312.1 L840.5,312.3 L840.7,312.0 L840.9,312.2 L841.1,311.8 L841.3,311.6 L841.5,312.1 L841.7,312.1 L841.9,312.0 L842.1,311.5 L842.3,311.3 L842.5,311.2 L842.7,311.2 L842.9,311.3 L843.1,311.1 L843.3,310.6 L843.5,310.7 L843.7,310.6 L843.9,310.5 L844.1,310.4 L844.3,310.3 L844.5,310.4 L844.7,310.3 L844.9,310.4 L845.1,310.3 L845.3,310.7 L845.5,310.7 L845.7,310.4 L845.9,311.1 L846.1,311.0 L846.3,311.4 L846.5,311.2 L846.7,311.3 L846.9,311.5 L847.1,311.5 L847.3,311.4 L847.5,311.2 L847.7,311.9 L847.9,311.2 L848.1,311.5 L848.3,311.7 L848.5,311.6 L848.7,311.6 L848.9,311.6 L849.1,311.7 L849.3,311.5 L849.5,312.0 L849.7,311.2 L849.9,311.4 L850.1,311.3 L850.3,311.3 L850.5,311.4 L850.7,311.6 L850.9,311.2 L851.1,311.1 L851.3,311.4 L851.5,311.4 L851.7,311.6 L851.9,311.4 L852.1,311.2 L852.3,311.1 L852.5,311.2 L852.7,311.1 L852.9,310.8 L853.1,311.1 L853.3,311.0 L853.5,311.0 L853.7,310.9 L853.9,311.3 L854.1,311.1 L854.3,311.2 L854.5,310.8 L854.7,310.7 L854.9,310.9 L855.1,310.9 L855.3,310.8 L855.5,310.8 L855.7,311.0 L855.9,310.9 L856.1,310.6 L856.3,310.7 L856.5,310.6 L856.7,310.8 L856.9,310.5 L857.1,310.7 L857.3,310.8 L857.5,310.7 L857.7,310.4 L857.9,310.5 L858.1,310.6 L858.3,310.7 L858.5,310.7 L858.7,310.5 L858.9,310.2 L859.1,310.8 L859.3,310.5 L859.5,310.5 L859.7,310.5 L859.9,310.2 L860.1,310.3 L860.3,310.4 L860.5,310.6 L860.7,310.3 L860.9,309.7 L861.1,310.2 L861.3,310.3 L861.5,310.5 L861.7,310.4 L861.9,310.7 L862.1,310.5 L862.3,310.4 L862.5,310.3 L862.7,309.9 L862.9,310.3 L863.1,310.2 L863.3,310.0 L863.5,310.2 L863.7,310.1 L863.9,309.9 L864.1,310.0 L864.3,309.9 L864.5,310.0 L864.7,309.8 L864.9,310.0 L865.1,309.5 L865.3,309.8 L865.5,309.5 L865.7,309.7 L865.9,309.9 L866.1,309.8 L866.3,309.7 L866.5,309.8 L866.7,310.0 L866.9,309.5 L867.1,309.9 L867.3,309.4 L867.5,309.6 L867.7,309.7 L867.9,309.4 L868.1,309.6 L868.3,309.7 L868.5,309.3 L868.7,309.5 L868.9,309.4 L869.1,309.1 L869.3,309.4 L869.5,309.3 L869.7,309.7 L869.9,309.2 L870.1,309.7 L870.3,309.3 L870.5,309.7 L870.7,309.4 L870.9,309.4 L871.1,309.4 L871.3,309.4 L871.5,309.5 L871.7,309.5 L871.9,309.1 L872.1,308.9 L872.3,308.6 L872.5,309.0 L872.7,309.2 L872.9,309.1 L873.1,309.0 L873.3,308.9 L873.5,308.8 L873.7,308.9 L873.9,309.0 L874.1,308.5 L874.3,309.0 L874.5,308.6 L874.7,308.8 L874.9,308.7 L875.1,308.7 L875.3,308.5 L875.5,308.5 L875.7,308.6 L875.9,308.5 L876.1,309.1 L876.3,308.5 L876.5,308.5 L876.7,308.5 L876.9,308.3 L877.1,308.0 L877.3,308.4 L877.5,308.5 L877.7,308.2 L877.9,308.4 L878.1,308.2 L878.3,308.4 L878.5,308.4 L878.7,308.5 L878.9,308.4 L879.1,308.2 L879.3,308.5 L879.5,308.2 L879.7,308.3 L879.9,308.4 L880.1,308.2 L880.3,307.9 L880.5,308.3 L880.7,307.9 L880.9,308.0 L881.1,307.9 L881.3,308.3 L881.5,308.0 L881.7,307.6 L881.9,308.2 L882.1,308.4 L882.3,308.4 L882.5,307.9 L882.7,308.0 L882.9,308.0 L883.1,308.1 L883.3,307.9 L883.5,307.7 L883.7,308.0 L883.9,308.0 L884.1,307.5 L884.3,307.7 L884.5,307.8 L884.7,307.8 L884.9,307.8 L885.1,307.9 L885.3,307.8 L885.5,307.7 L885.7,307.4 L885.9,307.8 L886.1,307.9 L886.3,308.0 L886.5,307.6 L886.7,307.5 L886.9,307.8 L887.1,307.8 L887.3,307.6 L887.5,307.6 L887.7,307.3 L887.9,307.6 L888.1,307.2 L888.3,307.4 L888.5,307.3 L888.7,307.3 L888.9,306.9 L889.1,307.1 L889.3,307.4 L889.5,307.3 L889.7,307.2 L889.9,307.3 L890.1,307.4 L890.3,307.4 L890.5,307.0 L890.7,307.2 L890.9,307.1 L891.1,306.9 L891.3,306.8 L891.5,307.1 L891.7,306.9 L891.9,307.5 L892.1,307.0 L892.3,306.9 L892.5,306.9 L892.7,307.3 L892.9,306.7 L893.1,306.9 L893.3,306.7 L893.5,306.8 L893.7,306.8 L893.9,307.1 L894.1,306.5 L894.3,306.8 L894.5,307.1 L894.7,306.6 L894.9,306.7 L895.1,306.5 L895.3,306.2 L895.5,306.6 L895.7,306.9 L895.9,306.5 L896.1,306.2 L896.3,306.6 L896.5,306.6 L896.7,306.7 L896.9,306.7 L897.1,306.5 L897.3,306.6 L897.5,306.1 L897.7,306.7 L897.9,306.5 L898.1,306.6 L898.3,306.6 L898.5,306.3 L898.7,306.3 L898.9,306.2 L899.1,305.9 L899.3,306.3 L899.5,306.3 L899.7,306.0 L899.9,306.4 L900.1,306.2 L900.3,306.3 L900.5,306.0 L900.7,305.8 L900.9,306.3 L901.1,306.2 L901.3,306.1 L901.5,306.0 L901.7,306.0 L901.9,306.0 L902.1,305.9 L902.3,305.6 L902.5,306.1 L902.7,305.6 L902.9,305.9 L903.1,305.9 L903.3,306.0 L903.5,305.6 L903.7,306.2 L903.9,306.2 L904.1,306.2 L904.3,306.4 L904.5,306.0 L904.7,305.6 L904.9,306.4 L905.1,306.6 L905.3,306.6 L905.5,306.3 L905.7,306.5 L905.9,306.6 L906.1,306.2 L906.3,306.5 L906.5,306.5 L906.7,307.0 L906.9,306.6 L907.1,307.0 L907.3,306.7 L907.5,306.3 L907.7,307.0 L907.9,306.3 L908.1,306.4 L908.3,306.5 L908.5,305.8 L908.7,305.4 L908.9,305.6 L909.1,305.0 L909.3,304.5 L909.5,304.2 L909.7,304.0 L909.9,304.1 L910.1,303.7 L910.3,303.9 L910.5,304.2 L910.7,304.4 L910.9,304.7 L911.1,305.0 L911.3,304.7 L911.5,305.6 L911.7,305.7 L911.9,305.9 L912.1,305.9 L912.3,306.0 L912.5,306.2 L912.7,306.6 L912.9,306.4 L913.1,306.5 L913.3,306.6 L913.5,306.9 L913.7,306.8 L913.9,307.0 L914.1,307.4 L914.3,307.3 L914.5,307.6 L914.7,307.5 L914.9,307.9 L915.1,308.1 L915.3,308.3 L915.5,308.3 L915.7,308.4 L915.9,308.7 L916.1,308.9 L916.3,309.4 L916.5,309.5 L916.7,309.3 L916.9,309.8 L917.1,309.8 L917.3,310.2 L917.5,310.2 L917.7,310.1 L917.9,310.8 L918.1,310.9 L918.3,310.7 L918.5,310.8 L918.7,311.2 L918.9,311.3 L919.1,311.6 L919.3,312.0 L919.5,312.4 L919.7,312.2 L919.9,312.7 L920.1,312.8 L920.3,312.7 L920.5,312.6 L920.7,313.3 L920.9,313.4 L921.1,313.9 L921.3,313.9 L921.5,313.8 L921.7,314.1 L921.9,313.5 L922.1,313.8 L922.3,313.6 L922.5,314.0 L922.7,313.7 L922.9,312.9 L923.1,313.5 L923.3,312.7 L923.5,312.2 L923.7,310.6 L923.9,308.3 L924.1,304.6 L924.3,299.2 L924.5,292.3 L924.7,285.4 L924.9,278.4 L925.1,273.5 L925.3,272.1 L925.5,274.1 L925.7,280.0 L925.9,286.9 L926.1,294.6 L926.3,301.4 L926.5,306.6 L926.7,310.4 L926.9,313.3 L927.1,315.0 L927.3,316.3 L927.5,316.8 L927.7,317.0 L927.9,317.7 L928.1,318.2 L928.3,318.5 L928.5,318.5 L928.7,318.4 L928.9,318.9 L929.1,318.6 L929.3,318.9 L929.5,318.5 L929.7,319.0 L929.9,318.7 L930.1,319.1 L930.3,319.3 L930.5,319.2 L930.7,318.7 L930.9,318.8 L931.1,318.8 L931.3,319.2 L931.5,319.1 L931.7,319.1 L931.9,319.1 L932.1,319.2 L932.3,319.2 L932.5,319.5 L932.7,319.1 L932.9,319.2 L933.1,318.8 L933.3,318.9 L933.5,319.1 L933.7,319.0 L933.9,319.3 L934.1,319.5 L934.3,319.2 L934.5,319.2 L934.7,319.2 L934.9,319.3 L935.1,319.2 L935.3,319.4 L935.5,319.4 L935.7,319.4 L935.9,319.5 L936.1,319.4 L936.3,319.4 L936.5,319.8 L936.7,319.4 L936.9,319.6 L937.1,319.5 L937.3,319.4 L937.5,319.4 L937.7,319.3 L937.9,319.5 L938.1,319.4 L938.3,319.5 L938.5,319.8 L938.7,319.5 L938.9,319.8 L939.1,319.6 L939.3,319.7 L939.5,319.3 L939.7,319.3 L939.9,319.7 L940.1,319.1 L940.3,318.8 L940.5,318.4 L940.7,318.2 L940.9,317.5 L941.1,317.3 L941.3,317.5 L941.5,317.6 L941.7,317.5 L941.9,317.9 L942.1,318.2 L942.3,318.6 L942.5,318.7 L942.7,318.9 L942.9,319.3 L943.1,319.0 L943.3,319.1 L943.5,319.0 L943.7,318.6 L943.9,318.5 L944.1,318.0 L944.3,317.8 L944.5,317.3 L944.7,317.3 L944.9,317.6 L945.1,317.8 L945.3,317.9 L945.5,318.5 L945.7,318.9 L945.9,319.4 L946.1,320.0 L946.3,319.9 L946.5,320.3 L946.7,320.5 L946.9,320.5 L947.1,320.4 L947.3,320.9 L947.5,320.8 L947.7,320.8 L947.9,320.9 L948.1,320.9 L948.3,320.7 L948.5,321.0 L948.7,320.6 L948.9,321.0 L949.1,320.7 L949.3,321.0 L949.5,321.2 L949.7,321.1 L949.9,321.1 L950.1,321.3 L950.3,321.2 L950.5,321.2 L950.7,321.2 L950.9,321.6 L951.1,321.5 L951.3,321.5 L951.5,321.2 L951.7,321.7 L951.9,321.5 L952.1,322.1 L952.3,322.0 L952.5,322.9 L952.7,322.4 L952.9,323.3 L953.1,323.4 L953.3,323.1 L953.5,323.4 L953.7,323.6 L953.9,323.3 L954.1,322.3 L954.3,321.8 L954.5,320.7 L954.7,319.3 L954.9,317.5 L955.1,315.6 L955.3,312.7 L955.5,310.0 L955.7,307.6 L955.9,306.1 L956.1,305.5 L956.3,305.7 L956.5,307.6 L956.7,309.2 L956.9,311.7 L957.1,314.2 L957.3,316.6 L957.5,318.3 L957.7,320.3 L957.9,322.3 L958.1,323.8 L958.3,325.4 L958.5,326.6 L958.7,327.5 L958.9,328.3 L959.1,328.9 L959.3,329.2 L959.5,329.8 L959.7,329.4 L959.9,330.0 L960.1,330.7 L960.3,330.7 L960.5,330.6 L960.7,330.9 L960.9,331.1 L961.1,330.8 L961.3,331.1 L961.5,330.9 L961.7,330.9 L961.9,330.9 L962.1,331.1 L962.3,330.7 L962.5,330.9 L962.7,331.1 L962.9,330.7 L963.1,330.6 L963.3,331.0 L963.5,330.9 L963.7,330.9 L963.9,330.9 L964.1,330.7 L964.3,331.5 L964.5,330.7 L964.7,330.8 L964.9,330.6 L965.1,330.8 L965.3,331.2 L965.5,330.9 L965.7,331.0 L965.9,330.8 L966.1,331.3 L966.3,330.9 L966.5,330.6 L966.7,331.0 L966.9,330.8 L967.1,331.0 L967.3,330.9 L967.5,330.9 L967.7,330.9 L967.9,330.7 L968.1,330.6 L968.3,331.1 L968.5,330.8 L968.7,330.9 L968.9,330.8 L969.1,330.5 L969.3,330.6 L969.5,331.1 L969.7,330.7 L969.9,330.8 L970.1,330.6 L970.3,330.7 L970.5,330.8 L970.7,330.8 L970.9,330.8 L971.1,330.7 L971.3,330.7 L971.5,330.8 L971.7,330.9 L971.9,330.8 L972.1,331.2 L972.3,330.9 L972.5,330.9 L972.7,330.7 L972.9,331.0 L973.1,330.6 L973.3,330.5 L973.5,330.6 L973.7,330.9 L973.9,330.6 L974.1,331.1 L974.3,330.8 L974.5,330.5 L974.7,330.7 L974.9,331.1 L975.1,330.6 L975.3,330.5 L975.5,330.9 L975.7,331.0 L975.9,331.0 L976.1,330.7 L976.3,330.8 L976.5,330.8 L976.7,331.0 L976.9,331.2 L977.1,330.8 L977.3,331.0 L977.5,330.7 L977.7,330.9 L977.9,330.6 L978.1,330.6 L978.3,330.9 L978.5,330.6 L978.7,331.0 L978.9,330.7 L979.1,330.8 L979.3,330.8 L979.5,330.7 L979.7,330.8 L979.9,331.0 L980.1,331.4 L980.3,330.5 L980.5,330.8 L980.7,330.7 L980.9,330.6 L981.1,330.8 L981.3,330.6 L981.5,330.8 L981.7,331.0 L981.9,330.4 L982.1,330.8 L982.3,330.9 L982.5,330.6 L982.7,330.9 L982.9,330.9 L983.1,330.7 L983.3,331.0 L983.5,330.5 L983.7,330.9 L983.9,330.7 L984.1,330.6 L984.3,330.7 L984.5,330.7 L984.7,330.9 L984.9,330.5 L985.1,330.7 L985.3,330.7 L985.5,331.1 L985.7,330.6 L985.9,331.0 L986.1,330.4 L986.3,330.8 L986.5,330.8 L986.7,330.9 L986.9,330.6 L987.1,330.4 L987.3,330.5 L987.5,331.0 L987.7,330.8 L987.9,330.6 L988.1,331.0 L988.3,330.6 L988.5,330.6 L988.7,330.5 L988.9,331.0 L989.1,331.2 L989.3,330.6 L989.5,330.8 L989.7,331.0 L989.9,331.2 L990.1,330.3 L990.3,330.8 L990.5,330.9 L990.7,330.5 L990.9,330.9 L991.1,330.8 L991.3,330.9 L991.5,330.7 L991.7,330.9 L991.9,330.7 L992.1,330.9 L992.3,330.8 L992.5,330.7 L992.7,330.5 L992.9,331.1 L993.1,331.0 L993.3,330.9 L993.5,330.6 L993.7,330.7 L993.9,331.1 L994.1,330.9 L994.3,330.6 L994.5,330.8 L994.7,330.8 L994.9,330.7 L995.1,330.6 L995.3,331.0 L995.5,330.9 L995.7,330.7 L995.9,330.5 L996.1,330.7 L996.3,330.8 L996.5,330.9 L996.7,330.7 L996.9,331.0 L997.1,330.8 L997.3,330.6 L997.5,330.2 L997.7,330.5 L997.9,330.5 L998.1,330.7 L998.3,330.8 L998.5,331.0 L998.7,330.8 L998.9,330.5 L999.1,331.2 L999.3,330.8 L999.5,330.7 L999.7,330.7 L999.9,330.5 L1000.1,330.9 L1000.3,330.8 L1000.5,331.1 L1000.7,331.0 L1000.9,330.9 L1001.1,331.0 L1001.3,330.7 L1001.5,330.7 L1001.7,330.7 L1001.9,330.5 L1002.1,330.7 L1002.3,330.7 L1002.5,330.9 L1002.7,330.7 L1002.9,330.4 L1003.1,330.7 L1003.3,331.0 L1003.5,330.4 L1003.7,330.6 L1003.9,330.7 L1004.1,330.4 L1004.3,330.6 L1004.5,330.7 L1004.7,330.3 L1004.9,330.6 L1005.1,330.5 L1005.3,330.0 L1005.5,330.1 L1005.7,330.0 L1005.9,329.5 L1006.1,329.2 L1006.3,328.9 L1006.5,328.3 L1006.7,328.2 L1006.9,327.7 L1007.1,327.2 L1007.3,327.3 L1007.5,327.2 L1007.7,327.1 L1007.9,326.8 L1008.1,326.9 L1008.3,327.0 L1008.5,326.6 L1008.7,326.6 L1008.9,326.5 L1009.1,326.1 L1009.3,326.2 L1009.5,326.2 L1009.7,326.8 L1009.9,327.0 L1010.1,327.5 L1010.3,328.2 L1010.5,328.8 L1010.7,329.5 L1010.9,330.0 L1011.1,330.1 L1011.3,330.6 L1011.5,331.0 L1011.7,331.2 L1011.9,331.3 L1012.1,331.8 L1012.3,331.6 L1012.5,331.4 L1012.7,331.6 L1012.9,331.8 L1013.1,331.6 L1013.3,331.2 L1013.5,331.6 L1013.7,331.6 L1013.9,332.0 L1014.1,331.3 L1014.3,332.0 L1014.5,331.6 L1014.7,331.9 L1014.9,331.7 L1015.1,331.8 L1015.3,332.0 L1015.5,331.8 L1015.7,332.0 L1015.9,331.8 L1016.1,331.7 L1016.3,331.8 L1016.5,331.8 L1016.7,331.9 L1016.9,332.2 L1017.1,331.7 L1017.3,331.6 L1017.5,331.9 L1017.7,332.3 L1017.9,332.2 L1018.1,332.3 L1018.3,332.3 L1018.5,331.9 L1018.7,332.1 L1018.9,331.5 L1019.1,332.0 L1019.3,332.2 L1019.5,331.8 L1019.7,331.7 L1019.9,331.9 L1020.1,332.2 L1020.3,332.4 L1020.5,332.7 L1020.7,332.5 L1020.9,331.9 L1021.1,331.8 L1021.3,332.3 L1021.5,332.5 L1021.7,332.0 L1021.9,332.2 L1022.1,332.2 L1022.3,332.4 L1022.5,332.3 L1022.7,332.5 L1022.9,332.6 L1023.1,332.4 L1023.3,332.6 L1023.5,332.8 L1023.7,332.3 L1023.9,332.3 L1024.1,332.6 L1024.3,332.9 L1024.5,332.6 L1024.7,332.8 L1024.9,332.5 L1025.1,332.8 L1025.4,332.5 L1025.6,332.7 L1025.8,332.7 L1026.0,332.7 L1026.2,332.9 L1026.4,332.9 L1026.6,332.6 L1026.8,332.9 L1027.0,332.4 L1027.2,332.9 L1027.4,333.3 L1027.6,332.8 L1027.8,332.9 L1028.0,332.8 L1028.2,332.9 L1028.4,332.7 L1028.6,332.9 L1028.8,332.7 L1029.0,332.7 L1029.2,332.8 L1029.4,332.7 L1029.6,332.2 L1029.8,332.7 L1030.0,331.9 L1030.2,330.8 L1030.4,330.4 L1030.6,328.8 L1030.8,327.1 L1031.0,325.2 L1031.2,322.9 L1031.4,320.9 L1031.6,320.4 L1031.8,320.2 L1032.0,321.1 L1032.2,322.2 L1032.4,324.2 L1032.6,326.3 L1032.8,328.1 L1033.0,329.7 L1033.2,331.1 L1033.4,331.7 L1033.6,332.8 L1033.8,332.6 L1034.0,333.0 L1034.2,333.0 L1034.4,333.0 L1034.6,333.3 L1034.8,333.4 L1035.0,333.6 L1035.2,333.4 L1035.4,333.2 L1035.6,333.5 L1035.8,333.0 L1036.0,333.3 L1036.2,333.4 L1036.4,333.5 L1036.6,333.1 L1036.8,333.1 L1037.0,333.7 L1037.2,333.3 L1037.4,333.0 L1037.6,333.1 L1037.8,333.4 L1038.0,333.6 L1038.2,333.4 L1038.4,333.6 L1038.6,333.5 L1038.8,333.5 L1039.0,333.6 L1039.2,333.3 L1039.4,333.5 L1039.6,333.4 L1039.8,333.3 L1040.0,333.6 L1040.2,333.3 L1040.4,333.5 L1040.6,333.3 L1040.8,333.4 L1041.0,333.4 L1041.2,333.7 L1041.4,333.5 L1041.6,333.5 L1041.8,333.8 L1042.0,332.9 L1042.2,333.3 L1042.4,333.0 L1042.6,333.5 L1042.8,333.6 L1043.0,333.6 L1043.2,333.6 L1043.4,333.3 L1043.6,333.9 L1043.8,333.6 L1044.0,333.5 L1044.2,333.3 L1044.4,333.6 L1044.6,333.5 L1044.8,333.5 L1045.0,333.6 L1045.2,333.6 L1045.4,333.4 L1045.6,333.8 L1045.8,333.4 L1046.0,333.4 L1046.2,333.6 L1046.4,333.6 L1046.6,333.6 L1046.8,333.5 L1047.0,333.6 L1047.2,333.5 L1047.4,333.3 L1047.6,333.8 L1047.8,333.4 L1048.0,333.6 L1048.2,333.8 L1048.4,333.6 L1048.6,334.2 L1048.8,333.4 L1049.0,333.5 L1049.2,333.7 L1049.4,333.9 L1049.6,333.6 L1049.8,333.4 L1050.0,333.9 L1050.2,333.5 L1050.4,333.6 L1050.6,333.9 L1050.8,333.6 L1051.0,333.6 L1051.2,333.8 L1051.4,333.7 L1051.6,333.8 L1051.8,333.5 L1052.0,333.7 L1052.2,333.5 L1052.4,333.4 L1052.6,334.1 L1052.8,333.8 L1053.0,333.9 L1053.2,333.5 L1053.4,333.7 L1053.6,333.7 L1053.8,333.5 L1054.0,333.9 L1054.2,333.6 L1054.4,333.7 L1054.6,333.5 L1054.8,334.0 L1055.0,333.9 L1055.2,333.9 L1055.4,333.6 L1055.6,333.7 L1055.8,334.0 L1056.0,333.8 L1056.2,333.9 L1056.4,333.8 L1056.6,333.6 L1056.8,334.1 L1057.0,333.4 L1057.2,333.9 L1057.4,333.8 L1057.6,333.5 L1057.8,333.9 L1058.0,334.0 L1058.2,333.9 L1058.4,333.7 L1058.6,334.0 L1058.8,334.1 L1059.0,333.9 L1059.2,334.2 L1059.4,334.1 L1059.6,334.0 L1059.8,334.2 L1060.0,333.8 L1060.2,333.8 L1060.4,334.0 L1060.6,334.0 L1060.8,334.2 L1061.0,334.1 L1061.2,333.9 L1061.4,333.9 L1061.6,333.8 L1061.8,333.8 L1062.0,333.8 L1062.2,334.0 L1062.4,333.8 L1062.6,333.8 L1062.8,333.9 L1063.0,333.7 L1063.2,333.8 L1063.4,333.4 L1063.6,333.9 L1063.8,333.8 L1064.0,333.9 L1064.2,333.9 L1064.4,333.5 L1064.6,334.3 L1064.8,333.9 L1065.0,333.9 L1065.2,333.5 L1065.4,333.9 L1065.6,333.9 L1065.8,333.7 L1066.0,333.9 L1066.2,334.1 L1066.4,333.7 L1066.6,333.6 L1066.8,334.1 L1067.0,333.9 L1067.2,333.8 L1067.4,334.3 L1067.6,333.8 L1067.8,333.8 L1068.0,333.8 L1068.2,333.7 L1068.4,333.8 L1068.6,333.8 L1068.8,333.6 L1069.0,333.7 L1069.2,333.8 L1069.4,333.8 L1069.6,333.9 L1069.8,333.9 L1070.0,333.8 L1070.2,333.8 L1070.4,333.7 L1070.6,333.7 L1070.8,333.9 L1071.0,333.3 L1071.2,333.8 L1071.4,334.4 L1071.6,333.3 L1071.8,334.0 L1072.0,333.4 L1072.2,333.8 L1072.4,334.0 L1072.6,334.0 L1072.8,333.5 L1073.0,333.4 L1073.2,333.4 L1073.4,333.8 L1073.6,333.6 L1073.8,333.7 L1074.0,333.7 L1074.2,333.7 L1074.4,333.8 L1074.6,333.7 L1074.8,333.3 L1075.0,333.9 L1075.2,333.1 L1075.4,333.9 L1075.6,333.5 L1075.8,333.6 L1076.0,333.5 L1076.2,333.5 L1076.4,333.6 L1076.6,333.6 L1076.8,333.4 L1077.0,333.8 L1077.2,333.5 L1077.4,333.9 L1077.6,333.6 L1077.8,333.4 L1078.0,333.7 L1078.2,333.8 L1078.4,333.4 L1078.6,333.5 L1078.8,333.9 L1079.0,333.4 L1079.2,333.4 L1079.4,333.6 L1079.6,333.3 L1079.8,333.1 L1080.0,333.2 L1080.2,333.6 L1080.4,333.7 L1080.6,333.7 L1080.8,333.6 L1081.0,333.3 L1081.2,333.7 L1081.4,333.8 L1081.6,333.4 L1081.8,333.7 L1082.0,333.4 L1082.2,333.5 L1082.4,333.6 L1082.6,333.2 L1082.8,333.8 L1083.0,333.3 L1083.2,333.5 L1083.4,333.4 L1083.6,333.6 L1083.8,333.6 L1084.0,333.5 L1084.2,333.8 L1084.4,333.5 L1084.6,333.4 L1084.8,332.9 L1085.0,333.4 L1085.2,333.4 L1085.4,333.3 L1085.6,333.3 L1085.8,333.6 L1086.0,333.7 L1086.2,333.8 L1086.4,333.7 L1086.6,333.3 L1086.8,333.5 L1087.0,333.2 L1087.2,333.6 L1087.4,333.5 L1087.6,333.3 L1087.8,333.4 L1088.0,333.4 L1088.2,333.3 L1088.4,333.7 L1088.6,334.0 L1088.8,333.6 L1089.0,333.6 L1089.2,333.4 L1089.4,333.3 L1089.6,333.8 L1089.8,333.3 L1090.0,333.5 L1090.2,333.4 L1090.4,333.5 L1090.6,333.4 L1090.8,333.5 L1091.0,333.2 L1091.2,333.4 L1091.4,333.7 L1091.6,333.2 L1091.8,333.3 L1092.0,333.7 L1092.2,333.5 L1092.4,333.6 L1092.6,333.0 L1092.8,333.4 L1093.0,333.2 L1093.2,333.1 L1093.4,333.5 L1093.6,333.7 L1093.8,333.1 L1094.0,333.2 L1094.2,333.3 L1094.4,333.4 L1094.6,333.2 L1094.8,333.9 L1095.0,333.5 L1095.2,333.4 L1095.4,333.3 L1095.6,333.9 L1095.8,333.9 L1096.0,333.3 L1096.2,333.5 L1096.4,333.7 L1096.6,333.2 L1096.8,333.3 L1097.0,333.7 L1097.2,333.3 L1097.4,333.3 L1097.6,333.2 L1097.8,333.3 L1098.0,333.6 L1098.2,333.3 L1098.4,333.2 L1098.6,333.3 L1098.8,333.8 L1099.0,333.5 L1099.2,333.3 L1099.4,333.5 L1099.6,333.5 L1099.8,333.4 L1100.0,333.1 L1100.2,333.5 L1100.4,333.4 L1100.6,333.6 L1100.8,333.1 L1101.0,333.6 L1101.2,333.2 L1101.4,332.9 L1101.6,333.4 L1101.8,332.8 L1102.0,332.7 L1102.2,332.3 L1102.4,332.1 L1102.6,331.7 L1102.8,331.3 L1103.0,330.9 L1103.2,330.3 L1103.4,330.4 L1103.6,331.0 L1103.8,331.2 L1104.0,331.9 L1104.2,332.2 L1104.4,332.3 L1104.6,332.7 L1104.8,332.9 L1105.0,333.0 L1105.2,333.3 L1105.4,333.5 L1105.6,333.7 L1105.8,333.2 L1106.0,333.3 L1106.2,333.7 L1106.4,333.6 L1106.6,333.5 L1106.8,333.0 L1107.0,333.2 L1107.2,333.5 L1107.4,333.3 L1107.6,333.8 L1107.8,333.5 L1108.0,333.5 L1108.2,333.2 L1108.4,333.2 L1108.6,333.3 L1108.8,333.3 L1109.0,333.4 L1109.2,333.5 L1109.4,333.5 L1109.6,333.7 L1109.8,333.2 L1110.0,333.5 L1110.2,333.5 L1110.4,333.8 L1110.6,333.4 L1110.8,333.5 L1111.0,333.3 L1111.2,333.5 L1111.4,333.5 L1111.6,333.3 L1111.8,333.4 L1112.0,333.5 L1112.2,333.6 L1112.4,333.2 L1112.6,333.6 L1112.8,333.4 L1113.0,333.9 L1113.2,333.8 L1113.4,333.4 L1113.6,333.3 L1113.8,334.0 L1114.0,333.6 L1114.2,333.6 L1114.4,333.4 L1114.6,333.4 L1114.8,333.6 L1115.0,333.6 L1115.2,333.3 L1115.4,333.7 L1115.6,333.5 L1115.8,333.3 L1116.0,333.7 L1116.2,333.4 L1116.4,333.6 L1116.6,333.4 L1116.8,333.6 L1117.0,333.2 L1117.2,333.6 L1117.4,333.2 L1117.6,333.5 L1117.8,333.0 L1118.0,333.5 L1118.2,333.6 L1118.4,333.6 L1118.6,333.7 L1118.8,333.3 L1119.0,333.8 L1119.2,333.8 L1119.4,333.2 L1119.6,333.3 L1119.8,333.4 L1120.0,333.5 L1120.2,333.5 L1120.4,333.0 L1120.6,333.6 L1120.8,333.4 L1121.0,333.2 L1121.2,333.6 L1121.4,333.2 L1121.6,333.4 L1121.8,333.1 L1122.0,332.6 L1122.2,332.7 L1122.4,332.3 L1122.6,331.7 L1122.8,331.3 L1123.0,331.5 L1123.2,331.8 L1123.4,331.8 L1123.6,332.5 L1123.8,332.5 L1124.0,332.8 L1124.2,333.1 L1124.4,333.1 L1124.6,333.4 L1124.8,333.4 L1125.0,333.1 L1125.2,333.3 L1125.4,333.8 L1125.6,333.6 L1125.8,333.7 L1126.0,333.4 L1126.2,333.6 L1126.4,333.9 L1126.6,333.8 L1126.8,333.6 L1127.0,334.1 L1127.2,333.8 L1127.4,333.7 L1127.6,334.0 L1127.8,333.4 L1128.0,333.9 L1128.2,333.6 L1128.4,333.7 L1128.6,333.7 L1128.8,333.9 L1129.0,333.9 L1129.2,333.9 L1129.4,333.9 L1129.6,334.2 L1129.8,334.2 L1130.0,334.0 L1130.2,334.1 L1130.4,333.8 L1130.6,333.7 L1130.8,334.1 L1131.0,334.0 L1131.2,334.1 L1131.4,333.6 L1131.6,334.5 L1131.8,333.7 L1132.0,334.0 L1132.2,334.3 L1132.4,333.8 L1132.6,334.1 L1132.8,333.8 L1133.0,334.0 L1133.2,333.9 L1133.4,334.4 L1133.6,334.5 L1133.8,334.4 L1134.0,334.8 L1134.2,334.9 L1134.4,334.7 L1134.6,334.7 L1134.8,334.7 L1135.0,334.7 L1135.2,335.2 L1135.4,335.0 L1135.6,334.9 L1135.8,335.0 L1136.0,335.2 L1136.2,335.1 L1136.4,335.3 L1136.6,335.2 L1136.8,335.5 L1137.0,335.4 L1137.2,334.7 L1137.4,334.8 L1137.6,334.7 L1137.8,334.1 L1138.0,333.9 L1138.2,333.5 L1138.4,333.2 L1138.6,332.9 L1138.8,333.0 L1139.0,333.3 L1139.2,333.3 L1139.4,334.0 L1139.6,334.5 L1139.8,335.5 L1140.0,335.6 L1140.2,335.9 L1140.4,336.1 L1140.6,336.2 L1140.8,336.3 L1141.0,336.7 L1141.2,336.5 L1141.4,336.9 L1141.6,336.6 L1141.8,336.6 L1142.0,336.5 L1142.2,336.4 L1142.4,336.4 L1142.6,336.7 L1142.8,336.8 L1143.0,336.0 L1143.2,336.3 L1143.4,336.3 L1143.6,335.9 L1143.8,335.9 L1144.0,335.9 L1144.2,335.5 L1144.4,336.0 L1144.6,335.8 L1144.8,335.8 L1145.0,335.9 L1145.2,335.9 L1145.4,336.4 L1145.6,336.1 L1145.8,336.4 L1146.0,336.3 L1146.2,336.6 L1146.4,336.6 L1146.6,336.8 L1146.8,336.8 L1147.0,337.0 L1147.2,337.4 L1147.4,337.6 L1147.6,337.7 L1147.8,337.6 L1148.0,338.0 L1148.2,337.5 L1148.4,338.4 L1148.6,338.3 L1148.8,338.4 L1149.0,338.6 L1149.2,338.3 L1149.4,338.6 L1149.6,338.3 L1149.8,338.5 L1150.0,338.3 L1150.2,338.4 L1150.4,338.6 L1150.6,338.1 L1150.8,338.1 L1151.0,338.2 L1151.2,338.3 L1151.4,338.7 L1151.6,338.0 L1151.8,337.7 L1152.0,338.0 L1152.2,337.8 L1152.4,337.9 L1152.6,338.0 L1152.8,337.8 L1153.0,337.8 L1153.2,337.6 L1153.4,338.0 L1153.6,337.8 L1153.8,338.1 L1154.0,338.1 L1154.2,337.7 L1154.4,337.7 L1154.6,337.8 L1154.8,338.0 L1155.0,337.5 L1155.2,337.8" fill="none" stroke="#ff0a80" stroke-width="2.4" stroke-linejoin="round"/>
<path d="M635.2,361.9 L635.4,362.1 L635.6,362.0 L635.8,362.0 L636.0,362.2 L636.2,361.6 L636.4,361.7 L636.6,361.6 L636.8,361.8 L637.0,362.0 L637.2,361.8 L637.4,361.9 L637.6,361.4 L637.8,361.8 L638.0,361.6 L638.2,362.1 L638.4,361.9 L638.6,361.9 L638.8,361.7 L639.0,361.8 L639.2,361.8 L639.4,361.6 L639.6,361.6 L639.8,361.7 L640.0,361.6 L640.2,361.5 L640.4,361.6 L640.6,361.5 L640.8,361.8 L641.0,361.3 L641.2,361.8 L641.4,361.5 L641.6,361.5 L641.8,361.3 L642.0,361.5 L642.2,361.5 L642.4,361.6 L642.6,361.4 L642.8,361.5 L643.0,361.9 L643.2,361.6 L643.4,361.4 L643.6,361.7 L643.8,361.4 L644.0,361.6 L644.2,361.6 L644.4,361.4 L644.6,361.0 L644.8,361.4 L645.0,361.5 L645.2,361.3 L645.4,361.5 L645.6,361.6 L645.8,361.3 L646.0,361.6 L646.2,361.7 L646.4,361.6 L646.6,361.6 L646.8,361.5 L647.0,361.8 L647.2,361.3 L647.4,361.3 L647.6,361.4 L647.8,361.1 L648.0,360.9 L648.2,361.1 L648.4,361.3 L648.6,361.3 L648.8,360.9 L649.0,360.8 L649.2,361.1 L649.4,361.1 L649.6,361.2 L649.8,361.3 L650.0,361.4 L650.2,361.2 L650.4,361.3 L650.6,360.9 L650.8,360.9 L651.0,361.1 L651.2,361.2 L651.4,361.2 L651.6,361.2 L651.8,361.2 L652.0,361.2 L652.2,360.7 L652.4,360.9 L652.6,361.1 L652.8,361.1 L653.0,360.7 L653.2,361.2 L653.4,360.9 L653.6,360.9 L653.8,361.0 L654.0,361.1 L654.2,360.7 L654.4,361.1 L654.6,360.9 L654.8,360.8 L655.0,360.8 L655.2,360.5 L655.4,360.7 L655.6,360.9 L655.8,360.7 L656.0,360.8 L656.2,360.8 L656.4,360.8 L656.6,361.0 L656.8,360.8 L657.0,360.7 L657.2,360.9 L657.4,361.2 L657.6,360.7 L657.8,360.9 L658.0,360.4 L658.2,361.0 L658.4,360.9 L658.6,361.0 L658.8,360.7 L659.0,360.5 L659.2,360.9 L659.4,360.8 L659.6,360.5 L659.8,360.4 L660.0,360.7 L660.2,360.6 L660.4,361.1 L660.6,360.5 L660.8,360.5 L661.0,360.6 L661.2,360.3 L661.4,360.4 L661.6,360.9 L661.8,360.5 L662.0,360.4 L662.2,360.3 L662.4,360.6 L662.6,360.6 L662.8,360.6 L663.0,360.4 L663.2,360.5 L663.4,360.6 L663.6,360.3 L663.8,360.6 L664.0,360.0 L664.2,360.2 L664.4,360.4 L664.6,360.4 L664.8,360.2 L665.0,360.5 L665.2,360.6 L665.4,360.5 L665.6,360.4 L665.8,360.5 L666.0,360.4 L666.2,360.1 L666.4,360.3 L666.6,360.6 L666.8,360.1 L667.0,360.3 L667.2,360.2 L667.4,360.1 L667.6,360.1 L667.8,360.3 L668.0,360.3 L668.2,360.3 L668.4,359.9 L668.6,360.1 L668.8,360.3 L669.0,360.4 L669.2,360.3 L669.4,360.3 L669.6,360.4 L669.8,360.3 L670.0,360.0 L670.2,360.1 L670.4,360.0 L670.6,359.6 L670.8,359.7 L671.0,360.5 L671.2,359.9 L671.4,359.7 L671.6,360.0 L671.8,360.5 L672.0,360.2 L672.2,360.3 L672.4,360.1 L672.6,360.1 L672.8,360.4 L673.0,360.2 L673.2,360.0 L673.4,360.2 L673.6,360.1 L673.8,359.8 L674.0,359.8 L674.2,359.7 L674.4,359.4 L674.6,359.7 L674.8,359.4 L675.0,359.2 L675.2,359.0 L675.4,359.0 L675.6,359.6 L675.8,359.1 L676.0,359.5 L676.2,359.4 L676.4,359.7 L676.6,359.9 L676.8,359.8 L677.0,360.1 L677.2,360.3 L677.4,360.5 L677.6,360.7 L677.8,360.8 L678.0,361.2 L678.2,361.5 L678.4,361.5 L678.6,361.4 L678.8,361.8 L679.0,361.8 L679.2,362.0 L679.4,362.4 L679.6,362.1 L679.8,362.2 L680.0,362.1 L680.2,362.3 L680.4,362.4 L680.6,362.9 L680.8,362.7 L681.0,362.6 L681.2,363.1 L681.4,362.5 L681.6,363.0 L681.8,363.1 L682.0,363.1 L682.2,363.0 L682.4,363.1 L682.6,363.1 L682.8,363.4 L683.0,362.8 L683.2,363.2 L683.4,363.4 L683.6,363.3 L683.8,363.2 L684.0,363.5 L684.2,363.5 L684.4,363.9 L684.6,364.0 L684.8,363.8 L685.0,363.5 L685.2,363.9 L685.4,363.8 L685.6,364.2 L685.8,364.5 L686.0,364.2 L686.2,364.6 L686.4,364.6 L686.6,364.5 L686.8,364.2 L687.0,364.4 L687.2,364.1 L687.4,364.6 L687.6,364.3 L687.8,364.5 L688.0,364.2 L688.2,363.7 L688.4,364.1 L688.6,364.1 L688.8,364.1 L689.0,363.5 L689.2,363.5 L689.4,363.6 L689.6,363.3 L689.8,363.1 L690.0,363.1 L690.2,363.7 L690.4,363.0 L690.6,362.8 L690.8,362.9 L691.0,362.9 L691.2,363.1 L691.4,363.0 L691.6,363.0 L691.8,362.9 L692.0,363.0 L692.2,362.9 L692.4,362.8 L692.6,363.5 L692.8,363.1 L693.0,363.5 L693.2,363.3 L693.4,363.4 L693.6,363.5 L693.8,363.3 L694.0,363.6 L694.2,363.8 L694.4,363.9 L694.6,363.9 L694.8,364.1 L695.0,364.0 L695.2,364.0 L695.4,363.7 L695.6,364.1 L695.8,364.6 L696.0,364.3 L696.2,364.5 L696.4,364.4 L696.6,364.3 L696.8,364.9 L697.0,364.5 L697.2,364.8 L697.4,364.6 L697.6,364.4 L697.8,364.0 L698.0,364.4 L698.2,364.1 L698.4,363.9 L698.6,364.6 L698.8,364.5 L699.0,364.5 L699.2,364.3 L699.4,364.3 L699.6,364.4 L699.8,364.3 L700.0,364.3 L700.2,364.4 L700.4,363.8 L700.6,364.4 L700.8,364.1 L701.0,364.4 L701.2,364.4 L701.4,364.0 L701.6,364.3 L701.8,364.3 L702.0,364.0 L702.2,364.0 L702.4,364.1 L702.6,363.6 L702.8,364.0 L703.0,364.1 L703.2,364.0 L703.4,363.7 L703.6,363.9 L703.8,364.3 L704.0,364.3 L704.2,363.9 L704.4,363.8 L704.6,363.9 L704.8,363.9 L705.0,363.8 L705.2,363.8 L705.4,364.0 L705.6,364.1 L705.8,363.4 L706.0,364.0 L706.2,363.9 L706.4,364.0 L706.6,363.8 L706.8,363.9 L707.0,364.1 L707.2,363.2 L707.4,364.1 L707.6,363.8 L707.8,363.4 L708.0,363.2 L708.2,363.8 L708.4,363.5 L708.6,363.9 L708.8,363.7 L709.0,363.6 L709.2,363.8 L709.4,363.6 L709.6,363.7 L709.8,363.7 L710.0,363.6 L710.2,363.7 L710.4,363.7 L710.6,363.3 L710.8,363.5 L711.0,363.5 L711.2,363.4 L711.4,363.2 L711.6,363.3 L711.8,363.5 L712.0,363.5 L712.2,363.7 L712.4,363.3 L712.6,363.3 L712.8,363.3 L713.0,363.3 L713.2,363.2 L713.4,363.0 L713.6,363.4 L713.8,363.5 L714.0,363.5 L714.2,363.1 L714.4,363.2 L714.6,363.6 L714.8,363.2 L715.0,363.3 L715.2,363.2 L715.4,363.4 L715.6,363.4 L715.8,363.6 L716.0,363.2 L716.2,363.2 L716.4,362.9 L716.6,363.0 L716.8,363.0 L717.0,363.0 L717.2,362.8 L717.4,363.3 L717.6,362.8 L717.8,363.1 L718.0,362.8 L718.2,363.1 L718.4,363.3 L718.6,362.8 L718.8,363.0 L719.0,362.9 L719.2,363.0 L719.4,363.0 L719.6,362.8 L719.8,362.8 L720.0,362.8 L720.2,362.7 L720.4,362.6 L720.6,363.0 L720.8,362.7 L721.0,362.9 L721.2,362.9 L721.4,362.6 L721.6,363.0 L721.8,362.6 L722.0,362.9 L722.2,363.0 L722.4,362.6 L722.6,362.6 L722.8,362.6 L723.0,363.3 L723.2,362.8 L723.4,362.7 L723.6,363.1 L723.8,363.0 L724.0,363.1 L724.2,362.9 L724.4,362.7 L724.6,363.1 L724.8,363.1 L725.0,363.0 L725.2,363.2 L725.4,363.2 L725.6,363.6 L725.8,363.7 L726.0,363.7 L726.2,363.5 L726.4,363.4 L726.6,363.8 L726.8,363.9 L727.0,364.0 L727.2,363.9 L727.4,363.9 L727.6,364.0 L727.8,363.8 L728.0,363.8 L728.2,364.1 L728.4,363.7 L728.6,363.9 L728.8,364.0 L729.0,363.9 L729.2,363.8 L729.4,363.3 L729.6,363.3 L729.8,363.0 L730.0,362.9 L730.2,362.5 L730.4,362.0 L730.6,361.9 L730.8,361.1 L731.0,360.5 L731.2,360.0 L731.4,359.7 L731.6,359.3 L731.8,359.5 L732.0,359.2 L732.2,359.1 L732.4,359.2 L732.6,359.5 L732.8,360.1 L733.0,360.9 L733.2,361.3 L733.4,361.7 L733.6,362.3 L733.8,362.4 L734.0,363.4 L734.2,363.6 L734.4,364.3 L734.6,364.3 L734.8,364.4 L735.0,364.8 L735.2,364.8 L735.4,365.4 L735.6,365.4 L735.8,365.6 L736.0,365.8 L736.2,365.9 L736.4,366.3 L736.6,366.5 L736.8,367.0 L737.0,366.9 L737.2,367.2 L737.4,367.3 L737.6,367.5 L737.8,367.8 L738.0,368.3 L738.2,368.1 L738.4,368.4 L738.6,368.2 L738.8,368.2 L739.0,367.9 L739.2,368.5 L739.4,368.8 L739.6,368.3 L739.8,368.7 L740.0,368.5 L740.2,368.2 L740.4,368.5 L740.6,368.2 L740.8,368.4 L741.0,368.7 L741.2,368.5 L741.4,368.2 L741.6,368.7 L741.8,368.2 L742.0,368.4 L742.2,368.4 L742.4,368.5 L742.6,368.3 L742.8,368.2 L743.0,368.9 L743.2,368.3 L743.4,368.4 L743.6,368.1 L743.8,368.6 L744.0,368.8 L744.2,368.8 L744.4,369.1 L744.6,368.9 L744.8,368.7 L745.0,368.6 L745.2,368.9 L745.4,368.6 L745.6,368.7 L745.8,368.4 L746.0,368.7 L746.2,369.0 L746.4,368.6 L746.6,368.8 L746.8,368.2 L747.0,369.0 L747.2,368.8 L747.4,369.0 L747.6,368.8 L747.8,368.6 L748.0,368.5 L748.2,368.8 L748.4,368.7 L748.6,368.6 L748.8,368.7 L749.0,368.6 L749.2,368.9 L749.4,368.7 L749.6,368.5 L749.8,368.8 L750.0,368.7 L750.2,369.1 L750.4,368.7 L750.6,368.5 L750.8,368.7 L751.0,368.7 L751.2,368.8 L751.4,368.7 L751.6,368.5 L751.8,368.7 L752.0,368.6 L752.2,368.4 L752.4,368.5 L752.6,368.7 L752.8,368.3 L753.0,368.4 L753.2,368.5 L753.4,368.5 L753.6,368.6 L753.8,368.3 L754.0,368.6 L754.2,368.6 L754.4,368.8 L754.6,368.4 L754.8,368.3 L755.0,368.1 L755.2,368.5 L755.4,368.7 L755.6,368.3 L755.8,368.5 L756.0,368.5 L756.2,368.6 L756.4,368.3 L756.6,368.5 L756.8,368.3 L757.0,368.1 L757.2,368.4 L757.4,368.4 L757.6,368.1 L757.8,368.4 L758.0,368.7 L758.2,367.9 L758.4,368.4 L758.6,368.4 L758.8,368.2 L759.0,368.3 L759.2,368.1 L759.4,368.4 L759.6,368.0 L759.8,368.1 L760.0,367.7 L760.2,368.2 L760.4,368.2 L760.6,367.7 L760.8,367.9 L761.0,368.1 L761.2,367.9 L761.4,367.8 L761.6,367.5 L761.8,368.1 L762.0,368.4 L762.2,367.9 L762.4,368.0 L762.6,368.0 L762.8,367.9 L763.0,367.9 L763.2,367.9 L763.4,367.7 L763.6,368.4 L763.8,368.4 L764.0,367.9 L764.2,368.2 L764.4,367.7 L764.6,367.8 L764.8,368.0 L765.0,367.5 L765.3,367.5 L765.5,367.8 L765.7,367.3 L765.9,368.1 L766.1,367.9 L766.3,367.7 L766.5,367.8 L766.7,367.5 L766.9,367.5 L767.1,367.8 L767.3,367.8 L767.5,367.6 L767.7,367.6 L767.9,367.5 L768.1,367.9 L768.3,367.3 L768.5,367.4 L768.7,367.4 L768.9,367.2 L769.1,367.2 L769.3,367.3 L769.5,367.7 L769.7,367.8 L769.9,367.5 L770.1,367.1 L770.3,367.3 L770.5,367.4 L770.7,367.4 L770.9,367.3 L771.1,367.5 L771.3,367.0 L771.5,367.2 L771.7,367.4 L771.9,367.5 L772.1,367.4 L772.3,367.3 L772.5,367.3 L772.7,367.1 L772.9,367.3 L773.1,367.2 L773.3,367.1 L773.5,367.5 L773.7,367.4 L773.9,367.1 L774.1,367.3 L774.3,367.4 L774.5,367.2 L774.7,367.2 L774.9,367.2 L775.1,366.8 L775.3,366.8 L775.5,367.2 L775.7,367.1 L775.9,367.3 L776.1,367.0 L776.3,367.3 L776.5,367.2 L776.7,367.4 L776.9,366.8 L777.1,366.9 L777.3,367.0 L777.5,367.0 L777.7,366.7 L777.9,366.8 L778.1,366.7 L778.3,367.4 L778.5,366.9 L778.7,366.9 L778.9,366.7 L779.1,366.9 L779.3,367.0 L779.5,366.8 L779.7,366.8 L779.9,367.2 L780.1,367.0 L780.3,366.8 L780.5,366.7 L780.7,366.7 L780.9,366.6 L781.1,366.8 L781.3,366.6 L781.5,366.5 L781.7,366.6 L781.9,366.4 L782.1,366.7 L782.3,367.1 L782.5,366.5 L782.7,366.3 L782.9,366.8 L783.1,366.6 L783.3,367.0 L783.5,366.6 L783.7,366.7 L783.9,366.4 L784.1,366.2 L784.3,366.5 L784.5,366.6 L784.7,366.3 L784.9,366.1 L785.1,366.3 L785.3,366.3 L785.5,366.3 L785.7,366.4 L785.9,366.9 L786.1,366.4 L786.3,366.2 L786.5,366.1 L786.7,366.5 L786.9,366.0 L787.1,366.6 L787.3,366.3 L787.5,366.0 L787.7,366.3 L787.9,366.2 L788.1,366.5 L788.3,365.9 L788.5,366.2 L788.7,366.2 L788.9,366.4 L789.1,365.9 L789.3,366.0 L789.5,366.5 L789.7,366.2 L789.9,365.8 L790.1,366.2 L790.3,365.9 L790.5,365.9 L790.7,365.8 L790.9,366.2 L791.1,365.9 L791.3,366.0 L791.5,366.0 L791.7,365.7 L791.9,365.8 L792.1,366.1 L792.3,365.6 L792.5,366.0 L792.7,365.9 L792.9,366.0 L793.1,366.0 L793.3,366.0 L793.5,365.9 L793.7,365.9 L793.9,365.7 L794.1,365.7 L794.3,366.0 L794.5,365.7 L794.7,366.0 L794.9,366.0 L795.1,365.6 L795.3,365.9 L795.5,365.6 L795.7,365.8 L795.9,365.5 L796.1,365.8 L796.3,365.7 L796.5,365.5 L796.7,366.1 L796.9,365.8 L797.1,365.3 L797.3,365.7 L797.5,365.5 L797.7,366.0 L797.9,365.6 L798.1,365.6 L798.3,365.5 L798.5,365.7 L798.7,365.4 L798.9,365.3 L799.1,365.4 L799.3,365.4 L799.5,365.6 L799.7,365.5 L799.9,365.3 L800.1,365.3 L800.3,365.2 L800.5,365.4 L800.7,365.0 L800.9,365.3 L801.1,365.6 L801.3,365.3 L801.5,365.2 L801.7,365.3 L801.9,365.1 L802.1,365.1 L802.3,365.4 L802.5,365.1 L802.7,365.6 L802.9,365.3 L803.1,365.1 L803.3,365.0 L803.5,365.1 L803.7,364.6 L803.9,365.1 L804.1,365.2 L804.3,365.1 L804.5,364.9 L804.7,365.1 L804.9,365.1 L805.1,364.9 L805.3,365.0 L805.5,365.1 L805.7,365.0 L805.9,364.8 L806.1,364.8 L806.3,364.8 L806.5,364.5 L806.7,364.8 L806.9,364.7 L807.1,364.3 L807.3,364.3 L807.5,365.0 L807.7,364.7 L807.9,364.9 L808.1,364.5 L808.3,364.9 L808.5,364.7 L808.7,364.4 L808.9,364.5 L809.1,364.8 L809.3,364.9 L809.5,364.5 L809.7,364.3 L809.9,364.2 L810.1,364.5 L810.3,364.5 L810.5,364.3 L810.7,364.3 L810.9,364.4 L811.1,364.3 L811.3,364.3 L811.5,363.9 L811.7,364.1 L811.9,364.5 L812.1,364.1 L812.3,364.6 L812.5,364.2 L812.7,364.0 L812.9,364.1 L813.1,364.1 L813.3,363.8 L813.5,364.0 L813.7,363.9 L813.9,364.2 L814.1,363.8 L814.3,363.9 L814.5,363.5 L814.7,363.5 L814.9,363.8 L815.1,363.6 L815.3,363.7 L815.5,363.8 L815.7,363.8 L815.9,363.4 L816.1,363.6 L816.3,363.8 L816.5,363.5 L816.7,363.3 L816.9,363.4 L817.1,363.9 L817.3,363.5 L817.5,363.8 L817.7,363.4 L817.9,363.7 L818.1,363.1 L818.3,363.3 L818.5,363.4 L818.7,363.7 L818.9,363.4 L819.1,363.5 L819.3,363.2 L819.5,363.2 L819.7,363.5 L819.9,363.5 L820.1,363.4 L820.3,363.4 L820.5,363.0 L820.7,363.5 L820.9,363.1 L821.1,363.3 L821.3,363.2 L821.5,362.7 L821.7,362.6 L821.9,362.6 L822.1,362.9 L822.3,363.1 L822.5,362.8 L822.7,363.0 L822.9,362.6 L823.1,362.7 L823.3,362.6 L823.5,362.7 L823.7,362.4 L823.9,362.6 L824.1,362.6 L824.3,362.3 L824.5,362.1 L824.7,362.0 L824.9,361.7 L825.1,361.5 L825.3,361.7 L825.5,361.4 L825.7,360.9 L825.9,361.0 L826.1,361.1 L826.3,361.2 L826.5,361.2 L826.7,361.3 L826.9,361.2 L827.1,361.4 L827.3,361.5 L827.5,361.9 L827.7,362.0 L827.9,362.4 L828.1,362.3 L828.3,362.0 L828.5,362.0 L828.7,362.0 L828.9,362.2 L829.1,362.5 L829.3,362.1 L829.5,362.0 L829.7,362.3 L829.9,362.5 L830.1,362.5 L830.3,362.7 L830.5,362.4 L830.7,362.2 L830.9,362.3 L831.1,362.1 L831.3,362.2 L831.5,362.6 L831.7,362.8 L831.9,362.6 L832.1,362.4 L832.3,362.3 L832.5,362.4 L832.7,361.9 L832.9,362.4 L833.1,362.4 L833.3,362.3 L833.5,362.3 L833.7,361.9 L833.9,362.4 L834.1,362.4 L834.3,361.7 L834.5,362.1 L834.7,362.3 L834.9,362.6 L835.1,362.1 L835.3,362.2 L835.5,362.5 L835.7,362.3 L835.9,362.2 L836.1,362.1 L836.3,362.2 L836.5,362.0 L836.7,362.4 L836.9,362.0 L837.1,362.3 L837.3,362.4 L837.5,362.4 L837.7,362.2 L837.9,362.2 L838.1,362.2 L838.3,362.2 L838.5,362.4 L838.7,362.1 L838.9,362.5 L839.1,362.7 L839.3,362.0 L839.5,362.2 L839.7,361.9 L839.9,362.3 L840.1,362.2 L840.3,362.1 L840.5,361.9 L840.7,362.1 L840.9,362.5 L841.1,362.4 L841.3,362.1 L841.5,361.9 L841.7,361.9 L841.9,361.7 L842.1,361.5 L842.3,361.4 L842.5,361.6 L842.7,361.3 L842.9,361.0 L843.1,360.4 L843.3,360.0 L843.5,360.2 L843.7,359.6 L843.9,359.6 L844.1,359.0 L844.3,359.2 L844.5,359.1 L844.7,359.0 L844.9,359.2 L845.1,359.9 L845.3,360.1 L845.5,360.1 L845.7,360.6 L845.9,360.5 L846.1,361.4 L846.3,361.6 L846.5,361.4 L846.7,361.7 L846.9,361.1 L847.1,362.0 L847.3,361.9 L847.5,361.9 L847.7,362.0 L847.9,361.9 L848.1,361.6 L848.3,361.7 L848.5,361.8 L848.7,362.0 L848.9,361.8 L849.1,361.6 L849.3,361.8 L849.5,361.5 L849.7,362.1 L849.9,361.7 L850.1,361.4 L850.3,361.6 L850.5,361.8 L850.7,361.7 L850.9,362.0 L851.1,361.2 L851.3,361.8 L851.5,361.5 L851.7,361.6 L851.9,361.8 L852.1,361.2 L852.3,361.1 L852.5,361.3 L852.7,361.0 L852.9,360.9 L853.1,361.3 L853.3,361.5 L853.5,361.1 L853.7,361.3 L853.9,361.9 L854.1,361.2 L854.3,361.1 L854.5,361.1 L854.7,361.2 L854.9,361.0 L855.1,361.2 L855.3,361.1 L855.5,361.2 L855.7,361.0 L855.9,360.9 L856.1,360.8 L856.3,360.6 L856.5,360.8 L856.7,360.8 L856.9,360.9 L857.1,360.8 L857.3,360.7 L857.5,361.2 L857.7,360.8 L857.9,361.0 L858.1,360.5 L858.3,360.9 L858.5,360.9 L858.7,360.7 L858.9,360.4 L859.1,360.8 L859.3,360.4 L859.5,360.2 L859.7,360.2 L859.9,360.5 L860.1,360.4 L860.3,360.6 L860.5,360.6 L860.7,360.7 L860.9,360.4 L861.1,360.4 L861.3,360.3 L861.5,360.1 L861.7,360.1 L861.9,360.1 L862.1,360.3 L862.3,360.0 L862.5,360.2 L862.7,360.4 L862.9,359.7 L863.1,359.9 L863.3,359.9 L863.5,360.1 L863.7,359.7 L863.9,359.9 L864.1,360.5 L864.3,359.7 L864.5,359.9 L864.7,360.0 L864.9,359.8 L865.1,359.6 L865.3,360.0 L865.5,359.4 L865.7,359.6 L865.9,359.7 L866.1,359.6 L866.3,360.0 L866.5,359.6 L866.7,360.1 L866.9,359.7 L867.1,359.9 L867.3,359.7 L867.5,359.5 L867.7,359.5 L867.9,359.7 L868.1,359.4 L868.3,359.5 L868.5,359.3 L868.7,359.0 L868.9,359.5 L869.1,359.5 L869.3,359.1 L869.5,359.4 L869.7,359.3 L869.9,358.9 L870.1,359.1 L870.3,359.4 L870.5,359.5 L870.7,359.3 L870.9,359.8 L871.1,359.3 L871.3,359.1 L871.5,358.9 L871.7,359.5 L871.9,359.1 L872.1,359.1 L872.3,359.0 L872.5,359.0 L872.7,359.1 L872.9,359.3 L873.1,359.3 L873.3,359.2 L873.5,359.3 L873.7,359.0 L873.9,358.9 L874.1,359.1 L874.3,358.7 L874.5,359.3 L874.7,359.2 L874.9,359.2 L875.1,358.9 L875.3,359.0 L875.5,359.1 L875.7,358.9 L875.9,358.8 L876.1,359.0 L876.3,359.1 L876.5,358.9 L876.7,359.2 L876.9,359.5 L877.1,359.1 L877.3,358.9 L877.5,358.9 L877.7,359.3 L877.9,359.0 L878.1,359.0 L878.3,358.9 L878.5,358.7 L878.7,359.1 L878.9,358.8 L879.1,358.8 L879.3,358.3 L879.5,359.2 L879.7,358.9 L879.9,358.7 L880.1,358.5 L880.3,358.5 L880.5,358.3 L880.7,358.7 L880.9,358.4 L881.1,358.7 L881.3,358.6 L881.5,358.9 L881.7,358.5 L881.9,358.5 L882.1,358.6 L882.3,358.3 L882.5,358.4 L882.7,358.5 L882.9,358.6 L883.1,358.5 L883.3,358.3 L883.5,358.6 L883.7,358.2 L883.9,358.0 L884.1,358.6 L884.3,358.2 L884.5,358.1 L884.7,357.9 L884.9,358.1 L885.1,358.5 L885.3,358.1 L885.5,358.5 L885.7,358.1 L885.9,358.3 L886.1,358.0 L886.3,357.9 L886.5,357.9 L886.7,357.9 L886.9,357.7 L887.1,357.7 L887.3,358.0 L887.5,358.1 L887.7,357.9 L887.9,357.8 L888.1,357.6 L888.3,358.0 L888.5,358.0 L888.7,357.5 L888.9,357.7 L889.1,357.6 L889.3,357.4 L889.5,358.0 L889.7,357.9 L889.9,357.7 L890.1,357.9 L890.3,357.5 L890.5,357.6 L890.7,357.8 L890.9,357.4 L891.1,357.5 L891.3,357.3 L891.5,357.6 L891.7,357.6 L891.9,357.2 L892.1,357.2 L892.3,357.3 L892.5,357.6 L892.7,357.2 L892.9,357.1 L893.1,357.2 L893.3,357.4 L893.5,356.9 L893.7,357.1 L893.9,357.4 L894.1,357.1 L894.3,357.0 L894.5,357.3 L894.7,356.8 L894.9,357.4 L895.1,357.1 L895.3,356.9 L895.5,357.0 L895.7,356.9 L895.9,356.9 L896.1,356.6 L896.3,356.8 L896.5,356.5 L896.7,357.1 L896.9,356.6 L897.1,356.6 L897.3,356.6 L897.5,356.9 L897.7,356.7 L897.9,357.0 L898.1,356.6 L898.3,356.7 L898.5,356.6 L898.7,356.5 L898.9,356.8 L899.1,356.8 L899.3,356.8 L899.5,356.2 L899.7,356.6 L899.9,356.2 L900.1,356.2 L900.3,356.1 L900.5,356.2 L900.7,356.5 L900.9,356.6 L901.1,356.7 L901.3,356.1 L901.5,356.2 L901.7,356.3 L901.9,356.3 L902.1,356.3 L902.3,355.8 L902.5,356.1 L902.7,356.3 L902.9,356.2 L903.1,356.1 L903.3,355.9 L903.5,356.0 L903.7,356.3 L903.9,356.1 L904.1,356.2 L904.3,356.3 L904.5,355.7 L904.7,356.1 L904.9,356.0 L905.1,356.3 L905.3,356.0 L905.5,356.1 L905.7,356.1 L905.9,356.3 L906.1,356.3 L906.3,356.4 L906.5,356.6 L906.7,356.6 L906.9,356.5 L907.1,356.7 L907.3,356.7 L907.5,356.9 L907.7,357.1 L907.9,356.7 L908.1,356.2 L908.3,356.6 L908.5,356.3 L908.7,355.9 L908.9,355.8 L909.1,355.9 L909.3,355.0 L909.5,354.7 L909.7,354.7 L909.9,353.9 L910.1,354.4 L910.3,354.7 L910.5,354.6 L910.7,354.8 L910.9,354.9 L911.1,355.1 L911.3,356.0 L911.5,355.8 L911.7,356.2 L911.9,355.9 L912.1,356.4 L912.3,356.5 L912.5,356.6 L912.7,356.2 L912.9,356.6 L913.1,357.0 L913.3,356.9 L913.5,356.7 L913.7,357.1 L913.9,356.7 L914.1,357.3 L914.3,357.5 L914.5,357.5 L914.7,357.6 L914.9,357.7 L915.1,358.2 L915.3,358.8 L915.5,358.8 L915.7,359.0 L915.9,359.3 L916.1,359.2 L916.3,359.6 L916.5,359.1 L916.7,359.8 L916.9,360.1 L917.1,360.3 L917.3,360.5 L917.5,360.9 L917.7,360.9 L917.9,361.4 L918.1,361.4 L918.3,361.8 L918.5,361.9 L918.7,362.2 L918.9,362.3 L919.1,362.3 L919.3,362.7 L919.5,362.6 L919.7,363.1 L919.9,363.3 L920.1,363.4 L920.3,363.6 L920.5,364.1 L920.7,364.3 L920.9,364.6 L921.1,364.3 L921.3,364.5 L921.5,364.9 L921.7,365.0 L921.9,364.4 L922.1,365.2 L922.3,365.0 L922.5,364.4 L922.7,364.7 L922.9,364.0 L923.1,363.3 L923.3,361.6 L923.5,359.1 L923.7,355.1 L923.9,349.6 L924.1,342.3 L924.3,334.7 L924.5,327.2 L924.7,322.1 L924.9,320.3 L925.1,322.5 L925.3,328.5 L925.5,335.3 L925.7,343.2 L925.9,350.4 L926.1,355.9 L926.3,359.8 L926.5,362.7 L926.7,364.0 L926.9,365.1 L927.1,365.9 L927.3,366.2 L927.5,366.4 L927.7,366.7 L927.9,366.9 L928.1,367.2 L928.3,367.1 L928.5,367.6 L928.7,367.6 L928.9,367.9 L929.1,367.8 L929.3,367.8 L929.5,367.1 L929.7,367.6 L929.9,368.1 L930.1,367.8 L930.3,367.7 L930.5,367.9 L930.7,367.8 L930.9,367.9 L931.1,367.7 L931.3,368.0 L931.5,368.2 L931.7,368.0 L931.9,368.1 L932.1,367.9 L932.3,368.1 L932.5,368.0 L932.7,367.8 L932.9,368.0 L933.1,368.1 L933.3,368.2 L933.5,368.3 L933.7,368.1 L933.9,368.1 L934.1,368.3 L934.3,368.1 L934.5,368.2 L934.7,368.2 L934.9,368.3 L935.1,368.2 L935.3,368.7 L935.5,368.6 L935.7,368.3 L935.9,368.1 L936.1,368.3 L936.3,368.6 L936.5,368.1 L936.7,369.0 L936.9,368.5 L937.1,368.5 L937.3,368.7 L937.5,368.3 L937.7,368.6 L937.9,368.6 L938.1,368.7 L938.3,368.3 L938.5,368.4 L938.7,368.2 L938.9,367.5 L939.1,366.5 L939.3,365.4 L939.5,364.0 L939.7,362.9 L939.9,362.1 L940.1,361.7 L940.3,361.7 L940.5,362.4 L940.7,363.2 L940.9,364.5 L941.1,365.5 L941.3,366.7 L941.5,367.3 L941.7,368.0 L941.9,368.4 L942.1,368.3 L942.3,368.0 L942.5,367.8 L942.7,367.2 L942.9,365.9 L943.1,363.8 L943.3,362.6 L943.5,360.3 L943.7,358.6 L943.9,357.9 L944.1,358.3 L944.3,358.6 L944.5,361.0 L944.7,362.7 L944.9,364.7 L945.1,365.9 L945.3,367.2 L945.5,368.0 L945.7,369.0 L945.9,369.0 L946.1,369.5 L946.3,369.5 L946.5,369.5 L946.7,370.2 L946.9,370.5 L947.1,370.7 L947.3,370.4 L947.5,370.7 L947.7,371.0 L947.9,371.1 L948.1,371.2 L948.3,371.8 L948.5,371.4 L948.7,371.8 L948.9,371.7 L949.1,372.2 L949.3,372.1 L949.5,372.1 L949.7,372.6 L949.9,372.6 L950.1,372.7 L950.3,372.8 L950.5,372.9 L950.7,373.3 L950.9,373.4 L951.1,373.8 L951.3,373.5 L951.5,374.1 L951.7,374.1 L951.9,373.8 L952.1,374.6 L952.3,374.1 L952.5,374.7 L952.7,374.4 L952.9,375.0 L953.1,374.9 L953.3,375.1 L953.5,374.8 L953.7,375.0 L953.9,375.2 L954.1,374.9 L954.3,374.3 L954.5,373.6 L954.7,372.6 L954.9,371.7 L955.1,369.7 L955.3,368.1 L955.5,365.7 L955.7,364.0 L955.9,363.4 L956.1,362.6 L956.3,363.2 L956.5,364.4 L956.7,366.2 L956.9,367.9 L957.1,369.6 L957.3,371.3 L957.5,372.3 L957.7,373.6 L957.9,374.5 L958.1,375.6 L958.3,377.0 L958.5,377.7 L958.7,378.3 L958.9,379.9 L959.1,380.9 L959.3,382.1 L959.5,382.4 L959.7,382.7 L959.9,383.3 L960.1,383.8 L960.3,383.4 L960.5,383.8 L960.7,383.6 L960.9,383.7 L961.1,383.4 L961.3,383.5 L961.5,383.4 L961.7,383.5 L961.9,383.4 L962.1,383.7 L962.3,383.4 L962.5,383.5 L962.7,383.1 L962.9,383.3 L963.1,384.0 L963.3,383.4 L963.5,383.2 L963.7,383.5 L963.9,383.4 L964.1,383.4 L964.3,383.4 L964.5,383.4 L964.7,383.7 L964.9,383.2 L965.1,383.5 L965.3,383.6 L965.5,383.3 L965.7,383.9 L965.9,383.5 L966.1,383.4 L966.3,383.3 L966.5,383.6 L966.7,383.1 L966.9,383.6 L967.1,383.9 L967.3,383.5 L967.5,383.6 L967.7,383.2 L967.9,383.6 L968.1,383.3 L968.3,383.3 L968.5,383.4 L968.7,383.8 L968.9,383.3 L969.1,383.0 L969.3,383.4 L969.5,383.6 L969.7,383.5 L969.9,383.4 L970.1,383.7 L970.3,383.6 L970.5,383.6 L970.7,383.3 L970.9,383.1 L971.1,383.7 L971.3,383.2 L971.5,383.6 L971.7,383.6 L971.9,383.1 L972.1,383.2 L972.3,383.5 L972.5,383.6 L972.7,383.2 L972.9,383.3 L973.1,383.1 L973.3,383.1 L973.5,383.4 L973.7,383.2 L973.9,382.9 L974.1,383.4 L974.3,383.2 L974.5,383.2 L974.7,383.0 L974.9,383.5 L975.1,383.4 L975.3,383.4 L975.5,383.3 L975.7,383.4 L975.9,383.6 L976.1,383.3 L976.3,383.3 L976.5,383.2 L976.7,383.4 L976.9,383.2 L977.1,383.1 L977.3,383.5 L977.5,383.2 L977.7,383.1 L977.9,383.1 L978.1,383.1 L978.3,383.0 L978.5,383.5 L978.7,383.4 L978.9,383.0 L979.1,383.5 L979.3,383.2 L979.5,383.3 L979.7,383.1 L979.9,383.3 L980.1,383.3 L980.3,383.4 L980.5,383.4 L980.7,382.7 L980.9,383.1 L981.1,383.2 L981.3,383.1 L981.5,382.9 L981.7,383.1 L981.9,383.1 L982.1,382.7 L982.3,383.0 L982.5,383.3 L982.7,383.0 L982.9,383.1 L983.1,383.1 L983.3,383.2 L983.5,383.3 L983.7,383.3 L983.9,383.1 L984.1,383.1 L984.3,383.1 L984.5,383.1 L984.7,383.1 L984.9,383.2 L985.1,383.2 L985.3,382.8 L985.5,382.6 L985.7,383.2 L985.9,383.0 L986.1,382.8 L986.3,383.3 L986.5,383.4 L986.7,382.8 L986.9,382.9 L987.1,382.9 L987.3,382.9 L987.5,383.0 L987.7,382.8 L987.9,383.0 L988.1,382.9 L988.3,383.2 L988.5,383.0 L988.7,383.2 L988.9,383.3 L989.1,383.1 L989.3,383.1 L989.5,382.9 L989.7,383.0 L989.9,383.4 L990.1,383.3 L990.3,383.0 L990.5,382.9 L990.7,382.9 L990.9,383.2 L991.1,382.5 L991.3,383.0 L991.5,382.7 L991.7,383.2 L991.9,382.7 L992.1,383.1 L992.3,382.9 L992.5,382.9 L992.7,383.3 L992.9,382.9 L993.1,383.1 L993.3,383.0 L993.5,382.7 L993.7,382.9 L993.9,383.1 L994.1,383.0 L994.3,382.9 L994.5,382.7 L994.7,383.2 L994.9,382.8 L995.1,383.2 L995.3,382.9 L995.5,383.0 L995.7,382.6 L995.9,382.9 L996.1,382.7 L996.3,382.9 L996.5,383.1 L996.7,382.9 L996.9,382.9 L997.1,383.0 L997.3,382.6 L997.5,382.9 L997.7,382.7 L997.9,383.1 L998.1,382.7 L998.3,383.1 L998.5,383.2 L998.7,382.4 L998.9,382.8 L999.1,382.5 L999.3,383.1 L999.5,382.6 L999.7,382.9 L999.9,382.9 L1000.1,382.6 L1000.3,382.5 L1000.5,383.0 L1000.7,382.7 L1000.9,382.8 L1001.1,383.1 L1001.3,382.8 L1001.5,382.7 L1001.7,382.5 L1001.9,382.8 L1002.1,382.6 L1002.3,382.4 L1002.5,382.6 L1002.7,382.6 L1002.9,382.4 L1003.1,382.7 L1003.3,382.9 L1003.5,382.8 L1003.7,383.1 L1003.9,382.9 L1004.1,382.8 L1004.3,382.3 L1004.5,382.8 L1004.7,383.0 L1004.9,382.7 L1005.1,383.0 L1005.3,382.5 L1005.5,382.8 L1005.7,382.9 L1005.9,383.1 L1006.1,382.7 L1006.3,383.2 L1006.5,382.7 L1006.7,382.4 L1006.9,382.7 L1007.1,383.1 L1007.3,382.7 L1007.5,383.1 L1007.7,382.7 L1007.9,383.2 L1008.1,382.3 L1008.3,383.3 L1008.5,382.4 L1008.7,382.8 L1008.9,382.6 L1009.1,382.9 L1009.3,382.8 L1009.5,382.8 L1009.7,383.0 L1009.9,383.0 L1010.1,382.8 L1010.3,383.1 L1010.5,382.5 L1010.7,382.6 L1010.9,382.6 L1011.1,383.0 L1011.3,383.1 L1011.5,382.8 L1011.7,382.8 L1011.9,382.7 L1012.1,383.0 L1012.3,383.1 L1012.5,382.8 L1012.7,382.9 L1012.9,382.8 L1013.1,382.9 L1013.3,383.0 L1013.5,382.5 L1013.7,382.8 L1013.9,383.1 L1014.1,382.8 L1014.3,383.2 L1014.5,383.3 L1014.7,382.8 L1014.9,382.8 L1015.1,383.3 L1015.3,382.6 L1015.5,382.8 L1015.7,382.7 L1015.9,383.0 L1016.1,383.1 L1016.3,383.1 L1016.5,383.1 L1016.7,382.7 L1016.9,383.3 L1017.1,383.0 L1017.3,383.0 L1017.5,383.4 L1017.7,383.1 L1017.9,383.1 L1018.1,383.2 L1018.3,383.5 L1018.5,383.1 L1018.7,383.2 L1018.9,382.6 L1019.1,382.9 L1019.3,383.5 L1019.5,383.5 L1019.7,383.1 L1019.9,382.9 L1020.1,382.8 L1020.3,382.9 L1020.5,383.0 L1020.7,382.8 L1020.9,383.1 L1021.1,383.1 L1021.3,382.9 L1021.5,382.9 L1021.7,382.9 L1021.9,383.0 L1022.1,383.1 L1022.3,383.3 L1022.5,382.8 L1022.7,383.1 L1022.9,383.2 L1023.1,383.2 L1023.3,383.4 L1023.5,383.1 L1023.7,383.4 L1023.9,383.7 L1024.1,383.3 L1024.3,383.5 L1024.5,383.4 L1024.7,383.3 L1024.9,383.2 L1025.1,383.3 L1025.4,383.7 L1025.6,383.3 L1025.8,383.1 L1026.0,383.1 L1026.2,383.4 L1026.4,383.1 L1026.6,383.4 L1026.8,383.4 L1027.0,383.3 L1027.2,383.6 L1027.4,383.0 L1027.6,383.2 L1027.8,383.3 L1028.0,383.4 L1028.2,383.1 L1028.4,383.3 L1028.6,383.7 L1028.8,383.3 L1029.0,383.6 L1029.2,383.3 L1029.4,383.2 L1029.6,383.3 L1029.8,383.2 L1030.0,382.5 L1030.2,381.5 L1030.4,380.5 L1030.6,379.1 L1030.8,377.3 L1031.0,375.0 L1031.2,373.2 L1031.4,371.1 L1031.6,370.4 L1031.8,369.8 L1032.0,370.6 L1032.2,372.6 L1032.4,374.5 L1032.6,376.5 L1032.8,378.5 L1033.0,380.3 L1033.2,381.7 L1033.4,382.7 L1033.6,383.5 L1033.8,383.5 L1034.0,383.9 L1034.2,384.0 L1034.4,383.8 L1034.6,384.4 L1034.8,384.5 L1035.0,384.2 L1035.2,383.8 L1035.4,384.0 L1035.6,384.4 L1035.8,383.8 L1036.0,383.8 L1036.2,384.1 L1036.4,384.3 L1036.6,384.4 L1036.8,384.5 L1037.0,383.8 L1037.2,384.1 L1037.4,384.1 L1037.6,384.1 L1037.8,384.4 L1038.0,384.3 L1038.2,384.1 L1038.4,384.3 L1038.6,384.3 L1038.8,384.5 L1039.0,384.2 L1039.2,384.4 L1039.4,384.1 L1039.6,384.4 L1039.8,384.3 L1040.0,384.3 L1040.2,384.3 L1040.4,384.6 L1040.6,384.1 L1040.8,384.1 L1041.0,384.2 L1041.2,384.4 L1041.4,384.4 L1041.6,384.3 L1041.8,384.2 L1042.0,384.2 L1042.2,384.2 L1042.4,384.4 L1042.6,384.3 L1042.8,384.3 L1043.0,384.3 L1043.2,384.3 L1043.4,384.5 L1043.6,384.2 L1043.8,384.4 L1044.0,384.4 L1044.2,384.2 L1044.4,384.6 L1044.6,384.3 L1044.8,384.1 L1045.0,384.5 L1045.2,384.4 L1045.4,384.4 L1045.6,384.3 L1045.8,384.2 L1046.0,384.3 L1046.2,384.0 L1046.4,384.3 L1046.6,384.3 L1046.8,384.5 L1047.0,384.3 L1047.2,384.4 L1047.4,384.0 L1047.6,384.1 L1047.8,384.4 L1048.0,384.6 L1048.2,384.5 L1048.4,384.0 L1048.6,384.1 L1048.8,384.2 L1049.0,384.5 L1049.2,384.2 L1049.4,384.3 L1049.6,384.4 L1049.8,384.4 L1050.0,384.3 L1050.2,384.4 L1050.4,384.5 L1050.6,384.3 L1050.8,384.3 L1051.0,384.5 L1051.2,384.6 L1051.4,384.8 L1051.6,384.1 L1051.8,384.4 L1052.0,384.3 L1052.2,384.1 L1052.4,384.2 L1052.6,384.2 L1052.8,384.1 L1053.0,384.2 L1053.2,384.4 L1053.4,384.1 L1053.6,384.2 L1053.8,384.3 L1054.0,384.1 L1054.2,384.1 L1054.4,384.0 L1054.6,384.1 L1054.8,384.6 L1055.0,384.0 L1055.2,384.5 L1055.4,384.1 L1055.6,384.1 L1055.8,384.4 L1056.0,384.4 L1056.2,384.4 L1056.4,384.3 L1056.6,384.5 L1056.8,384.2 L1057.0,384.4 L1057.2,384.5 L1057.4,384.3 L1057.6,384.1 L1057.8,384.6 L1058.0,384.2 L1058.2,384.1 L1058.4,384.4 L1058.6,384.5 L1058.8,384.4 L1059.0,384.1 L1059.2,384.3 L1059.4,384.4 L1059.6,384.4 L1059.8,384.0 L1060.0,384.0 L1060.2,384.3 L1060.4,384.3 L1060.6,384.4 L1060.8,384.5 L1061.0,384.0 L1061.2,384.1 L1061.4,384.2 L1061.6,384.6 L1061.8,384.2 L1062.0,384.5 L1062.2,383.8 L1062.4,384.3 L1062.6,384.4 L1062.8,384.5 L1063.0,384.1 L1063.2,384.7 L1063.4,384.1 L1063.6,384.5 L1063.8,384.6 L1064.0,384.2 L1064.2,384.0 L1064.4,384.7 L1064.6,384.3 L1064.8,384.0 L1065.0,384.3 L1065.2,384.0 L1065.4,384.3 L1065.6,384.0 L1065.8,383.8 L1066.0,384.4 L1066.2,384.1 L1066.4,384.2 L1066.6,384.2 L1066.8,384.2 L1067.0,384.1 L1067.2,384.3 L1067.4,384.3 L1067.6,384.2 L1067.8,384.1 L1068.0,384.2 L1068.2,384.5 L1068.4,384.4 L1068.6,384.1 L1068.8,384.3 L1069.0,384.3 L1069.2,384.3 L1069.4,384.2 L1069.6,384.3 L1069.8,384.1 L1070.0,384.3 L1070.2,384.3 L1070.4,384.3 L1070.6,384.3 L1070.8,384.3 L1071.0,384.0 L1071.2,383.9 L1071.4,384.2 L1071.6,384.1 L1071.8,384.3 L1072.0,384.0 L1072.2,384.1 L1072.4,383.9 L1072.6,384.1 L1072.8,384.1 L1073.0,384.4 L1073.2,384.2 L1073.4,384.4 L1073.6,384.0 L1073.8,383.8 L1074.0,384.4 L1074.2,384.2 L1074.4,384.4 L1074.6,384.0 L1074.8,383.8 L1075.0,384.4 L1075.2,384.2 L1075.4,384.0 L1075.6,384.6 L1075.8,384.1 L1076.0,384.0 L1076.2,384.2 L1076.4,384.0 L1076.6,384.0 L1076.8,384.2 L1077.0,384.1 L1077.2,384.1 L1077.4,384.1 L1077.6,383.8 L1077.8,384.2 L1078.0,384.5 L1078.2,384.2 L1078.4,384.4 L1078.6,384.5 L1078.8,384.1 L1079.0,384.0 L1079.2,383.9 L1079.4,384.0 L1079.6,384.2 L1079.8,384.1 L1080.0,384.3 L1080.2,384.0 L1080.4,384.4 L1080.6,384.0 L1080.8,384.1 L1081.0,384.1 L1081.2,384.0 L1081.4,384.0 L1081.6,384.2 L1081.8,384.0 L1082.0,384.1 L1082.2,383.9 L1082.4,383.9 L1082.6,383.8 L1082.8,384.2 L1083.0,383.9 L1083.2,384.1 L1083.4,384.1 L1083.6,384.1 L1083.8,384.0 L1084.0,384.1 L1084.2,384.1 L1084.4,384.3 L1084.6,384.0 L1084.8,383.9 L1085.0,383.8 L1085.2,384.4 L1085.4,383.9 L1085.6,384.2 L1085.8,384.2 L1086.0,383.8 L1086.2,383.9 L1086.4,384.1 L1086.6,384.0 L1086.8,383.7 L1087.0,384.0 L1087.2,384.3 L1087.4,384.0 L1087.6,384.1 L1087.8,384.2 L1088.0,384.4 L1088.2,384.0 L1088.4,383.8 L1088.6,383.9 L1088.8,383.9 L1089.0,383.7 L1089.2,383.9 L1089.4,383.8 L1089.6,384.2 L1089.8,383.9 L1090.0,383.4 L1090.2,383.7 L1090.4,384.0 L1090.6,383.8 L1090.8,383.8 L1091.0,383.8 L1091.2,383.7 L1091.4,384.0 L1091.6,383.8 L1091.8,383.7 L1092.0,384.1 L1092.2,383.7 L1092.4,383.9 L1092.6,383.7 L1092.8,383.8 L1093.0,383.8 L1093.2,383.7 L1093.4,383.8 L1093.6,384.2 L1093.8,383.7 L1094.0,384.3 L1094.2,384.1 L1094.4,384.2 L1094.6,383.8 L1094.8,384.2 L1095.0,384.0 L1095.2,384.4 L1095.4,383.9 L1095.6,384.2 L1095.8,383.8 L1096.0,384.2 L1096.2,383.9 L1096.4,383.8 L1096.6,383.7 L1096.8,383.9 L1097.0,384.3 L1097.2,383.7 L1097.4,383.8 L1097.6,384.0 L1097.8,384.0 L1098.0,384.0 L1098.2,384.3 L1098.4,384.0 L1098.6,383.7 L1098.8,384.2 L1099.0,383.9 L1099.2,384.0 L1099.4,384.0 L1099.6,384.3 L1099.8,384.3 L1100.0,384.0 L1100.2,383.9 L1100.4,384.1 L1100.6,383.8 L1100.8,383.6 L1101.0,383.8 L1101.2,384.0 L1101.4,383.6 L1101.6,383.3 L1101.8,383.3 L1102.0,382.8 L1102.2,382.1 L1102.4,380.9 L1102.6,380.3 L1102.8,379.7 L1103.0,379.1 L1103.2,378.6 L1103.4,378.7 L1103.6,379.1 L1103.8,379.9 L1104.0,381.0 L1104.2,381.8 L1104.4,382.3 L1104.6,383.2 L1104.8,383.5 L1105.0,384.0 L1105.2,383.8 L1105.4,384.1 L1105.6,383.6 L1105.8,384.3 L1106.0,384.2 L1106.2,384.3 L1106.4,384.2 L1106.6,384.2 L1106.8,384.2 L1107.0,384.4 L1107.2,384.0 L1107.4,384.2 L1107.6,384.3 L1107.8,384.1 L1108.0,384.0 L1108.2,384.2 L1108.4,384.3 L1108.6,384.5 L1108.8,384.1 L1109.0,383.8 L1109.2,384.4 L1109.4,384.2 L1109.6,384.4 L1109.8,384.2 L1110.0,384.3 L1110.2,383.9 L1110.4,384.4 L1110.6,384.1 L1110.8,384.4 L1111.0,383.9 L1111.2,384.5 L1111.4,384.3 L1111.6,383.8 L1111.8,384.3 L1112.0,384.3 L1112.2,384.3 L1112.4,384.1 L1112.6,384.8 L1112.8,384.2 L1113.0,384.5 L1113.2,383.8 L1113.4,384.4 L1113.6,384.4 L1113.8,384.3 L1114.0,384.6 L1114.2,384.2 L1114.4,384.4 L1114.6,384.3 L1114.8,384.4 L1115.0,384.2 L1115.2,384.5 L1115.4,384.5 L1115.6,384.4 L1115.8,384.4 L1116.0,384.3 L1116.2,384.3 L1116.4,384.3 L1116.6,384.5 L1116.8,384.2 L1117.0,384.4 L1117.2,384.7 L1117.4,384.5 L1117.6,384.2 L1117.8,384.7 L1118.0,384.1 L1118.2,384.4 L1118.4,384.6 L1118.6,384.6 L1118.8,384.5 L1119.0,384.2 L1119.2,384.1 L1119.4,384.5 L1119.6,384.5 L1119.8,384.8 L1120.0,384.3 L1120.2,384.2 L1120.4,384.3 L1120.6,384.0 L1120.8,384.3 L1121.0,384.3 L1121.2,384.2 L1121.4,384.4 L1121.6,384.1 L1121.8,383.2 L1122.0,382.7 L1122.2,382.4 L1122.4,381.8 L1122.6,380.7 L1122.8,380.4 L1123.0,380.3 L1123.2,380.3 L1123.4,380.9 L1123.6,381.3 L1123.8,382.4 L1124.0,383.0 L1124.2,383.1 L1124.4,383.8 L1124.6,384.1 L1124.8,384.7 L1125.0,384.5 L1125.2,384.9 L1125.4,385.1 L1125.6,384.6 L1125.8,384.9 L1126.0,384.9 L1126.2,385.0 L1126.4,384.6 L1126.6,384.8 L1126.8,384.6 L1127.0,385.1 L1127.2,384.6 L1127.4,385.0 L1127.6,384.7 L1127.8,384.9 L1128.0,384.9 L1128.2,385.1 L1128.4,385.2 L1128.6,385.3 L1128.8,385.4 L1129.0,385.1 L1129.2,384.9 L1129.4,385.4 L1129.6,384.9 L1129.8,385.2 L1130.0,385.1 L1130.2,385.1 L1130.4,385.3 L1130.6,385.0 L1130.8,385.3 L1131.0,385.3 L1131.2,385.5 L1131.4,385.6 L1131.6,385.5 L1131.8,385.4 L1132.0,385.7 L1132.2,385.6 L1132.4,385.1 L1132.6,385.4 L1132.8,385.4 L1133.0,385.1 L1133.2,385.3 L1133.4,385.2 L1133.6,385.1 L1133.8,385.2 L1134.0,385.1 L1134.2,384.9 L1134.4,385.1 L1134.6,384.7 L1134.8,385.3 L1135.0,385.0 L1135.2,385.1 L1135.4,385.2 L1135.6,385.2 L1135.8,384.9 L1136.0,385.0 L1136.2,385.1 L1136.4,385.2 L1136.6,384.7 L1136.8,384.9 L1137.0,384.6 L1137.2,384.6 L1137.4,384.7 L1137.6,384.6 L1137.8,384.4 L1138.0,384.4 L1138.2,384.4 L1138.4,384.0 L1138.6,384.1 L1138.8,383.7 L1139.0,384.0 L1139.2,383.6 L1139.4,383.6 L1139.6,383.4 L1139.8,383.8 L1140.0,383.9 L1140.2,384.2 L1140.4,384.4 L1140.6,384.8 L1140.8,385.0 L1141.0,385.4 L1141.2,385.4 L1141.4,385.6 L1141.6,385.9 L1141.8,386.1 L1142.0,386.2 L1142.2,386.2 L1142.4,386.5 L1142.6,386.9 L1142.8,386.8 L1143.0,387.0 L1143.2,387.0 L1143.4,387.4 L1143.6,387.2 L1143.8,387.4 L1144.0,387.4 L1144.2,387.7 L1144.4,387.2 L1144.6,387.1 L1144.8,387.5 L1145.0,387.2 L1145.2,387.6 L1145.4,387.6 L1145.6,387.8 L1145.8,388.0 L1146.0,387.7 L1146.2,388.1 L1146.4,388.3 L1146.6,388.4 L1146.8,388.0 L1147.0,388.2 L1147.2,388.7 L1147.4,388.2 L1147.6,388.8 L1147.8,388.7 L1148.0,388.8 L1148.2,388.5 L1148.4,388.6 L1148.6,388.8 L1148.8,389.2 L1149.0,389.4 L1149.2,389.2 L1149.4,389.5 L1149.6,389.5 L1149.8,389.4 L1150.0,389.5 L1150.2,389.4 L1150.4,389.6 L1150.6,389.7 L1150.8,390.2 L1151.0,390.1 L1151.2,389.9 L1151.4,390.0 L1151.6,389.7 L1151.8,389.4 L1152.0,389.9 L1152.2,389.9 L1152.4,389.6 L1152.6,390.0 L1152.8,390.0 L1153.0,389.9 L1153.2,389.3 L1153.4,389.7 L1153.6,389.8 L1153.8,389.5 L1154.0,389.5 L1154.2,389.8 L1154.4,390.0 L1154.6,389.8 L1154.8,389.6 L1155.0,389.5 L1155.2,389.4" fill="none" stroke="#0000e0" stroke-width="2.4" stroke-linejoin="round"/>
<rect x="635.2" y="14.2" width="520.0" height="377.8" fill="none" stroke="#000" stroke-width="2.8" stroke-linejoin="round"/>
<line x1="1155.2" y1="392.0" x2="1155.2" y2="400.5" stroke="#000" stroke-width="2.4" stroke-linecap="round"/>
<line x1="1111.9" y1="392.0" x2="1111.9" y2="397.0" stroke="#000" stroke-width="2.4" stroke-linecap="round"/>
<line x1="1068.5" y1="392.0" x2="1068.5" y2="400.5" stroke="#000" stroke-width="2.4" stroke-linecap="round"/>
<line x1="1025.2" y1="392.0" x2="1025.2" y2="397.0" stroke="#000" stroke-width="2.4" stroke-linecap="round"/>
<line x1="981.9" y1="392.0" x2="981.9" y2="400.5" stroke="#000" stroke-width="2.4" stroke-linecap="round"/>
<line x1="938.5" y1="392.0" x2="938.5" y2="397.0" stroke="#000" stroke-width="2.4" stroke-linecap="round"/>
<line x1="895.2" y1="392.0" x2="895.2" y2="400.5" stroke="#000" stroke-width="2.4" stroke-linecap="round"/>
<line x1="851.9" y1="392.0" x2="851.9" y2="397.0" stroke="#000" stroke-width="2.4" stroke-linecap="round"/>
<line x1="808.5" y1="392.0" x2="808.5" y2="400.5" stroke="#000" stroke-width="2.4" stroke-linecap="round"/>
<line x1="765.2" y1="392.0" x2="765.2" y2="397.0" stroke="#000" stroke-width="2.4" stroke-linecap="round"/>
<line x1="721.9" y1="392.0" x2="721.9" y2="400.5" stroke="#000" stroke-width="2.4" stroke-linecap="round"/>
<line x1="678.5" y1="392.0" x2="678.5" y2="397.0" stroke="#000" stroke-width="2.4" stroke-linecap="round"/>
<line x1="635.2" y1="392.0" x2="635.2" y2="400.5" stroke="#000" stroke-width="2.4" stroke-linecap="round"/>
<rect x="886.8" y="19.6" width="253.0" height="179.9" fill="#fff" stroke="#333" stroke-width="1.6"/>
<path d="M886.8,138.7 L887.1,139.0 L887.4,138.0 L887.6,139.1 L887.9,138.5 L888.2,138.3 L888.5,138.3 L888.8,138.2 L889.1,138.4 L889.3,138.7 L889.6,138.6 L889.9,138.6 L890.2,137.9 L890.5,138.0 L890.7,138.9 L891.0,138.7 L891.3,139.0 L891.6,138.7 L891.9,138.0 L892.1,138.7 L892.4,138.5 L892.7,138.3 L893.0,138.0 L893.3,138.2 L893.6,138.2 L893.8,138.5 L894.1,138.2 L894.4,138.6 L894.7,137.9 L895.0,138.3 L895.2,138.2 L895.5,137.8 L895.8,137.7 L896.1,138.3 L896.4,138.1 L896.6,137.9 L896.9,138.1 L897.2,137.7 L897.5,138.0 L897.8,137.7 L898.1,137.9 L898.3,138.1 L898.6,137.7 L898.9,138.0 L899.2,137.4 L899.5,137.6 L899.7,137.2 L900.0,137.6 L900.3,137.6 L900.6,137.5 L900.9,137.4 L901.2,137.8 L901.4,137.8 L901.7,137.0 L902.0,137.7 L902.3,136.8 L902.6,137.0 L902.8,137.1 L903.1,137.1 L903.4,136.7 L903.7,136.7 L904.0,136.9 L904.2,136.6 L904.5,136.5 L904.8,136.8 L905.1,136.8 L905.4,136.5 L905.7,136.4 L905.9,136.3 L906.2,136.1 L906.5,136.0 L906.8,135.7 L907.1,136.2 L907.3,135.8 L907.6,135.7 L907.9,135.8 L908.2,135.8 L908.5,135.9 L908.8,135.3 L909.0,135.2 L909.3,135.3 L909.6,134.9 L909.9,135.4 L910.2,135.2 L910.4,135.1 L910.7,134.8 L911.0,134.9 L911.3,134.9 L911.6,134.7 L911.8,134.4 L912.1,133.9 L912.4,134.6 L912.7,134.1 L913.0,133.9 L913.3,134.3 L913.5,134.1 L913.8,133.5 L914.1,133.8 L914.4,133.7 L914.7,134.0 L914.9,133.1 L915.2,133.5 L915.5,133.5 L915.8,133.9 L916.1,133.0 L916.3,132.4 L916.6,132.8 L916.9,133.3 L917.2,133.4 L917.5,133.6 L917.8,133.1 L918.0,132.7 L918.3,133.1 L918.6,132.8 L918.9,132.7 L919.2,132.7 L919.4,133.0 L919.7,132.3 L920.0,132.2 L920.3,132.4 L920.6,132.4 L920.9,132.1 L921.1,132.0 L921.4,132.3 L921.7,132.5 L922.0,132.3 L922.3,132.2 L922.5,132.3 L922.8,131.3 L923.1,131.3 L923.4,131.5 L923.7,131.3 L923.9,131.3 L924.2,131.5 L924.5,131.1 L924.8,131.2 L925.1,130.7 L925.4,130.9 L925.6,131.6 L925.9,130.9 L926.2,131.1 L926.5,131.2 L926.8,130.7 L927.0,131.0 L927.3,130.8 L927.6,130.9 L927.9,130.4 L928.2,130.1 L928.5,130.1 L928.7,130.2 L929.0,130.4 L929.3,130.1 L929.6,130.0 L929.9,130.0 L930.1,130.3 L930.4,129.7 L930.7,130.3 L931.0,129.4 L931.3,129.5 L931.5,129.8 L931.8,129.7 L932.1,129.2 L932.4,129.3 L932.7,129.1 L933.0,129.5 L933.2,129.3 L933.5,128.8 L933.8,129.1 L934.1,128.8 L934.4,128.8 L934.6,128.7 L934.9,128.4 L935.2,128.6 L935.5,128.5 L935.8,128.4 L936.0,128.5 L936.3,128.0 L936.6,127.5 L936.9,127.7 L937.2,127.8 L937.5,127.6 L937.7,127.7 L938.0,127.7 L938.3,127.3 L938.6,127.2 L938.9,126.8 L939.1,127.3 L939.4,126.8 L939.7,126.4 L940.0,126.3 L940.3,126.4 L940.6,126.8 L940.8,126.4 L941.1,125.6 L941.4,125.9 L941.7,125.8 L942.0,125.8 L942.2,125.5 L942.5,125.0 L942.8,125.2 L943.1,124.7 L943.4,123.9 L943.6,124.2 L943.9,124.0 L944.2,124.2 L944.5,124.0 L944.8,123.2 L945.1,123.3 L945.3,123.0 L945.6,122.3 L945.9,121.9 L946.2,122.2 L946.5,122.0 L946.7,121.5 L947.0,120.6 L947.3,121.1 L947.6,120.6 L947.9,120.2 L948.2,120.1 L948.4,119.6 L948.7,119.8 L949.0,119.2 L949.3,118.7 L949.6,118.5 L949.8,118.0 L950.1,117.1 L950.4,117.1 L950.7,116.6 L951.0,115.7 L951.2,115.6 L951.5,115.5 L951.8,114.7 L952.1,114.8 L952.4,114.4 L952.7,113.4 L952.9,113.1 L953.2,113.1 L953.5,111.9 L953.8,111.3 L954.1,110.9 L954.3,110.0 L954.6,109.2 L954.9,108.8 L955.2,107.7 L955.5,107.1 L955.7,106.3 L956.0,105.0 L956.3,104.3 L956.6,103.4 L956.9,102.4 L957.2,101.5 L957.4,101.0 L957.7,100.1 L958.0,99.5 L958.3,99.0 L958.6,98.3 L958.8,96.9 L959.1,96.2 L959.4,95.7 L959.7,95.0 L960.0,94.5 L960.3,93.2 L960.5,92.6 L960.8,92.0 L961.1,91.5 L961.4,90.7 L961.7,89.2 L961.9,88.6 L962.2,87.5 L962.5,87.1 L962.8,86.1 L963.1,84.9 L963.3,83.9 L963.6,83.3 L963.9,82.7 L964.2,81.4 L964.5,80.7 L964.8,80.1 L965.0,79.4 L965.3,78.9 L965.6,77.9 L965.9,77.4 L966.2,76.4 L966.4,76.6 L966.7,76.4 L967.0,75.0 L967.3,75.0 L967.6,75.0 L967.9,74.3 L968.1,73.5 L968.4,74.0 L968.7,73.0 L969.0,73.5 L969.3,72.5 L969.5,72.2 L969.8,72.2 L970.1,72.0 L970.4,72.1 L970.7,72.0 L970.9,71.9 L971.2,72.5 L971.5,72.5 L971.8,72.6 L972.1,72.8 L972.4,73.0 L972.6,73.3 L972.9,73.8 L973.2,74.2 L973.5,74.5 L973.8,75.3 L974.0,75.5 L974.3,76.3 L974.6,77.2 L974.9,77.5 L975.2,78.9 L975.4,80.8 L975.7,81.4 L976.0,83.5 L976.3,84.5 L976.6,86.6 L976.9,87.8 L977.1,89.6 L977.4,91.4 L977.7,92.9 L978.0,95.0 L978.3,96.7 L978.5,98.4 L978.8,100.0 L979.1,102.2 L979.4,103.8 L979.7,105.3 L980.0,106.6 L980.2,108.8 L980.5,110.3 L980.8,111.7 L981.1,113.3 L981.4,114.8 L981.6,115.9 L981.9,117.5 L982.2,118.8 L982.5,120.0 L982.8,121.1 L983.0,122.2 L983.3,123.6 L983.6,124.9 L983.9,126.0 L984.2,125.9 L984.5,126.5 L984.7,127.4 L985.0,127.9 L985.3,128.7 L985.6,129.5 L985.9,129.8 L986.1,130.8 L986.4,131.4 L986.7,132.2 L987.0,132.8 L987.3,133.1 L987.5,133.9 L987.8,133.4 L988.1,134.0 L988.4,134.4 L988.7,134.8 L989.0,135.3 L989.2,135.2 L989.5,136.1 L989.8,136.3 L990.1,136.3 L990.4,136.6 L990.6,136.4 L990.9,136.2 L991.2,137.1 L991.5,137.5 L991.8,137.6 L992.1,137.4 L992.3,137.8 L992.6,138.6 L992.9,138.4 L993.2,138.5 L993.5,138.3 L993.7,138.7 L994.0,138.9 L994.3,138.8 L994.6,138.5 L994.9,138.7 L995.1,138.4 L995.4,138.6 L995.7,138.9 L996.0,138.6 L996.3,138.7 L996.6,139.2 L996.8,138.7 L997.1,139.0 L997.4,138.7 L997.7,138.4 L998.0,138.8 L998.2,138.7 L998.5,138.2 L998.8,138.5 L999.1,138.7 L999.4,139.3 L999.7,138.7 L999.9,138.9 L1000.2,139.1 L1000.5,139.0 L1000.8,138.8 L1001.1,139.4 L1001.3,139.3 L1001.6,138.2 L1001.9,139.2 L1002.2,139.0 L1002.5,139.2 L1002.7,138.9 L1003.0,139.1 L1003.3,139.4 L1003.6,139.3 L1003.9,139.3 L1004.2,139.0 L1004.4,139.0 L1004.7,138.9 L1005.0,138.3 L1005.3,139.2 L1005.6,138.6 L1005.8,138.6 L1006.1,138.5 L1006.4,138.5 L1006.7,137.7 L1007.0,138.3 L1007.2,137.8 L1007.5,137.9 L1007.8,137.5 L1008.1,137.5 L1008.4,138.1 L1008.7,137.8 L1008.9,137.8 L1009.2,137.7 L1009.5,137.3 L1009.8,137.4 L1010.1,137.2 L1010.3,137.4 L1010.6,136.7 L1010.9,137.2 L1011.2,137.5 L1011.5,137.5 L1011.8,137.4 L1012.0,137.1 L1012.3,136.5 L1012.6,137.0 L1012.9,136.8 L1013.2,136.6 L1013.4,136.1 L1013.7,136.5 L1014.0,136.7 L1014.3,136.4 L1014.6,136.0 L1014.8,136.2 L1015.1,135.9 L1015.4,135.9 L1015.7,136.0 L1016.0,135.7 L1016.3,135.6 L1016.5,135.6 L1016.8,135.1 L1017.1,135.0 L1017.4,135.3 L1017.7,134.9 L1017.9,135.2 L1018.2,134.3 L1018.5,135.1 L1018.8,134.6 L1019.1,135.1 L1019.4,133.7 L1019.6,133.9 L1019.9,134.7 L1020.2,134.2 L1020.5,134.1 L1020.8,134.0 L1021.0,133.8 L1021.3,133.8 L1021.6,133.3 L1021.9,133.4 L1022.2,133.7 L1022.4,133.2 L1022.7,132.9 L1023.0,133.0 L1023.3,133.1 L1023.6,132.6 L1023.9,132.5 L1024.1,132.5 L1024.4,132.5 L1024.7,132.5 L1025.0,131.8 L1025.3,131.8 L1025.5,131.8 L1025.8,130.7 L1026.1,131.2 L1026.4,131.1 L1026.7,130.7 L1026.9,130.3 L1027.2,130.6 L1027.5,130.6 L1027.8,130.0 L1028.1,129.6 L1028.4,129.5 L1028.6,129.8 L1028.9,129.5 L1029.2,128.9 L1029.5,128.3 L1029.8,128.0 L1030.0,128.1 L1030.3,127.8 L1030.6,127.7 L1030.9,127.0 L1031.2,127.0 L1031.5,126.8 L1031.7,125.8 L1032.0,126.7 L1032.3,125.8 L1032.6,125.4 L1032.9,124.5 L1033.1,124.2 L1033.4,124.3 L1033.7,123.9 L1034.0,122.4 L1034.3,123.0 L1034.5,122.4 L1034.8,121.9 L1035.1,120.9 L1035.4,120.8 L1035.7,120.0 L1036.0,119.8 L1036.2,119.7 L1036.5,118.8 L1036.8,118.3 L1037.1,117.4 L1037.4,116.6 L1037.6,116.4 L1037.9,116.1 L1038.2,115.7 L1038.5,114.7 L1038.8,114.2 L1039.1,113.4 L1039.3,112.5 L1039.6,112.5 L1039.9,112.0 L1040.2,111.2 L1040.5,110.7 L1040.7,109.5 L1041.0,109.3 L1041.3,108.9 L1041.6,107.7 L1041.9,107.1 L1042.1,106.3 L1042.4,105.1 L1042.7,104.6 L1043.0,103.5 L1043.3,103.9 L1043.6,102.2 L1043.8,101.0 L1044.1,100.1 L1044.4,100.1 L1044.7,99.0 L1045.0,98.1 L1045.2,96.6 L1045.5,96.0 L1045.8,94.8 L1046.1,94.5 L1046.4,93.0 L1046.6,92.7 L1046.9,91.2 L1047.2,89.8 L1047.5,89.2 L1047.8,87.0 L1048.1,86.2 L1048.3,85.1 L1048.6,84.3 L1048.9,83.1 L1049.2,81.7 L1049.5,79.9 L1049.7,79.1 L1050.0,77.7 L1050.3,77.3 L1050.6,75.7 L1050.9,74.9 L1051.2,74.3 L1051.4,72.6 L1051.7,71.6 L1052.0,69.9 L1052.3,68.8 L1052.6,67.6 L1052.8,66.4 L1053.1,65.3 L1053.4,64.0 L1053.7,63.5 L1054.0,61.7 L1054.2,60.9 L1054.5,59.7 L1054.8,58.0 L1055.1,58.0 L1055.4,56.8 L1055.7,55.3 L1055.9,54.4 L1056.2,53.1 L1056.5,52.5 L1056.8,51.8 L1057.1,50.6 L1057.3,48.8 L1057.6,47.7 L1057.9,47.5 L1058.2,47.1 L1058.5,45.9 L1058.7,45.6 L1059.0,44.5 L1059.3,44.6 L1059.6,44.7 L1059.9,44.5 L1060.2,44.8 L1060.4,45.4 L1060.7,45.4 L1061.0,45.8 L1061.3,47.0 L1061.6,47.5 L1061.8,47.9 L1062.1,49.2 L1062.4,49.8 L1062.7,51.1 L1063.0,51.9 L1063.3,52.9 L1063.5,53.8 L1063.8,55.2 L1064.1,56.3 L1064.4,58.1 L1064.7,58.9 L1064.9,59.9 L1065.2,62.3 L1065.5,62.6 L1065.8,65.2 L1066.1,66.0 L1066.3,68.3 L1066.6,69.5 L1066.9,71.4 L1067.2,73.0 L1067.5,74.7 L1067.8,76.7 L1068.0,78.2 L1068.3,80.6 L1068.6,82.2 L1068.9,84.4 L1069.2,86.7 L1069.4,89.0 L1069.7,91.6 L1070.0,93.2 L1070.3,95.4 L1070.6,97.5 L1070.9,99.8 L1071.1,102.2 L1071.4,103.8 L1071.7,105.8 L1072.0,107.6 L1072.3,109.7 L1072.5,110.9 L1072.8,113.5 L1073.1,115.3 L1073.4,116.6 L1073.7,118.5 L1073.9,120.0 L1074.2,122.2 L1074.5,123.7 L1074.8,125.9 L1075.1,126.5 L1075.4,127.7 L1075.6,129.2 L1075.9,130.0 L1076.2,131.3 L1076.5,132.3 L1076.8,133.3 L1077.0,134.0 L1077.3,134.5 L1077.6,135.8 L1077.9,136.3 L1078.2,137.1 L1078.4,137.2 L1078.7,138.0 L1079.0,138.7 L1079.3,139.4 L1079.6,139.4 L1079.9,141.0 L1080.1,141.2 L1080.4,142.1 L1080.7,142.6 L1081.0,143.3 L1081.3,143.5 L1081.5,143.8 L1081.8,143.8 L1082.1,144.3 L1082.4,145.1 L1082.7,144.4 L1083.0,145.0 L1083.2,145.5 L1083.5,146.2 L1083.8,145.7 L1084.1,146.1 L1084.4,146.5 L1084.6,147.6 L1084.9,146.7 L1085.2,147.1 L1085.5,147.6 L1085.8,147.4 L1086.0,147.9 L1086.3,148.1 L1086.6,148.1 L1086.9,148.5 L1087.2,149.1 L1087.5,148.8 L1087.7,148.8 L1088.0,148.9 L1088.3,149.4 L1088.6,149.8 L1088.9,149.7 L1089.1,150.0 L1089.4,150.8 L1089.7,149.9 L1090.0,150.0 L1090.3,150.5 L1090.6,150.5 L1090.8,150.9 L1091.1,151.2 L1091.4,151.1 L1091.7,151.0 L1092.0,151.4 L1092.2,151.5 L1092.5,151.4 L1092.8,151.4 L1093.1,151.9 L1093.4,151.7 L1093.6,151.6 L1093.9,152.2 L1094.2,152.0 L1094.5,152.1 L1094.8,152.5 L1095.1,152.2 L1095.3,152.5 L1095.6,152.4 L1095.9,152.3 L1096.2,152.9 L1096.5,153.4 L1096.7,152.8 L1097.0,153.5 L1097.3,153.5 L1097.6,153.7 L1097.9,153.0 L1098.1,153.2 L1098.4,154.0 L1098.7,153.6 L1099.0,153.7 L1099.3,154.0 L1099.6,154.0 L1099.8,153.7 L1100.1,153.9 L1100.4,154.2 L1100.7,154.1 L1101.0,153.8 L1101.2,154.5 L1101.5,154.4 L1101.8,154.0 L1102.1,154.0 L1102.4,154.5 L1102.7,153.5 L1102.9,154.3 L1103.2,154.1 L1103.5,154.1 L1103.8,154.6 L1104.1,154.4 L1104.3,155.3 L1104.6,154.3 L1104.9,154.5 L1105.2,154.0 L1105.5,154.8 L1105.7,154.3 L1106.0,154.6 L1106.3,154.9 L1106.6,154.9 L1106.9,154.7 L1107.2,154.9 L1107.4,154.4 L1107.7,154.3 L1108.0,154.2 L1108.3,154.8 L1108.6,155.2 L1108.8,154.6 L1109.1,154.7 L1109.4,154.6 L1109.7,154.8 L1110.0,154.2 L1110.3,155.0 L1110.5,155.0 L1110.8,154.5 L1111.1,154.4 L1111.4,154.5 L1111.7,154.9 L1111.9,155.2 L1112.2,154.5 L1112.5,154.3 L1112.8,154.8 L1113.1,154.9 L1113.3,155.0 L1113.6,154.6 L1113.9,155.0 L1114.2,155.2 L1114.5,154.4 L1114.8,154.8 L1115.0,155.0 L1115.3,155.1 L1115.6,154.7 L1115.9,154.3 L1116.2,154.7 L1116.4,154.5 L1116.7,154.8 L1117.0,155.2 L1117.3,154.7 L1117.6,155.0 L1117.8,154.6 L1118.1,155.2 L1118.4,154.8 L1118.7,154.7 L1119.0,155.5 L1119.3,155.1 L1119.5,155.2 L1119.8,154.4 L1120.1,155.5 L1120.4,155.6 L1120.7,155.0 L1120.9,155.0 L1121.2,154.9 L1121.5,155.4 L1121.8,154.6 L1122.1,155.2 L1122.4,155.7 L1122.6,155.2 L1122.9,155.7 L1123.2,155.2 L1123.5,155.1 L1123.8,155.4 L1124.0,155.2 L1124.3,155.2 L1124.6,155.1 L1124.9,154.9 L1125.2,155.1 L1125.4,155.4 L1125.7,155.6 L1126.0,155.2 L1126.3,155.4 L1126.6,155.0 L1126.9,155.2 L1127.1,155.3 L1127.4,155.3 L1127.7,155.3 L1128.0,155.4 L1128.3,155.7 L1128.5,155.6 L1128.8,155.5 L1129.1,155.0 L1129.4,155.1 L1129.7,155.4 L1130.0,155.4 L1130.2,155.6 L1130.5,154.9 L1130.8,155.5 L1131.1,155.5 L1131.4,155.3 L1131.6,155.2 L1131.9,155.5 L1132.2,155.4 L1132.5,155.6 L1132.8,154.9 L1133.0,155.2 L1133.3,155.9 L1133.6,155.6 L1133.9,155.3 L1134.2,155.4 L1134.5,155.1 L1134.7,156.0 L1135.0,156.0 L1135.3,155.8 L1135.6,155.9 L1135.9,155.7 L1136.1,156.0 L1136.4,155.8 L1136.7,156.0 L1137.0,155.6 L1137.3,155.6 L1137.5,155.4 L1137.8,155.5 L1138.1,155.1 L1138.4,156.0 L1138.7,156.0 L1139.0,155.8 L1139.2,155.9 L1139.5,155.7 L1139.8,155.8" fill="none" stroke="#ff0a80" stroke-width="2.2" stroke-linejoin="round"/>
<path d="M886.8,181.1 L887.1,181.5 L887.4,181.0 L887.6,181.3 L887.9,181.4 L888.2,181.4 L888.5,181.2 L888.8,181.9 L889.1,181.8 L889.3,181.4 L889.6,181.1 L889.9,181.4 L890.2,181.8 L890.5,180.9 L890.7,181.7 L891.0,181.5 L891.3,181.4 L891.6,181.8 L891.9,181.5 L892.1,181.4 L892.4,181.8 L892.7,181.0 L893.0,182.0 L893.3,181.2 L893.6,181.2 L893.8,181.9 L894.1,182.5 L894.4,181.8 L894.7,181.2 L895.0,180.8 L895.2,181.5 L895.5,181.5 L895.8,181.3 L896.1,181.4 L896.4,181.2 L896.6,181.7 L896.9,181.4 L897.2,181.4 L897.5,180.8 L897.8,181.5 L898.1,181.0 L898.3,181.6 L898.6,181.4 L898.9,180.8 L899.2,181.3 L899.5,181.1 L899.7,181.6 L900.0,181.5 L900.3,181.7 L900.6,181.2 L900.9,181.5 L901.2,181.0 L901.4,181.5 L901.7,181.3 L902.0,181.5 L902.3,181.4 L902.6,181.7 L902.8,181.3 L903.1,181.3 L903.4,181.8 L903.7,181.4 L904.0,181.2 L904.2,181.1 L904.5,181.4 L904.8,181.4 L905.1,181.6 L905.4,181.3 L905.7,181.6 L905.9,181.3 L906.2,181.8 L906.5,181.3 L906.8,181.6 L907.1,181.5 L907.3,181.0 L907.6,181.6 L907.9,181.2 L908.2,181.6 L908.5,180.7 L908.8,180.8 L909.0,180.7 L909.3,180.8 L909.6,181.2 L909.9,181.3 L910.2,181.0 L910.4,181.2 L910.7,181.1 L911.0,181.5 L911.3,181.5 L911.6,181.4 L911.8,181.5 L912.1,181.8 L912.4,181.5 L912.7,180.8 L913.0,181.2 L913.3,181.2 L913.5,181.5 L913.8,181.4 L914.1,181.5 L914.4,180.8 L914.7,181.7 L914.9,181.2 L915.2,181.6 L915.5,181.4 L915.8,181.0 L916.1,181.0 L916.3,181.4 L916.6,181.6 L916.9,181.0 L917.2,180.9 L917.5,180.6 L917.8,181.0 L918.0,181.0 L918.3,181.1 L918.6,181.4 L918.9,181.1 L919.2,180.9 L919.4,181.1 L919.7,181.2 L920.0,181.3 L920.3,181.2 L920.6,181.2 L920.9,181.4 L921.1,181.1 L921.4,180.9 L921.7,181.1 L922.0,181.7 L922.3,180.9 L922.5,181.9 L922.8,181.0 L923.1,181.4 L923.4,180.7 L923.7,181.1 L923.9,181.6 L924.2,180.8 L924.5,181.0 L924.8,181.3 L925.1,181.3 L925.4,180.7 L925.6,180.8 L925.9,181.2 L926.2,181.2 L926.5,181.4 L926.8,181.1 L927.0,181.3 L927.3,181.5 L927.6,180.8 L927.9,181.4 L928.2,181.4 L928.5,181.5 L928.7,181.0 L929.0,181.1 L929.3,181.2 L929.6,181.0 L929.9,181.4 L930.1,181.2 L930.4,180.8 L930.7,181.2 L931.0,180.8 L931.3,180.7 L931.5,180.8 L931.8,181.1 L932.1,181.1 L932.4,181.1 L932.7,181.3 L933.0,181.7 L933.2,180.8 L933.5,181.2 L933.8,181.2 L934.1,180.7 L934.4,180.9 L934.6,181.1 L934.9,181.1 L935.2,180.8 L935.5,181.3 L935.8,181.1 L936.0,181.3 L936.3,181.5 L936.6,180.7 L936.9,181.4 L937.2,181.2 L937.5,180.8 L937.7,181.0 L938.0,180.9 L938.3,180.7 L938.6,181.3 L938.9,180.8 L939.1,180.5 L939.4,181.3 L939.7,180.9 L940.0,181.1 L940.3,181.1 L940.6,180.9 L940.8,180.9 L941.1,180.3 L941.4,180.9 L941.7,180.7 L942.0,181.2 L942.2,180.8 L942.5,180.8 L942.8,181.0 L943.1,180.7 L943.4,180.8 L943.6,180.9 L943.9,181.1 L944.2,180.6 L944.5,181.2 L944.8,181.0 L945.1,180.8 L945.3,181.1 L945.6,181.3 L945.9,181.3 L946.2,180.7 L946.5,181.4 L946.7,181.0 L947.0,181.4 L947.3,180.7 L947.6,180.9 L947.9,180.9 L948.2,180.6 L948.4,180.8 L948.7,181.2 L949.0,181.3 L949.3,181.1 L949.6,181.0 L949.8,180.8 L950.1,181.5 L950.4,180.6 L950.7,180.6 L951.0,180.7 L951.2,181.0 L951.5,180.8 L951.8,181.2 L952.1,180.5 L952.4,181.2 L952.7,181.4 L952.9,181.2 L953.2,180.8 L953.5,180.7 L953.8,181.2 L954.1,180.4 L954.3,180.7 L954.6,180.4 L954.9,180.9 L955.2,181.4 L955.5,180.8 L955.7,181.2 L956.0,180.6 L956.3,180.7 L956.6,180.7 L956.9,181.2 L957.2,180.6 L957.4,180.7 L957.7,180.9 L958.0,181.3 L958.3,180.9 L958.6,181.4 L958.8,181.0 L959.1,180.8 L959.4,181.2 L959.7,180.7 L960.0,180.6 L960.3,180.9 L960.5,180.4 L960.8,180.5 L961.1,180.6 L961.4,180.9 L961.7,181.1 L961.9,181.2 L962.2,180.8 L962.5,180.9 L962.8,180.7 L963.1,180.4 L963.3,180.9 L963.6,180.6 L963.9,181.0 L964.2,180.7 L964.5,180.5 L964.8,180.9 L965.0,180.7 L965.3,180.4 L965.6,181.1 L965.9,180.9 L966.2,180.9 L966.4,180.8 L966.7,180.6 L967.0,180.0 L967.3,180.6 L967.6,180.7 L967.9,180.9 L968.1,180.4 L968.4,180.9 L968.7,180.8 L969.0,181.2 L969.3,180.6 L969.5,180.8 L969.8,180.8 L970.1,180.9 L970.4,181.1 L970.7,180.9 L970.9,180.4 L971.2,181.2 L971.5,180.2 L971.8,180.9 L972.1,181.1 L972.4,180.6 L972.6,180.7 L972.9,180.7 L973.2,180.4 L973.5,180.9 L973.8,180.5 L974.0,180.8 L974.3,180.9 L974.6,181.1 L974.9,181.1 L975.2,180.9 L975.4,180.9 L975.7,180.7 L976.0,180.7 L976.3,181.0 L976.6,180.9 L976.9,180.9 L977.1,180.7 L977.4,181.0 L977.7,180.4 L978.0,180.6 L978.3,180.8 L978.5,181.0 L978.8,180.3 L979.1,180.4 L979.4,180.3 L979.7,180.9 L980.0,180.9 L980.2,181.1 L980.5,181.4 L980.8,180.3 L981.1,180.6 L981.4,180.5 L981.6,180.4 L981.9,180.7 L982.2,180.5 L982.5,180.7 L982.8,180.6 L983.0,180.2 L983.3,180.8 L983.6,180.8 L983.9,180.5 L984.2,180.0 L984.5,180.0 L984.7,180.2 L985.0,180.8 L985.3,180.8 L985.6,180.7 L985.9,180.7 L986.1,179.9 L986.4,180.7 L986.7,180.4 L987.0,180.5 L987.3,180.3 L987.5,180.0 L987.8,180.8 L988.1,180.7 L988.4,180.3 L988.7,180.2 L989.0,180.4 L989.2,180.9 L989.5,180.8 L989.8,180.6 L990.1,180.9 L990.4,180.7 L990.6,180.3 L990.9,180.8 L991.2,180.6 L991.5,180.3 L991.8,180.9 L992.1,180.7 L992.3,180.2 L992.6,180.8 L992.9,180.6 L993.2,180.5 L993.5,180.4 L993.7,180.3 L994.0,180.1 L994.3,180.6 L994.6,180.7 L994.9,180.5 L995.1,180.6 L995.4,180.4 L995.7,180.4 L996.0,180.7 L996.3,180.7 L996.6,181.0 L996.8,180.4 L997.1,180.6 L997.4,180.5 L997.7,180.6 L998.0,180.9 L998.2,180.6 L998.5,180.3 L998.8,180.4 L999.1,180.3 L999.4,180.4 L999.7,180.3 L999.9,180.4 L1000.2,180.5 L1000.5,180.6 L1000.8,180.3 L1001.1,180.5 L1001.3,180.5 L1001.6,180.7 L1001.9,180.6 L1002.2,180.6 L1002.5,180.6 L1002.7,180.8 L1003.0,180.4 L1003.3,180.1 L1003.6,180.6 L1003.9,180.2 L1004.2,179.8 L1004.4,180.6 L1004.7,180.5 L1005.0,180.5 L1005.3,180.6 L1005.6,180.4 L1005.8,180.8 L1006.1,180.5 L1006.4,180.4 L1006.7,180.5 L1007.0,179.9 L1007.2,180.6 L1007.5,180.0 L1007.8,180.5 L1008.1,180.4 L1008.4,180.5 L1008.7,180.2 L1008.9,180.9 L1009.2,179.8 L1009.5,180.4 L1009.8,180.2 L1010.1,180.0 L1010.3,180.8 L1010.6,180.5 L1010.9,181.1 L1011.2,180.6 L1011.5,180.5 L1011.8,180.6 L1012.0,180.0 L1012.3,180.0 L1012.6,180.8 L1012.9,180.6 L1013.2,180.2 L1013.4,180.4 L1013.7,180.4 L1014.0,180.7 L1014.3,180.5 L1014.6,180.2 L1014.8,180.6 L1015.1,180.2 L1015.4,180.5 L1015.7,180.2 L1016.0,179.5 L1016.3,180.8 L1016.5,180.1 L1016.8,180.7 L1017.1,180.5 L1017.4,180.2 L1017.7,180.0 L1017.9,180.9 L1018.2,180.4 L1018.5,180.7 L1018.8,180.5 L1019.1,180.6 L1019.4,180.4 L1019.6,180.0 L1019.9,180.1 L1020.2,180.5 L1020.5,180.0 L1020.8,180.2 L1021.0,180.3 L1021.3,180.7 L1021.6,180.8 L1021.9,179.7 L1022.2,180.4 L1022.4,180.8 L1022.7,179.9 L1023.0,180.0 L1023.3,180.7 L1023.6,180.4 L1023.9,180.2 L1024.1,180.4 L1024.4,180.5 L1024.7,180.3 L1025.0,180.4 L1025.3,180.4 L1025.5,180.4 L1025.8,180.4 L1026.1,180.4 L1026.4,180.3 L1026.7,180.6 L1026.9,180.2 L1027.2,180.2 L1027.5,179.9 L1027.8,180.1 L1028.1,180.3 L1028.4,180.2 L1028.6,180.5 L1028.9,180.0 L1029.2,180.1 L1029.5,179.7 L1029.8,180.2 L1030.0,180.6 L1030.3,180.4 L1030.6,180.2 L1030.9,180.4 L1031.2,180.3 L1031.5,180.0 L1031.7,180.0 L1032.0,180.0 L1032.3,180.4 L1032.6,180.4 L1032.9,180.4 L1033.1,180.2 L1033.4,180.8 L1033.7,180.2 L1034.0,180.4 L1034.3,180.3 L1034.5,180.5 L1034.8,179.8 L1035.1,180.4 L1035.4,180.2 L1035.7,180.2 L1036.0,179.9 L1036.2,180.0 L1036.5,180.6 L1036.8,180.5 L1037.1,179.8 L1037.4,180.3 L1037.6,180.1 L1037.9,180.5 L1038.2,180.3 L1038.5,180.4 L1038.8,180.2 L1039.1,180.2 L1039.3,180.0 L1039.6,179.8 L1039.9,180.0 L1040.2,180.5 L1040.5,180.6 L1040.7,179.9 L1041.0,179.9 L1041.3,180.0 L1041.6,179.9 L1041.9,179.8 L1042.1,180.0 L1042.4,180.3 L1042.7,180.4 L1043.0,180.6 L1043.3,180.1 L1043.6,179.5 L1043.8,180.0 L1044.1,179.8 L1044.4,180.0 L1044.7,179.9 L1045.0,180.4 L1045.2,179.9 L1045.5,180.1 L1045.8,180.6 L1046.1,180.1 L1046.4,179.6 L1046.6,180.4 L1046.9,180.2 L1047.2,180.3 L1047.5,180.3 L1047.8,179.8 L1048.1,179.8 L1048.3,180.1 L1048.6,179.6 L1048.9,179.9 L1049.2,180.4 L1049.5,179.7 L1049.7,180.2 L1050.0,180.4 L1050.3,180.1 L1050.6,179.9 L1050.9,180.4 L1051.2,179.7 L1051.4,180.5 L1051.7,179.8 L1052.0,180.1 L1052.3,179.7 L1052.6,179.8 L1052.8,180.3 L1053.1,180.1 L1053.4,180.2 L1053.7,179.7 L1054.0,179.9 L1054.2,179.7 L1054.5,180.0 L1054.8,180.2 L1055.1,180.2 L1055.4,180.2 L1055.7,179.8 L1055.9,180.2 L1056.2,179.9 L1056.5,180.4 L1056.8,180.0 L1057.1,180.4 L1057.3,179.9 L1057.6,180.2 L1057.9,180.1 L1058.2,179.6 L1058.5,180.2 L1058.7,179.7 L1059.0,179.5 L1059.3,180.0 L1059.6,180.3 L1059.9,180.2 L1060.2,179.7 L1060.4,179.5 L1060.7,179.2 L1061.0,179.8 L1061.3,179.8 L1061.6,179.9 L1061.8,180.3 L1062.1,179.9 L1062.4,179.7 L1062.7,179.6 L1063.0,179.7 L1063.3,179.8 L1063.5,180.1 L1063.8,179.9 L1064.1,179.9 L1064.4,180.0 L1064.7,180.0 L1064.9,180.1 L1065.2,180.3 L1065.5,179.7 L1065.8,179.9 L1066.1,179.9 L1066.3,179.9 L1066.6,180.2 L1066.9,180.1 L1067.2,179.7 L1067.5,180.4 L1067.8,180.1 L1068.0,180.1 L1068.3,179.7 L1068.6,180.1 L1068.9,179.8 L1069.2,179.6 L1069.4,179.9 L1069.7,179.6 L1070.0,179.6 L1070.3,180.0 L1070.6,180.1 L1070.9,179.7 L1071.1,180.2 L1071.4,180.2 L1071.7,180.2 L1072.0,180.0 L1072.3,179.8 L1072.5,180.3 L1072.8,179.8 L1073.1,180.0 L1073.4,180.2 L1073.7,180.4 L1073.9,180.0 L1074.2,180.0 L1074.5,180.0 L1074.8,179.9 L1075.1,180.2 L1075.4,180.2 L1075.6,180.4 L1075.9,179.9 L1076.2,180.1 L1076.5,179.7 L1076.8,179.7 L1077.0,180.3 L1077.3,179.8 L1077.6,179.3 L1077.9,179.7 L1078.2,179.7 L1078.4,179.3 L1078.7,179.9 L1079.0,180.1 L1079.3,179.7 L1079.6,180.1 L1079.9,179.2 L1080.1,180.0 L1080.4,179.8 L1080.7,180.5 L1081.0,179.8 L1081.3,179.8 L1081.5,179.8 L1081.8,179.7 L1082.1,179.7 L1082.4,180.0 L1082.7,179.9 L1083.0,179.9 L1083.2,179.9 L1083.5,179.6 L1083.8,180.3 L1084.1,179.5 L1084.4,180.1 L1084.6,179.7 L1084.9,180.1 L1085.2,179.7 L1085.5,180.1 L1085.8,179.9 L1086.0,180.1 L1086.3,180.3 L1086.6,179.8 L1086.9,179.8 L1087.2,179.1 L1087.5,179.8 L1087.7,180.0 L1088.0,179.7 L1088.3,179.8 L1088.6,179.7 L1088.9,179.2 L1089.1,180.0 L1089.4,179.6 L1089.7,179.4 L1090.0,180.0 L1090.3,179.9 L1090.6,179.9 L1090.8,179.8 L1091.1,179.6 L1091.4,180.0 L1091.7,179.5 L1092.0,179.8 L1092.2,179.5 L1092.5,179.4 L1092.8,180.0 L1093.1,179.5 L1093.4,180.2 L1093.6,179.4 L1093.9,180.0 L1094.2,179.6 L1094.5,179.9 L1094.8,179.9 L1095.1,179.2 L1095.3,179.9 L1095.6,179.6 L1095.9,179.4 L1096.2,180.0 L1096.5,179.8 L1096.7,179.8 L1097.0,180.1 L1097.3,180.0 L1097.6,179.7 L1097.9,179.5 L1098.1,180.1 L1098.4,179.5 L1098.7,179.2 L1099.0,180.2 L1099.3,180.3 L1099.6,179.2 L1099.8,179.8 L1100.1,179.3 L1100.4,179.9 L1100.7,179.5 L1101.0,179.3 L1101.2,179.9 L1101.5,179.4 L1101.8,179.8 L1102.1,179.5 L1102.4,180.1 L1102.7,180.0 L1102.9,179.5 L1103.2,179.0 L1103.5,179.7 L1103.8,179.4 L1104.1,180.0 L1104.3,180.1 L1104.6,179.6 L1104.9,179.9 L1105.2,179.3 L1105.5,179.8 L1105.7,180.1 L1106.0,179.2 L1106.3,179.8 L1106.6,179.7 L1106.9,179.9 L1107.2,179.6 L1107.4,179.6 L1107.7,179.9 L1108.0,179.6 L1108.3,179.7 L1108.6,179.2 L1108.8,179.7 L1109.1,179.8 L1109.4,179.5 L1109.7,179.6 L1110.0,179.0 L1110.3,179.3 L1110.5,179.5 L1110.8,179.5 L1111.1,180.2 L1111.4,179.8 L1111.7,179.2 L1111.9,180.2 L1112.2,179.2 L1112.5,179.2 L1112.8,179.3 L1113.1,179.5 L1113.3,180.3 L1113.6,179.5 L1113.9,179.7 L1114.2,179.1 L1114.5,179.4 L1114.8,180.3 L1115.0,179.9 L1115.3,179.8 L1115.6,180.0 L1115.9,179.7 L1116.2,179.7 L1116.4,179.2 L1116.7,179.1 L1117.0,179.3 L1117.3,179.4 L1117.6,179.3 L1117.8,179.7 L1118.1,180.0 L1118.4,179.5 L1118.7,179.1 L1119.0,179.1 L1119.3,179.8 L1119.5,179.7 L1119.8,179.6 L1120.1,179.7 L1120.4,179.8 L1120.7,179.5 L1120.9,179.6 L1121.2,179.4 L1121.5,178.9 L1121.8,179.5 L1122.1,179.5 L1122.4,179.6 L1122.6,179.3 L1122.9,179.6 L1123.2,179.6 L1123.5,179.3 L1123.8,179.2 L1124.0,179.3 L1124.3,179.5 L1124.6,179.7 L1124.9,180.0 L1125.2,179.4 L1125.4,179.6 L1125.7,179.8 L1126.0,179.1 L1126.3,179.6 L1126.6,179.3 L1126.9,179.3 L1127.1,179.6 L1127.4,179.4 L1127.7,179.5 L1128.0,179.1 L1128.3,179.4 L1128.5,179.2 L1128.8,179.3 L1129.1,180.2 L1129.4,179.4 L1129.7,179.3 L1130.0,179.3 L1130.2,179.2 L1130.5,179.9 L1130.8,179.2 L1131.1,180.1 L1131.4,179.3 L1131.6,179.7 L1131.9,179.4 L1132.2,179.2 L1132.5,179.3 L1132.8,179.8 L1133.0,179.3 L1133.3,178.8 L1133.6,179.9 L1133.9,179.2 L1134.2,179.3 L1134.5,179.8 L1134.7,178.9 L1135.0,179.2 L1135.3,179.5 L1135.6,179.5 L1135.9,179.5 L1136.1,179.1 L1136.4,179.6 L1136.7,179.2 L1137.0,179.4 L1137.3,179.1 L1137.5,179.8 L1137.8,179.2 L1138.1,179.3 L1138.4,179.2 L1138.7,179.4 L1139.0,178.9 L1139.2,179.3 L1139.5,179.3 L1139.8,179.8" fill="none" stroke="#0000e0" stroke-width="2" stroke-linejoin="round"/>
<line x1="971.0" y1="71" x2="971.0" y2="161.5" stroke="#1f1f85" stroke-width="1.8" stroke-dasharray="1.5 1.2"/>
<line x1="1059.9" y1="44" x2="1059.9" y2="153.4" stroke="#1f1f85" stroke-width="1.8" stroke-dasharray="1.5 1.2"/>
<line x1="1139.8" y1="199.5" x2="1139.8" y2="203.3" stroke="#333" stroke-width="1.5"/>
<line x1="1122.9" y1="199.5" x2="1122.9" y2="201.7" stroke="#333" stroke-width="1.5"/>
<line x1="1106.1" y1="199.5" x2="1106.1" y2="203.3" stroke="#333" stroke-width="1.5"/>
<line x1="1089.2" y1="199.5" x2="1089.2" y2="201.7" stroke="#333" stroke-width="1.5"/>
<line x1="1072.3" y1="199.5" x2="1072.3" y2="203.3" stroke="#333" stroke-width="1.5"/>
<line x1="1055.5" y1="199.5" x2="1055.5" y2="201.7" stroke="#333" stroke-width="1.5"/>
<line x1="1038.6" y1="199.5" x2="1038.6" y2="203.3" stroke="#333" stroke-width="1.5"/>
<line x1="1021.7" y1="199.5" x2="1021.7" y2="201.7" stroke="#333" stroke-width="1.5"/>
<line x1="1004.9" y1="199.5" x2="1004.9" y2="203.3" stroke="#333" stroke-width="1.5"/>
<line x1="988.0" y1="199.5" x2="988.0" y2="201.7" stroke="#333" stroke-width="1.5"/>
<line x1="971.1" y1="199.5" x2="971.1" y2="203.3" stroke="#333" stroke-width="1.5"/>
<line x1="954.3" y1="199.5" x2="954.3" y2="201.7" stroke="#333" stroke-width="1.5"/>
<line x1="937.4" y1="199.5" x2="937.4" y2="203.3" stroke="#333" stroke-width="1.5"/>
<line x1="920.5" y1="199.5" x2="920.5" y2="201.7" stroke="#333" stroke-width="1.5"/>
<line x1="903.7" y1="199.5" x2="903.7" y2="203.3" stroke="#333" stroke-width="1.5"/>
<line x1="886.8" y1="199.5" x2="886.8" y2="201.7" stroke="#333" stroke-width="1.5"/>
<text transform="translate(10.80,38.70) scale(1.0253,1)" font-family="&quot;Liberation Serif&quot;, serif" font-weight="bold" font-size="36.67" fill="#000">(a)</text>
<text transform="translate(588.23,38.84) scale(1.0234,1)" font-family="&quot;Liberation Serif&quot;, serif" font-weight="bold" font-size="36.00" fill="#000">(b)</text>
<text transform="translate(75.85,424.41) scale(1.0400,1)" font-family="&quot;Liberation Sans&quot;, sans-serif" font-weight="bold" font-size="19.15" fill="#000">10</text>
<text transform="translate(137.76,424.41) scale(1.0400,1)" font-family="&quot;Liberation Sans&quot;, sans-serif" font-weight="bold" font-size="19.15" fill="#000">20</text>
<text transform="translate(199.47,424.41) scale(1.0400,1)" font-family="&quot;Liberation Sans&quot;, sans-serif" font-weight="bold" font-size="19.15" fill="#000">30</text>
<text transform="translate(261.08,424.41) scale(1.0400,1)" font-family="&quot;Liberation Sans&quot;, sans-serif" font-weight="bold" font-size="19.15" fill="#000">40</text>
<text transform="translate(322.60,424.41) scale(1.0400,1)" font-family="&quot;Liberation Sans&quot;, sans-serif" font-weight="bold" font-size="19.15" fill="#000">50</text>
<text transform="translate(384.11,424.41) scale(1.0400,1)" font-family="&quot;Liberation Sans&quot;, sans-serif" font-weight="bold" font-size="19.15" fill="#000">60</text>
<text transform="translate(445.72,424.41) scale(1.0400,1)" font-family="&quot;Liberation Sans&quot;, sans-serif" font-weight="bold" font-size="19.15" fill="#000">70</text>
<text transform="translate(507.43,424.41) scale(1.0400,1)" font-family="&quot;Liberation Sans&quot;, sans-serif" font-weight="bold" font-size="19.15" fill="#000">80</text>
<text transform="translate(568.94,424.41) scale(1.0400,1)" font-family="&quot;Liberation Sans&quot;, sans-serif" font-weight="bold" font-size="19.15" fill="#000">90</text>
<text transform="translate(243.47,448.93) scale(1.0294,1)" font-family="&quot;Liberation Sans&quot;, sans-serif" font-weight="bold" font-size="20.32" fill="#000">2theta (degree)</text>
<text transform="translate(38.86,288.60) rotate(-90) scale(1.0571,1)" font-family="&quot;Liberation Sans&quot;, sans-serif" font-weight="bold" font-size="20.21" fill="#000">Intensity (a.u.)</text>
<text transform="translate(89.06,375.63) scale(1.0261,1)" font-family="&quot;Liberation Sans&quot;, sans-serif" font-weight="bold" font-size="17.30" fill="#ff0a80">Pd-PDF#46-1043</text>
<text transform="translate(280.80,113.83) rotate(-90) scale(1.1743,1)" font-family="&quot;Liberation Sans&quot;, sans-serif" font-weight="bold" font-size="16.17" fill="#ff0a80">Pd (111)</text>
<text transform="translate(318.36,119.51) rotate(-90) scale(1.1160,1)" font-family="&quot;Liberation Sans&quot;, sans-serif" font-weight="bold" font-size="15.43" fill="#ff0a80">Pd (200)</text>
<text transform="translate(449.36,121.71) rotate(-90) scale(1.0524,1)" font-family="&quot;Liberation Sans&quot;, sans-serif" font-weight="bold" font-size="16.38" fill="#ff0a80">Pd (220)</text>
<text transform="translate(535.68,121.72) rotate(-90) scale(1.1336,1)" font-family="&quot;Liberation Sans&quot;, sans-serif" font-weight="bold" font-size="15.32" fill="#ff0a80">Pd (311)</text>
<g stroke="#007a7a" stroke-width="0.35">
<text transform="translate(94.72,110.20) scale(1.0000,1)" font-family="&quot;Liberation Sans&quot;, sans-serif" font-weight="bold" font-size="18.12" fill="#007a7a">Ti</text>
<text transform="translate(110.93,119.19) scale(1.2705,1)" font-family="&quot;Liberation Sans&quot;, sans-serif" font-weight="bold" font-size="10.70" fill="#007a7a">3</text>
<text transform="translate(118.15,110.03) scale(1.0806,1)" font-family="&quot;Liberation Sans&quot;, sans-serif" font-weight="bold" font-size="16.89" fill="#007a7a">AlC</text>
<text transform="translate(151.07,119.30) scale(1.3158,1)" font-family="&quot;Liberation Sans&quot;, sans-serif" font-weight="bold" font-size="10.86" fill="#007a7a">2</text>
<text transform="translate(158.61,110.61) scale(1.0181,1)" font-family="&quot;Liberation Sans&quot;, sans-serif" font-weight="bold" font-size="18.51" fill="#007a7a">/Pd-5%</text>
</g>
<g stroke="#0000e0" stroke-width="0.35">
<text transform="translate(94.72,173.00) scale(1.0000,1)" font-family="&quot;Liberation Sans&quot;, sans-serif" font-weight="bold" font-size="18.41" fill="#0000e0">Ti</text>
<text transform="translate(110.94,182.00) scale(1.2665,1)" font-family="&quot;Liberation Sans&quot;, sans-serif" font-weight="bold" font-size="10.42" fill="#0000e0">3</text>
<text transform="translate(118.15,172.83) scale(1.0636,1)" font-family="&quot;Liberation Sans&quot;, sans-serif" font-weight="bold" font-size="17.16" fill="#0000e0">AlC</text>
<text transform="translate(150.67,182.10) scale(1.2821,1)" font-family="&quot;Liberation Sans&quot;, sans-serif" font-weight="bold" font-size="11.14" fill="#0000e0">2</text>
<text transform="translate(159.02,173.41) scale(0.9792,1)" font-family="&quot;Liberation Sans&quot;, sans-serif" font-weight="bold" font-size="18.78" fill="#0000e0">/Pd-3%</text>
</g>
<g stroke="#ff0000" stroke-width="0.35">
<text transform="translate(95.82,237.00) scale(1.0000,1)" font-family="&quot;Liberation Sans&quot;, sans-serif" font-weight="bold" font-size="18.26" fill="#ff0000">Ti</text>
<text transform="translate(112.03,245.30) scale(1.3591,1)" font-family="&quot;Liberation Sans&quot;, sans-serif" font-weight="bold" font-size="9.86" fill="#ff0000">3</text>
<text transform="translate(119.56,236.83) scale(1.0614,1)" font-family="&quot;Liberation Sans&quot;, sans-serif" font-weight="bold" font-size="17.03" fill="#ff0000">AlC</text>
<text transform="translate(152.09,245.40) scale(1.2934,1)" font-family="&quot;Liberation Sans&quot;, sans-serif" font-weight="bold" font-size="10.57" fill="#ff0000">2</text>
<text transform="translate(159.71,237.41) scale(1.0058,1)" font-family="&quot;Liberation Sans&quot;, sans-serif" font-weight="bold" font-size="18.65" fill="#ff0000">/Pd-1%</text>
</g>
<g stroke="#000" stroke-width="0.9">
<text transform="translate(108.86,312.20) scale(1.0000,1)" font-family="&quot;Liberation Sans&quot;, sans-serif" font-weight="normal" font-size="17.25" fill="#000">Ti</text>
<text transform="translate(124.83,321.39) scale(1.3145,1)" font-family="&quot;Liberation Sans&quot;, sans-serif" font-weight="normal" font-size="10.85" fill="#000">3</text>
<text transform="translate(133.40,312.04) scale(1.1803,1)" font-family="&quot;Liberation Sans&quot;, sans-serif" font-weight="normal" font-size="16.08" fill="#000">AlC</text>
<text transform="translate(164.64,321.80) scale(1.2244,1)" font-family="&quot;Liberation Sans&quot;, sans-serif" font-weight="normal" font-size="12.43" fill="#000">2</text>
</g>
<text transform="translate(1149.93,420.80) scale(1.0200,1)" font-family="&quot;Liberation Sans&quot;, sans-serif" font-weight="bold" font-size="19.86" fill="#000">0</text>
<text transform="translate(1052.02,420.80) scale(1.0200,1)" font-family="&quot;Liberation Sans&quot;, sans-serif" font-weight="bold" font-size="19.86" fill="#000">200</text>
<text transform="translate(965.46,420.80) scale(1.0200,1)" font-family="&quot;Liberation Sans&quot;, sans-serif" font-weight="bold" font-size="19.86" fill="#000">400</text>
<text transform="translate(878.59,420.80) scale(1.0200,1)" font-family="&quot;Liberation Sans&quot;, sans-serif" font-weight="bold" font-size="19.86" fill="#000">600</text>
<text transform="translate(792.02,420.80) scale(1.0200,1)" font-family="&quot;Liberation Sans&quot;, sans-serif" font-weight="bold" font-size="19.86" fill="#000">800</text>
<text transform="translate(699.48,420.80) scale(1.0200,1)" font-family="&quot;Liberation Sans&quot;, sans-serif" font-weight="bold" font-size="19.86" fill="#000">1000</text>
<text transform="translate(612.81,420.80) scale(1.0200,1)" font-family="&quot;Liberation Sans&quot;, sans-serif" font-weight="bold" font-size="19.86" fill="#000">1200</text>
<text transform="translate(805.24,447.46) scale(1.0319,1)" font-family="&quot;Liberation Sans&quot;, sans-serif" font-weight="bold" font-size="20.21" fill="#000">Binding Energy (eV)</text>
<text transform="translate(623.09,286.28) rotate(-90) scale(1.0297,1)" font-family="&quot;Liberation Sans&quot;, sans-serif" font-weight="bold" font-size="20.53" fill="#000">Intensity (a.u.)</text>
<g stroke="#000" stroke-width="0.7">
<text transform="translate(643.09,265.20) scale(1.0000,1)" font-family="&quot;Liberation Sans&quot;, sans-serif" font-weight="normal" font-size="20.29" fill="#000">Ti</text>
<text transform="translate(660.44,274.38) scale(1.3848,1)" font-family="&quot;Liberation Sans&quot;, sans-serif" font-weight="normal" font-size="11.83" fill="#000">3</text>
<text transform="translate(669.50,265.01) scale(1.1346,1)" font-family="&quot;Liberation Sans&quot;, sans-serif" font-weight="normal" font-size="18.92" fill="#000">AlC</text>
<text transform="translate(703.73,274.80) scale(1.3834,1)" font-family="&quot;Liberation Sans&quot;, sans-serif" font-weight="normal" font-size="12.57" fill="#000">2</text>
<text transform="translate(713.00,265.59) scale(1.0037,1)" font-family="&quot;Liberation Sans&quot;, sans-serif" font-weight="normal" font-size="20.54" fill="#000">/Pd-3%</text>
<text transform="translate(652.89,344.40) scale(1.0000,1)" font-family="&quot;Liberation Sans&quot;, sans-serif" font-weight="normal" font-size="20.43" fill="#000">Ti</text>
<text transform="translate(670.04,352.95) scale(1.1222,1)" font-family="&quot;Liberation Sans&quot;, sans-serif" font-weight="normal" font-size="14.79" fill="#000">3</text>
<text transform="translate(679.50,344.21) scale(1.1198,1)" font-family="&quot;Liberation Sans&quot;, sans-serif" font-weight="normal" font-size="19.05" fill="#000">AlC</text>
<text transform="translate(713.56,353.50) scale(1.0750,1)" font-family="&quot;Liberation Sans&quot;, sans-serif" font-weight="normal" font-size="15.57" fill="#000">2</text>
</g>
<text transform="translate(929.73,269.98) rotate(-90) scale(0.9726,1)" font-family="&quot;Liberation Sans&quot;, sans-serif" font-weight="bold" font-size="17.46" fill="#000">O 1s</text>
<text transform="translate(960.15,302.67) rotate(-90) scale(0.9888,1)" font-family="&quot;Liberation Sans&quot;, sans-serif" font-weight="bold" font-size="16.91" fill="#000">Ti 2p</text>
<text transform="translate(1016.34,317.79) rotate(-90) scale(1.0981,1)" font-family="&quot;Liberation Sans&quot;, sans-serif" font-weight="bold" font-size="15.54" fill="#000">Pd 3d</text>
<text transform="translate(1037.53,314.28) rotate(-90) scale(1.0001,1)" font-family="&quot;Liberation Sans&quot;, sans-serif" font-weight="bold" font-size="17.04" fill="#000">C 1s</text>
<text transform="translate(1129.13,328.52) rotate(-90) scale(1.0822,1)" font-family="&quot;Liberation Sans&quot;, sans-serif" font-weight="bold" font-size="16.06" fill="#000">Al 2p</text>
<text transform="translate(1128.64,215.47) scale(1.0600,1)" font-family="&quot;Liberation Sans&quot;, sans-serif" font-weight="bold" font-size="12.54" fill="#111">330</text>
<text transform="translate(1094.90,215.47) scale(1.0600,1)" font-family="&quot;Liberation Sans&quot;, sans-serif" font-weight="bold" font-size="12.54" fill="#111">332</text>
<text transform="translate(1060.97,215.47) scale(1.0600,1)" font-family="&quot;Liberation Sans&quot;, sans-serif" font-weight="bold" font-size="12.54" fill="#111">334</text>
<text transform="translate(1027.44,215.47) scale(1.0600,1)" font-family="&quot;Liberation Sans&quot;, sans-serif" font-weight="bold" font-size="12.54" fill="#111">336</text>
<text transform="translate(993.64,215.47) scale(1.0600,1)" font-family="&quot;Liberation Sans&quot;, sans-serif" font-weight="bold" font-size="12.54" fill="#111">338</text>
<text transform="translate(959.97,215.47) scale(1.0600,1)" font-family="&quot;Liberation Sans&quot;, sans-serif" font-weight="bold" font-size="12.54" fill="#111">340</text>
<text transform="translate(926.24,215.47) scale(1.0600,1)" font-family="&quot;Liberation Sans&quot;, sans-serif" font-weight="bold" font-size="12.54" fill="#111">342</text>
<text transform="translate(892.31,215.47) scale(1.0600,1)" font-family="&quot;Liberation Sans&quot;, sans-serif" font-weight="bold" font-size="12.54" fill="#111">344</text>
<text transform="translate(937.24,235.51) scale(1.1592,1)" font-family="&quot;Liberation Sans&quot;, sans-serif" font-weight="bold" font-size="14.26" fill="#111">Binding Energy (eV)</text>
<text transform="translate(875.51,175.76) rotate(-90) scale(1.1649,1)" font-family="&quot;Liberation Sans&quot;, sans-serif" font-weight="bold" font-size="14.26" fill="#111">Intensity (a.u.)</text>
<g stroke="#1f1f85" stroke-width="0.35">
<text transform="translate(953.07,172.31) scale(0.9864,1)" font-family="&quot;Liberation Sans&quot;, sans-serif" font-weight="bold" font-size="13.94" fill="#1f1f85">340.01</text>
<text transform="translate(1041.47,168.61) scale(1.0178,1)" font-family="&quot;Liberation Sans&quot;, sans-serif" font-weight="bold" font-size="13.94" fill="#1f1f85">334.74</text>
</g>
<text transform="translate(951.59,66.26) scale(1.0657,1)" font-family="&quot;Liberation Sans&quot;, sans-serif" font-weight="bold" font-size="13.51" fill="#111">Pd 3d</text>
<text transform="translate(991.03,72.91) scale(0.9824,1)" font-family="&quot;Liberation Sans&quot;, sans-serif" font-weight="bold" font-size="8.65" fill="#111">3/2</text>
<text transform="translate(1041.49,40.07) scale(1.0904,1)" font-family="&quot;Liberation Sans&quot;, sans-serif" font-weight="bold" font-size="13.24" fill="#111">Pd 3d</text>
<text transform="translate(1080.34,46.61) scale(0.9425,1)" font-family="&quot;Liberation Sans&quot;, sans-serif" font-weight="bold" font-size="9.32" fill="#111">5/2</text>
</svg>
</body></html>
